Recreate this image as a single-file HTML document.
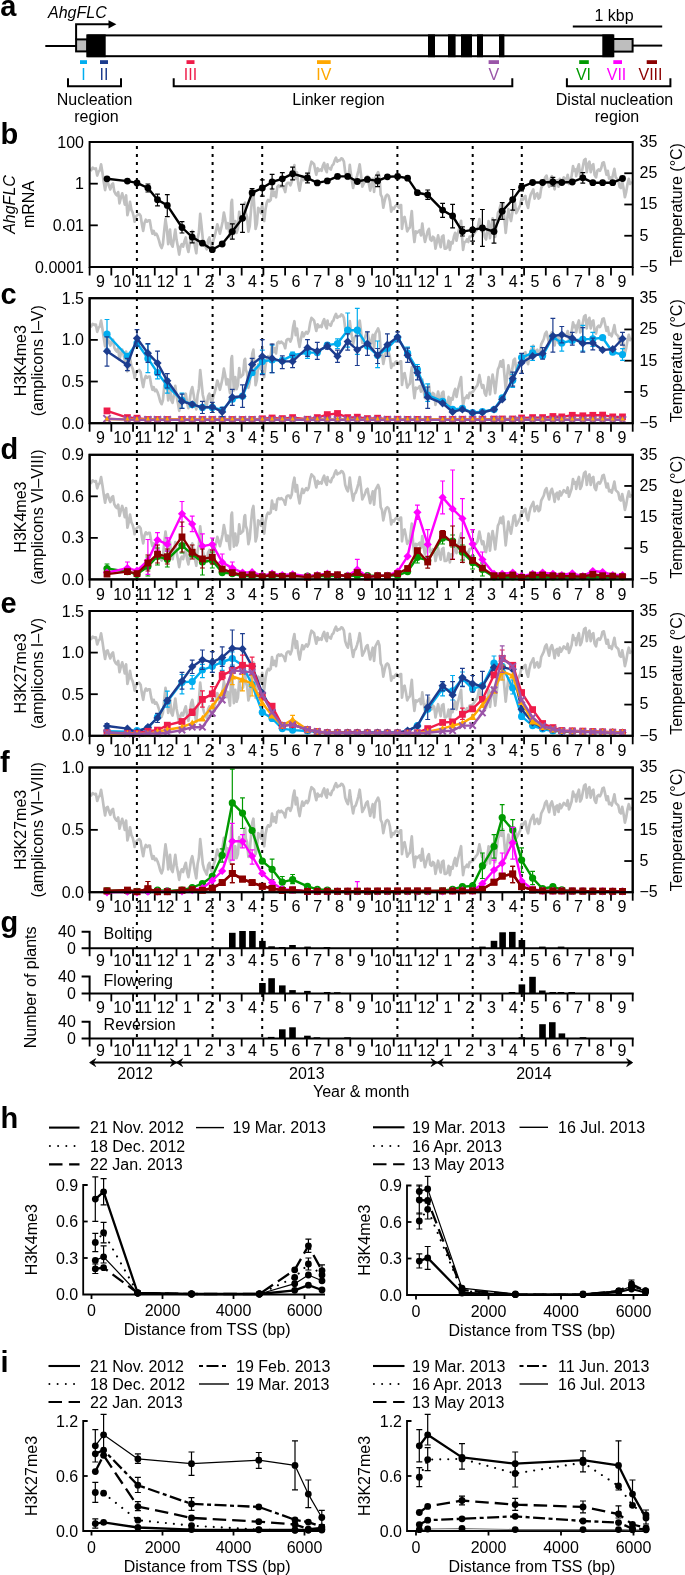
<!DOCTYPE html>
<html><head><meta charset="utf-8"><title>Figure</title>
<style>html,body{margin:0;padding:0;background:#fff;overflow:hidden;} svg{display:block;will-change:transform;} text{font-family:"Liberation Sans", sans-serif;}</style>
</head><body>
<svg width="685" height="1575" viewBox="0 0 685 1575" font-family='"Liberation Sans", sans-serif'>
<rect width="685" height="1575" fill="#fff"/>
<text x="0.30" y="15.80" font-size="29" text-anchor="start" font-weight="bold" font-style="normal" fill="#000" >a</text>
<text x="48.00" y="18.40" font-size="16" text-anchor="start" font-weight="normal" font-style="italic" fill="#000" >AhgFLC</text>
<polyline points="76.1,39.4 76.1,24.3 110,24.3" fill="none" stroke="#000" stroke-width="2"/>
<polygon points="108.5,20.3 116.4,24.3 108.5,28.5" fill="#000"/>
<line x1="45.30" y1="46.00" x2="76.10" y2="46.00" stroke="#000" stroke-width="2" />
<rect x="76.1" y="39.4" width="11.2" height="12.0" fill="#bebebe" stroke="#000" stroke-width="2"/>
<rect x="87.3" y="35.4" width="526" height="20.8" fill="#fff" stroke="#000" stroke-width="2"/>
<rect x="87.3" y="34.4" width="18.40" height="22.8" fill="#000"/>
<rect x="428" y="34.4" width="7.00" height="22.8" fill="#000"/>
<rect x="448" y="34.4" width="7.60" height="22.8" fill="#000"/>
<rect x="461" y="34.4" width="11.00" height="22.8" fill="#000"/>
<rect x="477" y="34.4" width="6.00" height="22.8" fill="#000"/>
<rect x="499" y="34.4" width="5.40" height="22.8" fill="#000"/>
<rect x="602.3" y="34.4" width="11.00" height="22.8" fill="#000"/>
<rect x="613.3" y="39.0" width="19.3" height="12.6" fill="#bebebe" stroke="#000" stroke-width="2"/>
<line x1="632.60" y1="45.60" x2="662.20" y2="45.60" stroke="#000" stroke-width="2" />
<line x1="572.80" y1="26.50" x2="662.20" y2="26.50" stroke="#000" stroke-width="2" />
<text x="614.00" y="20.80" font-size="16" text-anchor="middle" font-weight="normal" font-style="normal" fill="#000" >1 kbp</text>
<rect x="80" y="60.2" width="7.00" height="3.8" fill="#00adef"/>
<text x="83.60" y="80.30" font-size="16" text-anchor="middle" font-weight="normal" font-style="normal" fill="#00adef" >I</text>
<rect x="100" y="60.2" width="8.00" height="3.8" fill="#1c3c8e"/>
<text x="104.00" y="80.30" font-size="16" text-anchor="middle" font-weight="normal" font-style="normal" fill="#1c3c8e" >II</text>
<rect x="186.5" y="60.2" width="8.00" height="3.8" fill="#ef1c4a"/>
<text x="190.50" y="80.30" font-size="16" text-anchor="middle" font-weight="normal" font-style="normal" fill="#ef1c4a" >III</text>
<rect x="317" y="60.2" width="13.70" height="3.8" fill="#ffa700"/>
<text x="323.80" y="80.30" font-size="16" text-anchor="middle" font-weight="normal" font-style="normal" fill="#ffa700" >IV</text>
<rect x="488.6" y="60.2" width="10.40" height="3.8" fill="#9a55a8"/>
<text x="493.80" y="80.30" font-size="16" text-anchor="middle" font-weight="normal" font-style="normal" fill="#9a55a8" >V</text>
<rect x="579.2" y="60.2" width="9.60" height="3.8" fill="#009a00"/>
<text x="583.50" y="80.30" font-size="16" text-anchor="middle" font-weight="normal" font-style="normal" fill="#009a00" >VI</text>
<rect x="613.3" y="60.2" width="8.70" height="3.8" fill="#ff00ff"/>
<text x="616.50" y="80.30" font-size="16" text-anchor="middle" font-weight="normal" font-style="normal" fill="#ff00ff" >VII</text>
<rect x="646.7" y="60.2" width="10.30" height="3.8" fill="#8b0000"/>
<text x="650.50" y="80.30" font-size="16" text-anchor="middle" font-weight="normal" font-style="normal" fill="#8b0000" >VIII</text>
<polyline points="68,78.2 68,86.2 121,86.2 121,78.2" fill="none" stroke="#000" stroke-width="2"/>
<polyline points="173.7,78.2 173.7,86.2 512.3,86.2 512.3,78.2" fill="none" stroke="#000" stroke-width="2"/>
<polyline points="566.9,78.2 566.9,86.2 670.4,86.2 670.4,78.2" fill="none" stroke="#000" stroke-width="2"/>
<text x="94.50" y="105.00" font-size="16" text-anchor="middle" font-weight="normal" font-style="normal" fill="#000" >Nucleation</text>
<text x="96.50" y="122.00" font-size="16" text-anchor="middle" font-weight="normal" font-style="normal" fill="#000" >region</text>
<text x="338.50" y="105.00" font-size="16" text-anchor="middle" font-weight="normal" font-style="normal" fill="#000" >Linker region</text>
<text x="614.50" y="105.00" font-size="16" text-anchor="middle" font-weight="normal" font-style="normal" fill="#000" >Distal nucleation</text>
<text x="617.00" y="122.00" font-size="16" text-anchor="middle" font-weight="normal" font-style="normal" fill="#000" >region</text>
<polyline points="90.6,171.0 92.6,167.7 94.6,169.0 95.9,168.4 97.2,175.6 98.5,171.7 99.8,170.3 101.1,164.4 102.5,173.0 103.8,182.2 105.1,190.1 106.4,182.2 107.7,181.5 109.0,186.1 110.3,189.4 111.7,184.8 113.0,183.5 114.3,191.4 115.6,194.0 116.9,195.4 118.2,192.1 119.5,203.3 120.8,198.0 122.2,193.4 123.5,198.0 124.8,204.6 126.1,195.4 127.4,215.1 128.7,209.8 130.0,201.9 131.4,209.8 132.7,212.5 134.0,217.8 134.6,221.7 136.0,216.4 137.3,215.1 139.2,213.8 140.6,215.8 141.9,224.3 143.2,230.9 144.5,223.0 145.8,219.7 147.1,221.7 148.4,220.4 149.8,220.4 151.1,228.3 152.4,233.6 153.7,230.9 155.0,234.9 156.3,233.6 157.6,236.2 158.9,240.1 160.3,245.4 161.6,248.0 162.9,244.1 164.2,230.9 165.5,219.1 166.8,228.3 168.2,244.1 169.5,233.6 170.0,229.6 171.3,244.1 172.6,246.7 173.9,238.8 175.3,229.6 176.6,240.1 177.9,246.7 179.2,254.6 180.5,246.7 181.8,244.1 183.1,246.7 184.4,241.4 185.8,237.5 187.1,246.7 188.4,252.0 189.7,244.1 191.0,234.9 192.3,230.9 193.7,238.8 195.0,246.7 196.3,253.3 197.6,238.8 198.9,232.2 200.2,213.8 201.5,225.7 202.8,238.8 204.2,244.1 205.5,246.7 206.8,249.4 208.1,240.1 209.4,237.5 210.7,244.1 212.0,246.7 213.4,240.1 214.7,236.2 216.0,230.9 217.3,224.3 218.6,228.3 219.9,233.6 221.2,228.3 222.6,221.7 223.9,212.5 225.2,219.1 226.5,228.3 227.8,223.0 230.0,236.9 231.3,202.6 232.0,199.9 232.6,213.1 233.9,234.2 235.3,221.0 236.6,232.9 237.9,228.9 239.2,211.8 240.5,221.0 241.8,219.7 243.1,218.4 244.4,203.9 245.1,202.6 245.8,213.1 247.1,217.1 248.4,231.6 249.7,226.3 251.0,210.5 252.3,197.3 253.4,193.3 254.3,206.5 255.6,228.9 256.9,223.7 258.2,207.9 259.6,209.2 260.9,213.1 262.2,203.9 263.5,218.4 264.2,221.0 265.5,209.2 266.8,202.6 268.1,199.9 269.4,201.3 270.7,199.9 272.0,188.1 273.4,196.0 274.7,192.0 276.0,197.3 277.3,186.8 278.6,185.4 279.9,186.8 281.2,185.4 282.6,186.8 283.9,188.1 285.2,192.0 286.5,184.1 287.8,182.8 289.1,182.8 290.4,185.4 291.8,181.5 293.1,170.9 294.4,165.0 295.7,178.8 297.0,172.3 298.3,184.1 299.6,190.7 300.9,182.8 302.3,176.2 303.6,180.2 304.9,177.5 306.2,175.6 307.5,177.5 308.8,174.9 310.1,167.0 311.5,161.7 312.8,163.0 314.1,164.3 315.4,170.9 316.3,174.8 317.6,168.2 318.9,170.8 320.3,169.5 321.6,170.8 322.9,165.6 324.2,162.9 325.5,169.5 326.8,172.2 327.5,164.3 328.1,168.2 329.4,168.2 330.8,169.5 332.1,165.6 333.4,164.3 334.7,160.3 336.0,157.7 337.3,161.6 338.6,160.3 340.0,160.3 341.3,158.3 342.6,159.0 343.9,161.6 345.2,172.2 346.5,176.1 347.9,178.8 349.2,170.8 349.8,164.9 350.5,170.8 351.8,180.1 353.1,188.0 354.4,181.4 355.7,180.1 357.0,176.1 358.4,170.8 359.7,164.3 361.0,174.8 362.3,186.7 363.6,184.0 364.9,181.4 366.2,177.4 367.6,176.1 368.9,184.0 370.2,190.6 371.5,184.0 372.8,178.8 374.1,191.9 375.4,177.4 376.8,174.8 378.1,172.2 379.4,176.1 380.7,194.6 382.0,197.2 383.3,207.7 384.6,201.1 385.9,195.9 387.3,194.6 388.6,195.9 389.9,201.1 391.2,211.7 392.5,207.7 393.8,209.0 395.1,206.4 396.5,205.1 397.8,206.4 399.1,207.7 400.4,205.1 401.1,205.1 402.0,228.8 403.3,218.3 404.6,216.9 405.9,223.5 407.2,231.4 408.5,228.8 409.9,227.5 411.2,215.6 411.8,211.0 413.1,230.1 414.4,242.0 415.8,231.4 417.1,232.8 418.4,231.4 419.7,230.1 421.0,235.4 422.3,223.5 423.6,234.1 425.0,242.0 426.3,236.7 427.6,231.4 428.9,228.8 430.2,239.3 431.5,240.7 432.9,236.7 434.2,238.0 435.5,248.6 436.8,242.0 438.1,235.4 439.4,242.0 440.7,247.2 442.0,236.7 443.4,235.4 444.7,248.6 446.0,248.6 447.3,247.2 448.6,240.7 449.9,249.9 451.2,242.0 452.6,243.3 453.9,236.7 455.2,232.8 456.5,240.7 457.8,234.1 459.1,228.8 460.4,223.5 461.1,220.9 461.8,234.1 463.1,249.9 464.4,242.0 465.7,242.0 467.0,239.3 468.3,242.0 469.6,236.7 470.3,236.9 472.9,235.5 475.5,231.6 477.5,228.9 479.4,219.1 480.8,226.3 482.1,231.6 483.4,228.9 484.7,236.9 486.0,239.5 487.3,231.6 488.6,221.0 490.0,238.2 491.3,226.3 492.6,218.4 493.9,226.3 495.2,236.9 496.5,225.0 497.9,213.1 499.2,210.5 500.5,205.2 501.8,210.5 503.1,203.9 504.4,218.4 505.7,232.9 507.0,221.0 508.4,209.2 509.7,215.8 511.0,221.0 512.3,213.1 513.6,203.9 514.9,202.6 516.2,213.1 517.6,210.5 518.9,207.9 520.2,205.2 521.5,198.6 522.8,199.9 524.1,197.3 525.4,196.0 526.8,203.9 528.1,207.9 529.4,199.9 530.7,194.7 532.0,192.0 533.3,189.4 534.6,198.6 536.0,194.7 537.3,193.3 538.6,198.6 539.9,197.3 541.2,188.1 542.5,185.4 543.8,182.8 545.1,177.5 546.5,175.6 547.8,181.5 549.1,186.8 550.6,178.8 551.9,176.1 553.3,181.4 554.6,189.3 555.9,181.4 557.2,180.1 558.5,186.7 559.8,178.8 561.1,182.7 562.5,180.1 563.8,177.4 565.1,178.8 566.4,180.1 567.7,174.8 569.0,184.0 570.3,180.1 571.6,176.1 573.0,166.2 574.3,170.8 575.6,169.5 576.2,176.1 577.6,168.2 578.9,164.3 580.2,176.1 581.5,173.5 582.8,166.9 584.1,160.3 585.5,159.0 586.8,172.2 588.1,164.3 589.4,161.6 590.7,172.2 592.0,165.6 593.3,164.3 594.6,174.8 596.0,177.4 597.3,170.8 598.6,169.5 599.9,170.8 601.2,168.2 602.5,162.9 603.8,162.3 605.1,168.2 606.5,174.8 607.8,170.8 609.1,178.8 610.4,177.4 611.7,180.1 613.0,174.8 614.4,168.9 615.7,177.4 617.0,178.8 618.3,180.1 619.6,186.7 620.9,188.0 622.2,181.4 623.5,188.0 624.9,197.2 626.2,191.9 627.5,184.0 628.8,178.8 630.1,184.0 631.4,181.4" fill="none" stroke="#c0c0c0" stroke-width="2.7" stroke-linejoin="round"/>
<polyline points="90.6,327.2 92.6,323.9 94.6,325.2 95.9,324.6 97.2,331.8 98.5,327.8 99.8,326.5 101.1,320.6 102.5,329.2 103.8,338.4 105.1,346.3 106.4,338.4 107.7,337.7 109.0,342.3 110.3,345.6 111.7,341.0 113.0,339.7 114.3,347.6 115.6,350.2 116.9,351.6 118.2,348.3 119.5,359.5 120.8,354.2 122.2,349.6 123.5,354.2 124.8,360.8 126.1,351.6 127.4,371.3 128.7,366.0 130.0,358.1 131.4,366.0 132.7,368.7 134.0,373.9 134.6,377.9 136.0,372.6 137.3,371.3 139.2,370.0 140.6,372.0 141.9,380.5 143.2,387.1 144.5,379.2 145.8,375.9 147.1,377.9 148.4,376.6 149.8,376.6 151.1,384.5 152.4,389.8 153.7,387.1 155.0,391.1 156.3,389.8 157.6,392.4 158.9,396.3 160.3,401.6 161.6,404.2 162.9,400.3 164.2,387.1 165.5,375.3 166.8,384.5 168.2,400.3 169.5,389.8 170.0,385.8 171.3,400.3 172.6,402.9 173.9,395.0 175.3,385.8 176.6,396.3 177.9,402.9 179.2,410.8 180.5,402.9 181.8,400.3 183.1,402.9 184.4,397.6 185.8,393.7 187.1,402.9 188.4,408.2 189.7,400.3 191.0,391.1 192.3,387.1 193.7,395.0 195.0,402.9 196.3,409.5 197.6,395.0 198.9,388.4 200.2,370.0 201.5,381.9 202.8,395.0 204.2,400.3 205.5,402.9 206.8,405.6 208.1,396.3 209.4,393.7 210.7,400.3 212.0,402.9 213.4,396.3 214.7,392.4 216.0,387.1 217.3,380.5 218.6,384.5 219.9,389.8 221.2,384.5 222.6,377.9 223.9,368.7 225.2,375.3 226.5,384.5 227.8,379.2 230.0,393.1 231.3,358.8 232.0,356.1 232.6,369.3 233.9,390.4 235.3,377.2 236.6,389.1 237.9,385.1 239.2,368.0 240.5,377.2 241.8,375.9 243.1,374.6 244.4,360.1 245.1,358.8 245.8,369.3 247.1,373.3 248.4,387.8 249.7,382.5 251.0,366.7 252.3,353.5 253.4,349.6 254.3,362.7 255.6,385.1 256.9,379.9 258.2,364.1 259.6,365.4 260.9,369.3 262.2,360.1 263.5,374.6 264.2,377.2 265.5,365.4 266.8,358.8 268.1,356.1 269.4,357.5 270.7,356.1 272.0,344.3 273.4,352.2 274.7,348.2 276.0,353.5 277.3,343.0 278.6,341.6 279.9,343.0 281.2,341.6 282.6,343.0 283.9,344.3 285.2,348.2 286.5,340.3 287.8,339.0 289.1,339.0 290.4,341.6 291.8,337.7 293.1,327.1 294.4,321.2 295.7,335.1 297.0,328.5 298.3,340.3 299.6,346.9 300.9,339.0 302.3,332.4 303.6,336.4 304.9,333.7 306.2,331.8 307.5,333.7 308.8,331.1 310.1,323.2 311.5,317.9 312.8,319.2 314.1,320.6 315.4,327.1 316.3,331.0 317.6,324.4 318.9,327.1 320.3,325.7 321.6,327.1 322.9,321.8 324.2,319.1 325.5,325.7 326.8,328.4 327.5,320.5 328.1,324.4 329.4,324.4 330.8,325.7 332.1,321.8 333.4,320.5 334.7,316.5 336.0,313.9 337.3,317.8 338.6,316.5 340.0,316.5 341.3,314.5 342.6,315.2 343.9,317.8 345.2,328.4 346.5,332.3 347.9,334.9 349.2,327.1 349.8,321.1 350.5,327.1 351.8,336.3 353.1,344.2 354.4,337.6 355.7,336.3 357.0,332.3 358.4,327.1 359.7,320.5 361.0,331.0 362.3,342.9 363.6,340.2 364.9,337.6 366.2,333.6 367.6,332.3 368.9,340.2 370.2,346.8 371.5,340.2 372.8,334.9 374.1,348.1 375.4,333.6 376.8,331.0 378.1,328.4 379.4,332.3 380.7,350.8 382.0,353.4 383.3,363.9 384.6,357.3 385.9,352.1 387.3,350.8 388.6,352.1 389.9,357.3 391.2,367.9 392.5,363.9 393.8,365.2 395.1,362.6 396.5,361.3 397.8,362.6 399.1,363.9 400.4,361.3 401.1,361.3 402.0,385.0 403.3,374.5 404.6,373.1 405.9,379.7 407.2,387.6 408.5,385.0 409.9,383.7 411.2,371.8 411.8,367.2 413.1,386.3 414.4,398.2 415.8,387.6 417.1,388.9 418.4,387.6 419.7,386.3 421.0,391.6 422.3,379.7 423.6,390.3 425.0,398.2 426.3,392.9 427.6,387.6 428.9,385.0 430.2,395.5 431.5,396.9 432.9,392.9 434.2,394.2 435.5,404.8 436.8,398.2 438.1,391.6 439.4,398.2 440.7,403.4 442.0,392.9 443.4,391.6 444.7,404.8 446.0,404.8 447.3,403.4 448.6,396.9 449.9,406.1 451.2,398.2 452.6,399.5 453.9,392.9 455.2,388.9 456.5,396.9 457.8,390.3 459.1,385.0 460.4,379.7 461.1,377.1 461.8,390.3 463.1,406.1 464.4,398.2 465.7,398.2 467.0,395.5 468.3,398.2 469.6,392.9 470.3,393.1 472.9,391.7 475.5,387.8 477.5,385.1 479.4,375.2 480.8,382.5 482.1,387.8 483.4,385.1 484.7,393.1 486.0,395.7 487.3,387.8 488.6,377.2 490.0,394.4 491.3,382.5 492.6,374.6 493.9,382.5 495.2,393.1 496.5,381.2 497.9,369.3 499.2,366.7 500.5,361.4 501.8,366.7 503.1,360.1 504.4,374.6 505.7,389.1 507.0,377.2 508.4,365.4 509.7,372.0 511.0,377.2 512.3,369.3 513.6,360.1 514.9,358.8 516.2,369.3 517.6,366.7 518.9,364.1 520.2,361.4 521.5,354.8 522.8,356.1 524.1,353.5 525.4,352.2 526.8,360.1 528.1,364.1 529.4,356.1 530.7,350.9 532.0,348.2 533.3,345.6 534.6,354.8 536.0,350.9 537.3,349.6 538.6,354.8 539.9,353.5 541.2,344.3 542.5,341.6 543.8,339.0 545.1,333.7 546.5,331.8 547.8,337.7 549.1,343.0 550.6,334.9 551.9,332.3 553.3,337.6 554.6,345.5 555.9,337.6 557.2,336.3 558.5,342.9 559.8,334.9 561.1,338.9 562.5,336.3 563.8,333.6 565.1,334.9 566.4,336.3 567.7,331.0 569.0,340.2 570.3,336.3 571.6,332.3 573.0,322.4 574.3,327.1 575.6,325.7 576.2,332.3 577.6,324.4 578.9,320.5 580.2,332.3 581.5,329.7 582.8,323.1 584.1,316.5 585.5,315.2 586.8,328.4 588.1,320.5 589.4,317.8 590.7,328.4 592.0,321.8 593.3,320.5 594.6,331.0 596.0,333.6 597.3,327.1 598.6,325.7 599.9,327.1 601.2,324.4 602.5,319.1 603.8,318.5 605.1,324.4 606.5,331.0 607.8,327.1 609.1,334.9 610.4,333.6 611.7,336.3 613.0,331.0 614.4,325.1 615.7,333.6 617.0,334.9 618.3,336.3 619.6,342.9 620.9,344.2 622.2,337.6 623.5,344.2 624.9,353.4 626.2,348.1 627.5,340.2 628.8,334.9 630.1,340.2 631.4,337.6" fill="none" stroke="#c0c0c0" stroke-width="2.7" stroke-linejoin="round"/>
<polyline points="90.6,483.7 92.6,480.4 94.6,481.7 95.9,481.1 97.2,488.3 98.5,484.4 99.8,483.0 101.1,477.1 102.5,485.7 103.8,494.9 105.1,502.7 106.4,494.9 107.7,494.2 109.0,498.8 110.3,502.1 111.7,497.5 113.0,496.2 114.3,504.1 115.6,506.7 116.9,508.0 118.2,504.7 119.5,515.9 120.8,510.6 122.2,506.0 123.5,510.6 124.8,517.2 126.1,508.0 127.4,527.7 128.7,522.4 130.0,514.6 131.4,522.4 132.7,525.0 134.0,530.3 134.6,534.2 136.0,529.0 137.3,527.7 139.2,526.4 140.6,528.3 141.9,536.9 143.2,543.4 144.5,535.6 145.8,532.3 147.1,534.2 148.4,532.9 149.8,532.9 151.1,540.8 152.4,546.1 153.7,543.4 155.0,547.4 156.3,546.1 157.6,548.7 158.9,552.6 160.3,557.9 161.6,560.5 162.9,556.6 164.2,543.4 165.5,531.6 166.8,540.8 168.2,556.6 169.5,546.1 170.0,542.1 171.3,556.6 172.6,559.2 173.9,551.3 175.3,542.1 176.6,552.6 177.9,559.2 179.2,567.1 180.5,559.2 181.8,556.6 183.1,559.2 184.4,553.9 185.8,550.0 187.1,559.2 188.4,564.4 189.7,556.6 191.0,547.4 192.3,543.4 193.7,551.3 195.0,559.2 196.3,565.8 197.6,551.3 198.9,544.7 200.2,526.4 201.5,538.2 202.8,551.3 204.2,556.6 205.5,559.2 206.8,561.8 208.1,552.6 209.4,550.0 210.7,556.6 212.0,559.2 213.4,552.6 214.7,548.7 216.0,543.4 217.3,536.9 218.6,540.8 219.9,546.1 221.2,540.8 222.6,534.2 223.9,525.0 225.2,531.6 226.5,540.8 227.8,535.6 230.0,549.3 231.3,515.2 232.0,512.6 232.6,525.7 233.9,546.7 235.3,533.6 236.6,545.4 237.9,541.5 239.2,524.4 240.5,533.6 241.8,532.3 243.1,531.0 244.4,516.5 245.1,515.2 245.8,525.7 247.1,529.6 248.4,544.1 249.7,538.8 251.0,523.1 252.3,509.9 253.4,506.0 254.3,519.1 255.6,541.5 256.9,536.2 258.2,520.4 259.6,521.7 260.9,525.7 262.2,516.5 263.5,531.0 264.2,533.6 265.5,521.7 266.8,515.2 268.1,512.6 269.4,513.9 270.7,512.6 272.0,500.7 273.4,508.6 274.7,504.7 276.0,509.9 277.3,499.4 278.6,498.1 279.9,499.4 281.2,498.1 282.6,499.4 283.9,500.7 285.2,504.7 286.5,496.8 287.8,495.5 289.1,495.5 290.4,498.1 291.8,494.2 293.1,483.6 294.4,477.7 295.7,491.5 297.0,485.0 298.3,496.8 299.6,503.4 300.9,495.5 302.3,488.9 303.6,492.9 304.9,490.2 306.2,488.2 307.5,490.2 308.8,487.6 310.1,479.7 311.5,474.4 312.8,475.8 314.1,477.1 315.4,483.6 316.3,487.5 317.6,480.9 318.9,483.6 320.3,482.2 321.6,483.6 322.9,478.3 324.2,475.7 325.5,482.2 326.8,484.9 327.5,477.0 328.1,480.9 329.4,480.9 330.8,482.2 332.1,478.3 333.4,477.0 334.7,473.1 336.0,470.4 337.3,474.4 338.6,473.1 340.0,473.1 341.3,471.1 342.6,471.7 343.9,474.4 345.2,484.9 346.5,488.8 347.9,491.4 349.2,483.6 349.8,477.7 350.5,483.6 351.8,492.7 353.1,500.6 354.4,494.1 355.7,492.7 357.0,488.8 358.4,483.6 359.7,477.0 361.0,487.5 362.3,499.3 363.6,496.7 364.9,494.1 366.2,490.1 367.6,488.8 368.9,496.7 370.2,503.2 371.5,496.7 372.8,491.4 374.1,504.6 375.4,490.1 376.8,487.5 378.1,484.9 379.4,488.8 380.7,507.2 382.0,509.8 383.3,520.3 384.6,513.7 385.9,508.5 387.3,507.2 388.6,508.5 389.9,513.7 391.2,524.3 392.5,520.3 393.8,521.6 395.1,519.0 396.5,517.7 397.8,519.0 399.1,520.3 400.4,517.7 401.1,517.7 402.0,541.3 403.3,530.8 404.6,529.5 405.9,536.1 407.2,543.9 408.5,541.3 409.9,540.0 411.2,528.2 411.8,523.6 413.1,542.6 414.4,554.4 415.8,543.9 417.1,545.3 418.4,543.9 419.7,542.6 421.0,547.9 422.3,536.1 423.6,546.6 425.0,554.4 426.3,549.2 427.6,543.9 428.9,541.3 430.2,551.8 431.5,553.1 432.9,549.2 434.2,550.5 435.5,561.0 436.8,554.4 438.1,547.9 439.4,554.4 440.7,559.7 442.0,549.2 443.4,547.9 444.7,561.0 446.0,561.0 447.3,559.7 448.6,553.1 449.9,562.3 451.2,554.4 452.6,555.8 453.9,549.2 455.2,545.3 456.5,553.1 457.8,546.6 459.1,541.3 460.4,536.1 461.1,533.4 461.8,546.6 463.1,562.3 464.4,554.4 465.7,554.4 467.0,551.8 468.3,554.4 469.6,549.2 470.3,549.3 472.9,548.0 475.5,544.1 477.5,541.5 479.4,531.6 480.8,538.8 482.1,544.1 483.4,541.5 484.7,549.3 486.0,552.0 487.3,544.1 488.6,533.6 490.0,550.7 491.3,538.8 492.6,531.0 493.9,538.8 495.2,549.3 496.5,537.5 497.9,525.7 499.2,523.1 500.5,517.8 501.8,523.1 503.1,516.5 504.4,531.0 505.7,545.4 507.0,533.6 508.4,521.7 509.7,528.3 511.0,533.6 512.3,525.7 513.6,516.5 514.9,515.2 516.2,525.7 517.6,523.1 518.9,520.4 520.2,517.8 521.5,511.2 522.8,512.6 524.1,509.9 525.4,508.6 526.8,516.5 528.1,520.4 529.4,512.6 530.7,507.3 532.0,504.7 533.3,502.0 534.6,511.2 536.0,507.3 537.3,506.0 538.6,511.2 539.9,509.9 541.2,500.7 542.5,498.1 543.8,495.5 545.1,490.2 546.5,488.2 547.8,494.2 549.1,499.4 550.6,491.4 551.9,488.8 553.3,494.1 554.6,501.9 555.9,494.1 557.2,492.7 558.5,499.3 559.8,491.4 561.1,495.4 562.5,492.7 563.8,490.1 565.1,491.4 566.4,492.7 567.7,487.5 569.0,496.7 570.3,492.7 571.6,488.8 573.0,479.0 574.3,483.6 575.6,482.2 576.2,488.8 577.6,480.9 578.9,477.0 580.2,488.8 581.5,486.2 582.8,479.6 584.1,473.1 585.5,471.7 586.8,484.9 588.1,477.0 589.4,474.4 590.7,484.9 592.0,478.3 593.3,477.0 594.6,487.5 596.0,490.1 597.3,483.6 598.6,482.2 599.9,483.6 601.2,480.9 602.5,475.7 603.8,475.0 605.1,480.9 606.5,487.5 607.8,483.6 609.1,491.4 610.4,490.1 611.7,492.7 613.0,487.5 614.4,481.6 615.7,490.1 617.0,491.4 618.3,492.7 619.6,499.3 620.9,500.6 622.2,494.1 623.5,500.6 624.9,509.8 626.2,504.6 627.5,496.7 628.8,491.4 630.1,496.7 631.4,494.1" fill="none" stroke="#c0c0c0" stroke-width="2.7" stroke-linejoin="round"/>
<polyline points="90.6,639.9 92.6,636.7 94.6,638.0 95.9,637.3 97.2,644.5 98.5,640.6 99.8,639.3 101.1,633.4 102.5,641.9 103.8,651.1 105.1,659.0 106.4,651.1 107.7,650.5 109.0,655.1 110.3,658.4 111.7,653.8 113.0,652.4 114.3,660.3 115.6,663.0 116.9,664.3 118.2,661.0 119.5,672.2 120.8,666.9 122.2,662.3 123.5,666.9 124.8,673.5 126.1,664.3 127.4,684.0 128.7,678.7 130.0,670.9 131.4,678.7 132.7,681.4 134.0,686.6 134.6,690.6 136.0,685.3 137.3,684.0 139.2,682.7 140.6,684.7 141.9,693.2 143.2,699.8 144.5,691.9 145.8,688.6 147.1,690.6 148.4,689.3 149.8,689.3 151.1,697.1 152.4,702.4 153.7,699.8 155.0,703.7 156.3,702.4 157.6,705.0 158.9,709.0 160.3,714.2 161.6,716.9 162.9,712.9 164.2,699.8 165.5,687.9 166.8,697.1 168.2,712.9 169.5,702.4 170.0,698.5 171.3,712.9 172.6,715.6 173.9,707.7 175.3,698.5 176.6,709.0 177.9,715.6 179.2,723.4 180.5,715.6 181.8,712.9 183.1,715.6 184.4,710.3 185.8,706.3 187.1,715.6 188.4,720.8 189.7,712.9 191.0,703.7 192.3,699.8 193.7,707.7 195.0,715.6 196.3,722.1 197.6,707.7 198.9,701.1 200.2,682.7 201.5,694.5 202.8,707.7 204.2,712.9 205.5,715.6 206.8,718.2 208.1,709.0 209.4,706.3 210.7,712.9 212.0,715.6 213.4,709.0 214.7,705.0 216.0,699.8 217.3,693.2 218.6,697.1 219.9,702.4 221.2,697.1 222.6,690.6 223.9,681.4 225.2,687.9 226.5,697.1 227.8,691.9 230.0,705.7 231.3,671.5 232.0,668.8 232.6,682.0 233.9,703.1 235.3,689.9 236.6,701.7 237.9,697.8 239.2,680.7 240.5,689.9 241.8,688.6 243.1,687.3 244.4,672.8 245.1,671.5 245.8,682.0 247.1,686.0 248.4,700.4 249.7,695.2 251.0,679.4 252.3,666.2 253.4,662.3 254.3,675.4 255.6,697.8 256.9,692.5 258.2,676.7 259.6,678.1 260.9,682.0 262.2,672.8 263.5,687.3 264.2,689.9 265.5,678.1 266.8,671.5 268.1,668.8 269.4,670.2 270.7,668.8 272.0,657.0 273.4,664.9 274.7,661.0 276.0,666.2 277.3,655.7 278.6,654.4 279.9,655.7 281.2,654.4 282.6,655.7 283.9,657.0 285.2,661.0 286.5,653.1 287.8,651.7 289.1,651.7 290.4,654.4 291.8,650.4 293.1,639.9 294.4,634.0 295.7,647.8 297.0,641.2 298.3,653.1 299.6,659.6 300.9,651.7 302.3,645.2 303.6,649.1 304.9,646.5 306.2,644.5 307.5,646.5 308.8,643.8 310.1,635.9 311.5,630.7 312.8,632.0 314.1,633.3 315.4,639.9 316.3,643.7 317.6,637.2 318.9,639.8 320.3,638.5 321.6,639.8 322.9,634.5 324.2,631.9 325.5,638.5 326.8,641.1 327.5,633.2 328.1,637.2 329.4,637.2 330.8,638.5 332.1,634.5 333.4,633.2 334.7,629.3 336.0,626.6 337.3,630.6 338.6,629.3 340.0,629.3 341.3,627.3 342.6,628.0 343.9,630.6 345.2,641.1 346.5,645.1 347.9,647.7 349.2,639.8 349.8,633.9 350.5,639.8 351.8,649.0 353.1,656.9 354.4,650.3 355.7,649.0 357.0,645.1 358.4,639.8 359.7,633.2 361.0,643.7 362.3,655.6 363.6,652.9 364.9,650.3 366.2,646.4 367.6,645.1 368.9,652.9 370.2,659.5 371.5,652.9 372.8,647.7 374.1,660.8 375.4,646.4 376.8,643.7 378.1,641.1 379.4,645.1 380.7,663.5 382.0,666.1 383.3,676.6 384.6,670.0 385.9,664.8 387.3,663.5 388.6,664.8 389.9,670.0 391.2,680.6 392.5,676.6 393.8,677.9 395.1,675.3 396.5,674.0 397.8,675.3 399.1,676.6 400.4,674.0 401.1,674.0 402.0,697.7 403.3,687.1 404.6,685.8 405.9,692.4 407.2,700.3 408.5,697.7 409.9,696.3 411.2,684.5 411.8,679.9 413.1,699.0 414.4,710.8 415.8,700.3 417.1,701.6 418.4,700.3 419.7,699.0 421.0,704.2 422.3,692.4 423.6,702.9 425.0,710.8 426.3,705.5 427.6,700.3 428.9,697.7 430.2,708.2 431.5,709.5 432.9,705.5 434.2,706.9 435.5,717.4 436.8,710.8 438.1,704.2 439.4,710.8 440.7,716.1 442.0,705.5 443.4,704.2 444.7,717.4 446.0,717.4 447.3,716.1 448.6,709.5 449.9,718.7 451.2,710.8 452.6,712.1 453.9,705.5 455.2,701.6 456.5,709.5 457.8,702.9 459.1,697.7 460.4,692.4 461.1,689.8 461.8,702.9 463.1,718.7 464.4,710.8 465.7,710.8 467.0,708.2 468.3,710.8 469.6,705.5 470.3,705.7 472.9,704.4 475.5,700.4 477.5,697.8 479.4,687.9 480.8,695.2 482.1,700.4 483.4,697.8 484.7,705.7 486.0,708.3 487.3,700.4 488.6,689.9 490.0,707.0 491.3,695.2 492.6,687.3 493.9,695.2 495.2,705.7 496.5,693.9 497.9,682.0 499.2,679.4 500.5,674.1 501.8,679.4 503.1,672.8 504.4,687.3 505.7,701.7 507.0,689.9 508.4,678.1 509.7,684.6 511.0,689.9 512.3,682.0 513.6,672.8 514.9,671.5 516.2,682.0 517.6,679.4 518.9,676.7 520.2,674.1 521.5,667.5 522.8,668.8 524.1,666.2 525.4,664.9 526.8,672.8 528.1,676.7 529.4,668.8 530.7,663.6 532.0,661.0 533.3,658.3 534.6,667.5 536.0,663.6 537.3,662.3 538.6,667.5 539.9,666.2 541.2,657.0 542.5,654.4 543.8,651.7 545.1,646.5 546.5,644.5 547.8,650.4 549.1,655.7 550.6,647.7 551.9,645.1 553.3,650.3 554.6,658.2 555.9,650.3 557.2,649.0 558.5,655.6 559.8,647.7 561.1,651.6 562.5,649.0 563.8,646.4 565.1,647.7 566.4,649.0 567.7,643.7 569.0,652.9 570.3,649.0 571.6,645.1 573.0,635.2 574.3,639.8 575.6,638.5 576.2,645.1 577.6,637.2 578.9,633.2 580.2,645.1 581.5,642.4 582.8,635.9 584.1,629.3 585.5,628.0 586.8,641.1 588.1,633.2 589.4,630.6 590.7,641.1 592.0,634.5 593.3,633.2 594.6,643.7 596.0,646.4 597.3,639.8 598.6,638.5 599.9,639.8 601.2,637.2 602.5,631.9 603.8,631.3 605.1,637.2 606.5,643.7 607.8,639.8 609.1,647.7 610.4,646.4 611.7,649.0 613.0,643.7 614.4,637.8 615.7,646.4 617.0,647.7 618.3,649.0 619.6,655.6 620.9,656.9 622.2,650.3 623.5,656.9 624.9,666.1 626.2,660.8 627.5,652.9 628.8,647.7 630.1,652.9 631.4,650.3" fill="none" stroke="#c0c0c0" stroke-width="2.7" stroke-linejoin="round"/>
<polyline points="90.6,796.4 92.6,793.1 94.6,794.4 95.9,793.8 97.2,801.0 98.5,797.1 99.8,795.8 101.1,789.9 102.5,798.4 103.8,807.6 105.1,815.5 106.4,807.6 107.7,806.9 109.0,811.5 110.3,814.8 111.7,810.2 113.0,808.9 114.3,816.8 115.6,819.4 116.9,820.7 118.2,817.4 119.5,828.6 120.8,823.4 122.2,818.8 123.5,823.4 124.8,829.9 126.1,820.7 127.4,840.4 128.7,835.2 130.0,827.3 131.4,835.2 132.7,837.8 134.0,843.1 134.6,847.0 136.0,841.8 137.3,840.4 139.2,839.1 140.6,841.1 141.9,849.6 143.2,856.2 144.5,848.3 145.8,845.0 147.1,847.0 148.4,845.7 149.8,845.7 151.1,853.6 152.4,858.8 153.7,856.2 155.0,860.2 156.3,858.8 157.6,861.5 158.9,865.4 160.3,870.7 161.6,873.3 162.9,869.3 164.2,856.2 165.5,844.4 166.8,853.6 168.2,869.3 169.5,858.8 170.0,854.9 171.3,869.3 172.6,872.0 173.9,864.1 175.3,854.9 176.6,865.4 177.9,872.0 179.2,879.9 180.5,872.0 181.8,869.3 183.1,872.0 184.4,866.7 185.8,862.8 187.1,872.0 188.4,877.2 189.7,869.3 191.0,860.2 192.3,856.2 193.7,864.1 195.0,872.0 196.3,878.5 197.6,864.1 198.9,857.5 200.2,839.1 201.5,850.9 202.8,864.1 204.2,869.3 205.5,872.0 206.8,874.6 208.1,865.4 209.4,862.8 210.7,869.3 212.0,872.0 213.4,865.4 214.7,861.5 216.0,856.2 217.3,849.6 218.6,853.6 219.9,858.8 221.2,853.6 222.6,847.0 223.9,837.8 225.2,844.4 226.5,853.6 227.8,848.3 230.0,862.1 231.3,827.9 232.0,825.3 232.6,838.5 233.9,859.5 235.3,846.3 236.6,858.2 237.9,854.2 239.2,837.1 240.5,846.3 241.8,845.0 243.1,843.7 244.4,829.3 245.1,827.9 245.8,838.5 247.1,842.4 248.4,856.9 249.7,851.6 251.0,835.8 252.3,822.7 253.4,818.7 254.3,831.9 255.6,854.2 256.9,849.0 258.2,833.2 259.6,834.5 260.9,838.5 262.2,829.3 263.5,843.7 264.2,846.3 265.5,834.5 266.8,827.9 268.1,825.3 269.4,826.6 270.7,825.3 272.0,813.5 273.4,821.4 274.7,817.4 276.0,822.7 277.3,812.2 278.6,810.8 279.9,812.2 281.2,810.8 282.6,812.2 283.9,813.5 285.2,817.4 286.5,809.5 287.8,808.2 289.1,808.2 290.4,810.8 291.8,806.9 293.1,796.4 294.4,790.5 295.7,804.3 297.0,797.7 298.3,809.5 299.6,816.1 300.9,808.2 302.3,801.6 303.6,805.6 304.9,803.0 306.2,801.0 307.5,803.0 308.8,800.3 310.1,792.4 311.5,787.2 312.8,788.5 314.1,789.8 315.4,796.4 316.3,800.2 317.6,793.6 318.9,796.3 320.3,795.0 321.6,796.3 322.9,791.0 324.2,788.4 325.5,795.0 326.8,797.6 327.5,789.7 328.1,793.6 329.4,793.6 330.8,795.0 332.1,791.0 333.4,789.7 334.7,785.8 336.0,783.1 337.3,787.1 338.6,785.8 340.0,785.8 341.3,783.8 342.6,784.4 343.9,787.1 345.2,797.6 346.5,801.5 347.9,804.2 349.2,796.3 349.8,790.4 350.5,796.3 351.8,805.5 353.1,813.4 354.4,806.8 355.7,805.5 357.0,801.5 358.4,796.3 359.7,789.7 361.0,800.2 362.3,812.0 363.6,809.4 364.9,806.8 366.2,802.9 367.6,801.5 368.9,809.4 370.2,816.0 371.5,809.4 372.8,804.2 374.1,817.3 375.4,802.9 376.8,800.2 378.1,797.6 379.4,801.5 380.7,819.9 382.0,822.6 383.3,833.1 384.6,826.5 385.9,821.2 387.3,819.9 388.6,821.2 389.9,826.5 391.2,837.0 392.5,833.1 393.8,834.4 395.1,831.8 396.5,830.4 397.8,831.8 399.1,833.1 400.4,830.4 401.1,830.4 402.0,854.1 403.3,843.6 404.6,842.3 405.9,848.8 407.2,856.7 408.5,854.1 409.9,852.8 411.2,840.9 411.8,836.3 413.1,855.4 414.4,867.2 415.8,856.7 417.1,858.0 418.4,856.7 419.7,855.4 421.0,860.7 422.3,848.8 423.6,859.3 425.0,867.2 426.3,862.0 427.6,856.7 428.9,854.1 430.2,864.6 431.5,865.9 432.9,862.0 434.2,863.3 435.5,873.8 436.8,867.2 438.1,860.7 439.4,867.2 440.7,872.5 442.0,862.0 443.4,860.7 444.7,873.8 446.0,873.8 447.3,872.5 448.6,865.9 449.9,875.1 451.2,867.2 452.6,868.5 453.9,862.0 455.2,858.0 456.5,865.9 457.8,859.3 459.1,854.1 460.4,848.8 461.1,846.2 461.8,859.3 463.1,875.1 464.4,867.2 465.7,867.2 467.0,864.6 468.3,867.2 469.6,862.0 470.3,862.1 472.9,860.8 475.5,856.9 477.5,854.2 479.4,844.4 480.8,851.6 482.1,856.9 483.4,854.2 484.7,862.1 486.0,864.8 487.3,856.9 488.6,846.3 490.0,863.4 491.3,851.6 492.6,843.7 493.9,851.6 495.2,862.1 496.5,850.3 497.9,838.5 499.2,835.8 500.5,830.6 501.8,835.8 503.1,829.3 504.4,843.7 505.7,858.2 507.0,846.3 508.4,834.5 509.7,841.1 511.0,846.3 512.3,838.5 513.6,829.3 514.9,827.9 516.2,838.5 517.6,835.8 518.9,833.2 520.2,830.6 521.5,824.0 522.8,825.3 524.1,822.7 525.4,821.4 526.8,829.3 528.1,833.2 529.4,825.3 530.7,820.0 532.0,817.4 533.3,814.8 534.6,824.0 536.0,820.0 537.3,818.7 538.6,824.0 539.9,822.7 541.2,813.5 542.5,810.8 543.8,808.2 545.1,803.0 546.5,801.0 547.8,806.9 549.1,812.2 550.6,804.2 551.9,801.5 553.3,806.8 554.6,814.7 555.9,806.8 557.2,805.5 558.5,812.0 559.8,804.2 561.1,808.1 562.5,805.5 563.8,802.9 565.1,804.2 566.4,805.5 567.7,800.2 569.0,809.4 570.3,805.5 571.6,801.5 573.0,791.7 574.3,796.3 575.6,795.0 576.2,801.5 577.6,793.6 578.9,789.7 580.2,801.5 581.5,798.9 582.8,792.3 584.1,785.8 585.5,784.4 586.8,797.6 588.1,789.7 589.4,787.1 590.7,797.6 592.0,791.0 593.3,789.7 594.6,800.2 596.0,802.9 597.3,796.3 598.6,795.0 599.9,796.3 601.2,793.6 602.5,788.4 603.8,787.7 605.1,793.6 606.5,800.2 607.8,796.3 609.1,804.2 610.4,802.9 611.7,805.5 613.0,800.2 614.4,794.3 615.7,802.9 617.0,804.2 618.3,805.5 619.6,812.0 620.9,813.4 622.2,806.8 623.5,813.4 624.9,822.6 626.2,817.3 627.5,809.4 628.8,804.2 630.1,809.4 631.4,806.8" fill="none" stroke="#c0c0c0" stroke-width="2.7" stroke-linejoin="round"/>
<line x1="136.90" y1="146.00" x2="136.90" y2="1038.30" stroke="#000" stroke-width="2" stroke-dasharray="3 5"/>
<line x1="212.60" y1="146.00" x2="212.60" y2="1038.30" stroke="#000" stroke-width="2" stroke-dasharray="3 5"/>
<line x1="262.20" y1="146.00" x2="262.20" y2="1038.30" stroke="#000" stroke-width="2" stroke-dasharray="3 5"/>
<line x1="397.40" y1="146.00" x2="397.40" y2="1038.30" stroke="#000" stroke-width="2" stroke-dasharray="3 5"/>
<line x1="472.70" y1="146.00" x2="472.70" y2="1038.30" stroke="#000" stroke-width="2" stroke-dasharray="3 5"/>
<line x1="521.80" y1="146.00" x2="521.80" y2="1038.30" stroke="#000" stroke-width="2" stroke-dasharray="3 5"/>
<text x="0.50" y="143.90" font-size="29" text-anchor="start" font-weight="bold" font-style="normal" fill="#000" >b</text>
<rect x="89.6" y="142.0" width="543.10" height="125.00" fill="none" stroke="#000" stroke-width="2"/>
<text x="639.50" y="146.80" font-size="16" text-anchor="start" font-weight="normal" font-style="normal" fill="#000" >35</text>
<line x1="624.30" y1="173.25" x2="632.70" y2="173.25" stroke="#000" stroke-width="1.8" />
<text x="639.50" y="178.05" font-size="16" text-anchor="start" font-weight="normal" font-style="normal" fill="#000" >25</text>
<line x1="624.30" y1="204.50" x2="632.70" y2="204.50" stroke="#000" stroke-width="1.8" />
<text x="639.50" y="209.30" font-size="16" text-anchor="start" font-weight="normal" font-style="normal" fill="#000" >15</text>
<line x1="624.30" y1="235.75" x2="632.70" y2="235.75" stroke="#000" stroke-width="1.8" />
<text x="639.50" y="240.55" font-size="16" text-anchor="start" font-weight="normal" font-style="normal" fill="#000" >5</text>
<text x="639.50" y="271.80" font-size="16" text-anchor="start" font-weight="normal" font-style="normal" fill="#000" >−5</text>
<text x="84.00" y="272.60" font-size="16" text-anchor="end" font-weight="normal" font-style="normal" fill="#000" >0.0001</text>
<line x1="89.60" y1="225.33" x2="97.80" y2="225.33" stroke="#000" stroke-width="1.8" />
<text x="84.00" y="230.93" font-size="16" text-anchor="end" font-weight="normal" font-style="normal" fill="#000" >0.01</text>
<line x1="89.60" y1="183.67" x2="97.80" y2="183.67" stroke="#000" stroke-width="1.8" />
<text x="84.00" y="189.27" font-size="16" text-anchor="end" font-weight="normal" font-style="normal" fill="#000" >1</text>
<text x="84.00" y="147.60" font-size="16" text-anchor="end" font-weight="normal" font-style="normal" fill="#000" >100</text>
<line x1="89.60" y1="267.00" x2="89.60" y2="275.50" stroke="#000" stroke-width="1.8" />
<line x1="111.32" y1="267.00" x2="111.32" y2="275.50" stroke="#000" stroke-width="1.8" />
<line x1="133.05" y1="267.00" x2="133.05" y2="275.50" stroke="#000" stroke-width="1.8" />
<line x1="154.77" y1="267.00" x2="154.77" y2="275.50" stroke="#000" stroke-width="1.8" />
<line x1="176.50" y1="267.00" x2="176.50" y2="275.50" stroke="#000" stroke-width="1.8" />
<line x1="198.22" y1="267.00" x2="198.22" y2="275.50" stroke="#000" stroke-width="1.8" />
<line x1="219.94" y1="267.00" x2="219.94" y2="275.50" stroke="#000" stroke-width="1.8" />
<line x1="241.67" y1="267.00" x2="241.67" y2="275.50" stroke="#000" stroke-width="1.8" />
<line x1="263.39" y1="267.00" x2="263.39" y2="275.50" stroke="#000" stroke-width="1.8" />
<line x1="285.12" y1="267.00" x2="285.12" y2="275.50" stroke="#000" stroke-width="1.8" />
<line x1="306.84" y1="267.00" x2="306.84" y2="275.50" stroke="#000" stroke-width="1.8" />
<line x1="328.56" y1="267.00" x2="328.56" y2="275.50" stroke="#000" stroke-width="1.8" />
<line x1="350.29" y1="267.00" x2="350.29" y2="275.50" stroke="#000" stroke-width="1.8" />
<line x1="372.01" y1="267.00" x2="372.01" y2="275.50" stroke="#000" stroke-width="1.8" />
<line x1="393.74" y1="267.00" x2="393.74" y2="275.50" stroke="#000" stroke-width="1.8" />
<line x1="415.46" y1="267.00" x2="415.46" y2="275.50" stroke="#000" stroke-width="1.8" />
<line x1="437.18" y1="267.00" x2="437.18" y2="275.50" stroke="#000" stroke-width="1.8" />
<line x1="458.91" y1="267.00" x2="458.91" y2="275.50" stroke="#000" stroke-width="1.8" />
<line x1="480.63" y1="267.00" x2="480.63" y2="275.50" stroke="#000" stroke-width="1.8" />
<line x1="502.36" y1="267.00" x2="502.36" y2="275.50" stroke="#000" stroke-width="1.8" />
<line x1="524.08" y1="267.00" x2="524.08" y2="275.50" stroke="#000" stroke-width="1.8" />
<line x1="545.80" y1="267.00" x2="545.80" y2="275.50" stroke="#000" stroke-width="1.8" />
<line x1="567.53" y1="267.00" x2="567.53" y2="275.50" stroke="#000" stroke-width="1.8" />
<line x1="589.25" y1="267.00" x2="589.25" y2="275.50" stroke="#000" stroke-width="1.8" />
<line x1="610.98" y1="267.00" x2="610.98" y2="275.50" stroke="#000" stroke-width="1.8" />
<line x1="632.70" y1="267.00" x2="632.70" y2="275.50" stroke="#000" stroke-width="1.8" />
<text x="100.46" y="286.80" font-size="16" text-anchor="middle" font-weight="normal" font-style="normal" fill="#000" >9</text>
<text x="122.19" y="286.80" font-size="16" text-anchor="middle" font-weight="normal" font-style="normal" fill="#000" >10</text>
<text x="143.91" y="286.80" font-size="16" text-anchor="middle" font-weight="normal" font-style="normal" fill="#000" >11</text>
<text x="165.63" y="286.80" font-size="16" text-anchor="middle" font-weight="normal" font-style="normal" fill="#000" >12</text>
<text x="187.36" y="286.80" font-size="16" text-anchor="middle" font-weight="normal" font-style="normal" fill="#000" >1</text>
<text x="209.08" y="286.80" font-size="16" text-anchor="middle" font-weight="normal" font-style="normal" fill="#000" >2</text>
<text x="230.81" y="286.80" font-size="16" text-anchor="middle" font-weight="normal" font-style="normal" fill="#000" >3</text>
<text x="252.53" y="286.80" font-size="16" text-anchor="middle" font-weight="normal" font-style="normal" fill="#000" >4</text>
<text x="274.25" y="286.80" font-size="16" text-anchor="middle" font-weight="normal" font-style="normal" fill="#000" >5</text>
<text x="295.98" y="286.80" font-size="16" text-anchor="middle" font-weight="normal" font-style="normal" fill="#000" >6</text>
<text x="317.70" y="286.80" font-size="16" text-anchor="middle" font-weight="normal" font-style="normal" fill="#000" >7</text>
<text x="339.43" y="286.80" font-size="16" text-anchor="middle" font-weight="normal" font-style="normal" fill="#000" >8</text>
<text x="361.15" y="286.80" font-size="16" text-anchor="middle" font-weight="normal" font-style="normal" fill="#000" >9</text>
<text x="382.87" y="286.80" font-size="16" text-anchor="middle" font-weight="normal" font-style="normal" fill="#000" >10</text>
<text x="404.60" y="286.80" font-size="16" text-anchor="middle" font-weight="normal" font-style="normal" fill="#000" >11</text>
<text x="426.32" y="286.80" font-size="16" text-anchor="middle" font-weight="normal" font-style="normal" fill="#000" >12</text>
<text x="448.05" y="286.80" font-size="16" text-anchor="middle" font-weight="normal" font-style="normal" fill="#000" >1</text>
<text x="469.77" y="286.80" font-size="16" text-anchor="middle" font-weight="normal" font-style="normal" fill="#000" >2</text>
<text x="491.49" y="286.80" font-size="16" text-anchor="middle" font-weight="normal" font-style="normal" fill="#000" >3</text>
<text x="513.22" y="286.80" font-size="16" text-anchor="middle" font-weight="normal" font-style="normal" fill="#000" >4</text>
<text x="534.94" y="286.80" font-size="16" text-anchor="middle" font-weight="normal" font-style="normal" fill="#000" >5</text>
<text x="556.67" y="286.80" font-size="16" text-anchor="middle" font-weight="normal" font-style="normal" fill="#000" >6</text>
<text x="578.39" y="286.80" font-size="16" text-anchor="middle" font-weight="normal" font-style="normal" fill="#000" >7</text>
<text x="600.11" y="286.80" font-size="16" text-anchor="middle" font-weight="normal" font-style="normal" fill="#000" >8</text>
<text x="621.84" y="286.80" font-size="16" text-anchor="middle" font-weight="normal" font-style="normal" fill="#000" >9</text>
<text transform="translate(676.30,204.50) rotate(-90)" x="0" y="5.60" font-size="16" text-anchor="middle" font-style="normal">Temperature (°C)</text>
<text transform="translate(9.8,204.5) rotate(-90)" font-size="16" text-anchor="middle" y="5.5"><tspan font-style="italic">AhgFLC</tspan></text>
<text transform="translate(28.60,204.50) rotate(-90)" x="0" y="5.60" font-size="16" text-anchor="middle" font-style="normal">mRNA</text>
<polyline points="107.0,178.8 127.4,181.1 137.0,182.9 147.9,188.0 157.5,199.7 167.3,205.4 182.0,227.5 192.2,237.1 202.4,243.2 212.3,249.7 222.2,244.0 232.3,231.6 242.5,218.3 252.1,192.7 262.3,188.0 272.1,181.9 282.3,178.8 292.6,173.7 307.5,178.0 317.3,182.9 327.3,180.9 337.5,176.4 347.7,176.4 357.3,181.5 367.4,179.4 377.6,180.9 387.4,176.8 397.6,176.4 407.6,178.2 417.4,192.7 427.7,194.8 442.6,210.1 452.6,216.0 462.4,231.6 472.6,229.9 482.4,228.0 494.0,231.6 502.2,211.2 512.7,199.6 521.6,187.2 532.6,182.5 542.6,182.5 552.9,182.0 561.8,182.5 572.3,182.0 582.8,177.8 592.8,182.7 602.6,182.7 612.7,182.7 622.5,178.5" fill="none" stroke="#000" stroke-width="2.4" stroke-linejoin="round"/>
<path d="M147.9,184.0V192.0M145.5,184.0H150.3M145.5,192.0H150.3" stroke="#000" stroke-width="1.2" fill="none"/>
<path d="M157.5,194.2V205.8M155.1,194.2H159.9M155.1,205.8H159.9" stroke="#000" stroke-width="1.2" fill="none"/>
<path d="M167.3,194.6V216.6M164.9,194.6H169.7M164.9,216.6H169.7" stroke="#000" stroke-width="1.2" fill="none"/>
<path d="M182.0,221.7V233.0M179.6,221.7H184.4M179.6,233.0H184.4" stroke="#000" stroke-width="1.2" fill="none"/>
<path d="M192.2,231.6V242.8M189.8,231.6H194.6M189.8,242.8H194.6" stroke="#000" stroke-width="1.2" fill="none"/>
<path d="M232.3,223.8V239.1M229.9,223.8H234.7M229.9,239.1H234.7" stroke="#000" stroke-width="1.2" fill="none"/>
<path d="M242.5,204.4V232.4M240.1,204.4H244.9M240.1,232.4H244.9" stroke="#000" stroke-width="1.2" fill="none"/>
<path d="M252.1,188.6V195.6M249.7,188.6H254.5M249.7,195.6H254.5" stroke="#000" stroke-width="1.2" fill="none"/>
<path d="M262.3,179.9V196.2M259.9,179.9H264.7M259.9,196.2H264.7" stroke="#000" stroke-width="1.2" fill="none"/>
<path d="M272.1,174.3V189.0M269.7,174.3H274.5M269.7,189.0H274.5" stroke="#000" stroke-width="1.2" fill="none"/>
<path d="M282.3,172.7V186.0M279.9,172.7H284.7M279.9,186.0H284.7" stroke="#000" stroke-width="1.2" fill="none"/>
<path d="M292.6,167.2V179.9M290.2,167.2H295.0M290.2,179.9H295.0" stroke="#000" stroke-width="1.2" fill="none"/>
<path d="M307.5,173.1V182.9M305.1,173.1H309.9M305.1,182.9H309.9" stroke="#000" stroke-width="1.2" fill="none"/>
<path d="M377.6,175.2V186.6M375.2,175.2H380.0M375.2,186.6H380.0" stroke="#000" stroke-width="1.2" fill="none"/>
<path d="M427.7,190.0V199.3M425.3,190.0H430.1M425.3,199.3H430.1" stroke="#000" stroke-width="1.2" fill="none"/>
<path d="M442.6,203.4V217.3M440.2,203.4H445.0M440.2,217.3H445.0" stroke="#000" stroke-width="1.2" fill="none"/>
<path d="M452.6,204.4V227.9M450.2,204.4H455.0M450.2,227.9H455.0" stroke="#000" stroke-width="1.2" fill="none"/>
<path d="M462.4,226.9V236.0M460.0,226.9H464.8M460.0,236.0H464.8" stroke="#000" stroke-width="1.2" fill="none"/>
<path d="M472.6,218.7V241.2M470.2,218.7H475.0M470.2,241.2H475.0" stroke="#000" stroke-width="1.2" fill="none"/>
<path d="M482.4,209.5V246.3M480.0,209.5H484.8M480.0,246.3H484.8" stroke="#000" stroke-width="1.2" fill="none"/>
<path d="M494.0,219.9V243.2M491.6,219.9H496.4M491.6,243.2H496.4" stroke="#000" stroke-width="1.2" fill="none"/>
<path d="M502.2,202.6V219.4M499.8,202.6H504.6M499.8,219.4H504.6" stroke="#000" stroke-width="1.2" fill="none"/>
<path d="M512.7,189.5V210.1M510.3,189.5H515.1M510.3,210.1H515.1" stroke="#000" stroke-width="1.2" fill="none"/>
<path d="M521.6,183.7V190.9M519.2,183.7H524.0M519.2,190.9H524.0" stroke="#000" stroke-width="1.2" fill="none"/>
<path d="M552.9,177.4V186.0M550.5,177.4H555.3M550.5,186.0H555.3" stroke="#000" stroke-width="1.2" fill="none"/>
<path d="M582.8,172.7V183.2M580.4,172.7H585.2M580.4,183.2H585.2" stroke="#000" stroke-width="1.2" fill="none"/>
<circle cx="107.0" cy="178.8" r="3.4" fill="#000"/>
<circle cx="127.4" cy="181.1" r="3.4" fill="#000"/>
<circle cx="137.0" cy="182.9" r="3.4" fill="#000"/>
<circle cx="147.9" cy="188.0" r="3.4" fill="#000"/>
<circle cx="157.5" cy="199.7" r="3.4" fill="#000"/>
<circle cx="167.3" cy="205.4" r="3.4" fill="#000"/>
<circle cx="182.0" cy="227.5" r="3.4" fill="#000"/>
<circle cx="192.2" cy="237.1" r="3.4" fill="#000"/>
<circle cx="202.4" cy="243.2" r="3.4" fill="#000"/>
<circle cx="212.3" cy="249.7" r="3.4" fill="#000"/>
<circle cx="222.2" cy="244.0" r="3.4" fill="#000"/>
<circle cx="232.3" cy="231.6" r="3.4" fill="#000"/>
<circle cx="242.5" cy="218.3" r="3.4" fill="#000"/>
<circle cx="252.1" cy="192.7" r="3.4" fill="#000"/>
<circle cx="262.3" cy="188.0" r="3.4" fill="#000"/>
<circle cx="272.1" cy="181.9" r="3.4" fill="#000"/>
<circle cx="282.3" cy="178.8" r="3.4" fill="#000"/>
<circle cx="292.6" cy="173.7" r="3.4" fill="#000"/>
<circle cx="307.5" cy="178.0" r="3.4" fill="#000"/>
<circle cx="317.3" cy="182.9" r="3.4" fill="#000"/>
<circle cx="327.3" cy="180.9" r="3.4" fill="#000"/>
<circle cx="337.5" cy="176.4" r="3.4" fill="#000"/>
<circle cx="347.7" cy="176.4" r="3.4" fill="#000"/>
<circle cx="357.3" cy="181.5" r="3.4" fill="#000"/>
<circle cx="367.4" cy="179.4" r="3.4" fill="#000"/>
<circle cx="377.6" cy="180.9" r="3.4" fill="#000"/>
<circle cx="387.4" cy="176.8" r="3.4" fill="#000"/>
<circle cx="397.6" cy="176.4" r="3.4" fill="#000"/>
<circle cx="407.6" cy="178.2" r="3.4" fill="#000"/>
<circle cx="417.4" cy="192.7" r="3.4" fill="#000"/>
<circle cx="427.7" cy="194.8" r="3.4" fill="#000"/>
<circle cx="442.6" cy="210.1" r="3.4" fill="#000"/>
<circle cx="452.6" cy="216.0" r="3.4" fill="#000"/>
<circle cx="462.4" cy="231.6" r="3.4" fill="#000"/>
<circle cx="472.6" cy="229.9" r="3.4" fill="#000"/>
<circle cx="482.4" cy="228.0" r="3.4" fill="#000"/>
<circle cx="494.0" cy="231.6" r="3.4" fill="#000"/>
<circle cx="502.2" cy="211.2" r="3.4" fill="#000"/>
<circle cx="512.7" cy="199.6" r="3.4" fill="#000"/>
<circle cx="521.6" cy="187.2" r="3.4" fill="#000"/>
<circle cx="532.6" cy="182.5" r="3.4" fill="#000"/>
<circle cx="542.6" cy="182.5" r="3.4" fill="#000"/>
<circle cx="552.9" cy="182.0" r="3.4" fill="#000"/>
<circle cx="561.8" cy="182.5" r="3.4" fill="#000"/>
<circle cx="572.3" cy="182.0" r="3.4" fill="#000"/>
<circle cx="582.8" cy="177.8" r="3.4" fill="#000"/>
<circle cx="592.8" cy="182.7" r="3.4" fill="#000"/>
<circle cx="602.6" cy="182.7" r="3.4" fill="#000"/>
<circle cx="612.7" cy="182.7" r="3.4" fill="#000"/>
<circle cx="622.5" cy="178.5" r="3.4" fill="#000"/>
<text x="0.50" y="303.60" font-size="29" text-anchor="start" font-weight="bold" font-style="normal" fill="#000" >c</text>
<rect x="89.6" y="298.2" width="543.10" height="125.00" fill="none" stroke="#000" stroke-width="2"/>
<text x="639.50" y="303.00" font-size="16" text-anchor="start" font-weight="normal" font-style="normal" fill="#000" >35</text>
<line x1="624.30" y1="329.45" x2="632.70" y2="329.45" stroke="#000" stroke-width="1.8" />
<text x="639.50" y="334.25" font-size="16" text-anchor="start" font-weight="normal" font-style="normal" fill="#000" >25</text>
<line x1="624.30" y1="360.70" x2="632.70" y2="360.70" stroke="#000" stroke-width="1.8" />
<text x="639.50" y="365.50" font-size="16" text-anchor="start" font-weight="normal" font-style="normal" fill="#000" >15</text>
<line x1="624.30" y1="391.95" x2="632.70" y2="391.95" stroke="#000" stroke-width="1.8" />
<text x="639.50" y="396.75" font-size="16" text-anchor="start" font-weight="normal" font-style="normal" fill="#000" >5</text>
<text x="639.50" y="428.00" font-size="16" text-anchor="start" font-weight="normal" font-style="normal" fill="#000" >−5</text>
<text x="84.00" y="428.80" font-size="16" text-anchor="end" font-weight="normal" font-style="normal" fill="#000" >0.0</text>
<line x1="89.60" y1="381.53" x2="97.80" y2="381.53" stroke="#000" stroke-width="1.8" />
<text x="84.00" y="387.13" font-size="16" text-anchor="end" font-weight="normal" font-style="normal" fill="#000" >0.5</text>
<line x1="89.60" y1="339.87" x2="97.80" y2="339.87" stroke="#000" stroke-width="1.8" />
<text x="84.00" y="345.47" font-size="16" text-anchor="end" font-weight="normal" font-style="normal" fill="#000" >1.0</text>
<text x="84.00" y="303.80" font-size="16" text-anchor="end" font-weight="normal" font-style="normal" fill="#000" >1.5</text>
<line x1="89.60" y1="423.20" x2="89.60" y2="431.70" stroke="#000" stroke-width="1.8" />
<line x1="111.32" y1="423.20" x2="111.32" y2="431.70" stroke="#000" stroke-width="1.8" />
<line x1="133.05" y1="423.20" x2="133.05" y2="431.70" stroke="#000" stroke-width="1.8" />
<line x1="154.77" y1="423.20" x2="154.77" y2="431.70" stroke="#000" stroke-width="1.8" />
<line x1="176.50" y1="423.20" x2="176.50" y2="431.70" stroke="#000" stroke-width="1.8" />
<line x1="198.22" y1="423.20" x2="198.22" y2="431.70" stroke="#000" stroke-width="1.8" />
<line x1="219.94" y1="423.20" x2="219.94" y2="431.70" stroke="#000" stroke-width="1.8" />
<line x1="241.67" y1="423.20" x2="241.67" y2="431.70" stroke="#000" stroke-width="1.8" />
<line x1="263.39" y1="423.20" x2="263.39" y2="431.70" stroke="#000" stroke-width="1.8" />
<line x1="285.12" y1="423.20" x2="285.12" y2="431.70" stroke="#000" stroke-width="1.8" />
<line x1="306.84" y1="423.20" x2="306.84" y2="431.70" stroke="#000" stroke-width="1.8" />
<line x1="328.56" y1="423.20" x2="328.56" y2="431.70" stroke="#000" stroke-width="1.8" />
<line x1="350.29" y1="423.20" x2="350.29" y2="431.70" stroke="#000" stroke-width="1.8" />
<line x1="372.01" y1="423.20" x2="372.01" y2="431.70" stroke="#000" stroke-width="1.8" />
<line x1="393.74" y1="423.20" x2="393.74" y2="431.70" stroke="#000" stroke-width="1.8" />
<line x1="415.46" y1="423.20" x2="415.46" y2="431.70" stroke="#000" stroke-width="1.8" />
<line x1="437.18" y1="423.20" x2="437.18" y2="431.70" stroke="#000" stroke-width="1.8" />
<line x1="458.91" y1="423.20" x2="458.91" y2="431.70" stroke="#000" stroke-width="1.8" />
<line x1="480.63" y1="423.20" x2="480.63" y2="431.70" stroke="#000" stroke-width="1.8" />
<line x1="502.36" y1="423.20" x2="502.36" y2="431.70" stroke="#000" stroke-width="1.8" />
<line x1="524.08" y1="423.20" x2="524.08" y2="431.70" stroke="#000" stroke-width="1.8" />
<line x1="545.80" y1="423.20" x2="545.80" y2="431.70" stroke="#000" stroke-width="1.8" />
<line x1="567.53" y1="423.20" x2="567.53" y2="431.70" stroke="#000" stroke-width="1.8" />
<line x1="589.25" y1="423.20" x2="589.25" y2="431.70" stroke="#000" stroke-width="1.8" />
<line x1="610.98" y1="423.20" x2="610.98" y2="431.70" stroke="#000" stroke-width="1.8" />
<line x1="632.70" y1="423.20" x2="632.70" y2="431.70" stroke="#000" stroke-width="1.8" />
<text x="100.46" y="443.10" font-size="16" text-anchor="middle" font-weight="normal" font-style="normal" fill="#000" >9</text>
<text x="122.19" y="443.10" font-size="16" text-anchor="middle" font-weight="normal" font-style="normal" fill="#000" >10</text>
<text x="143.91" y="443.10" font-size="16" text-anchor="middle" font-weight="normal" font-style="normal" fill="#000" >11</text>
<text x="165.63" y="443.10" font-size="16" text-anchor="middle" font-weight="normal" font-style="normal" fill="#000" >12</text>
<text x="187.36" y="443.10" font-size="16" text-anchor="middle" font-weight="normal" font-style="normal" fill="#000" >1</text>
<text x="209.08" y="443.10" font-size="16" text-anchor="middle" font-weight="normal" font-style="normal" fill="#000" >2</text>
<text x="230.81" y="443.10" font-size="16" text-anchor="middle" font-weight="normal" font-style="normal" fill="#000" >3</text>
<text x="252.53" y="443.10" font-size="16" text-anchor="middle" font-weight="normal" font-style="normal" fill="#000" >4</text>
<text x="274.25" y="443.10" font-size="16" text-anchor="middle" font-weight="normal" font-style="normal" fill="#000" >5</text>
<text x="295.98" y="443.10" font-size="16" text-anchor="middle" font-weight="normal" font-style="normal" fill="#000" >6</text>
<text x="317.70" y="443.10" font-size="16" text-anchor="middle" font-weight="normal" font-style="normal" fill="#000" >7</text>
<text x="339.43" y="443.10" font-size="16" text-anchor="middle" font-weight="normal" font-style="normal" fill="#000" >8</text>
<text x="361.15" y="443.10" font-size="16" text-anchor="middle" font-weight="normal" font-style="normal" fill="#000" >9</text>
<text x="382.87" y="443.10" font-size="16" text-anchor="middle" font-weight="normal" font-style="normal" fill="#000" >10</text>
<text x="404.60" y="443.10" font-size="16" text-anchor="middle" font-weight="normal" font-style="normal" fill="#000" >11</text>
<text x="426.32" y="443.10" font-size="16" text-anchor="middle" font-weight="normal" font-style="normal" fill="#000" >12</text>
<text x="448.05" y="443.10" font-size="16" text-anchor="middle" font-weight="normal" font-style="normal" fill="#000" >1</text>
<text x="469.77" y="443.10" font-size="16" text-anchor="middle" font-weight="normal" font-style="normal" fill="#000" >2</text>
<text x="491.49" y="443.10" font-size="16" text-anchor="middle" font-weight="normal" font-style="normal" fill="#000" >3</text>
<text x="513.22" y="443.10" font-size="16" text-anchor="middle" font-weight="normal" font-style="normal" fill="#000" >4</text>
<text x="534.94" y="443.10" font-size="16" text-anchor="middle" font-weight="normal" font-style="normal" fill="#000" >5</text>
<text x="556.67" y="443.10" font-size="16" text-anchor="middle" font-weight="normal" font-style="normal" fill="#000" >6</text>
<text x="578.39" y="443.10" font-size="16" text-anchor="middle" font-weight="normal" font-style="normal" fill="#000" >7</text>
<text x="600.11" y="443.10" font-size="16" text-anchor="middle" font-weight="normal" font-style="normal" fill="#000" >8</text>
<text x="621.84" y="443.10" font-size="16" text-anchor="middle" font-weight="normal" font-style="normal" fill="#000" >9</text>
<text transform="translate(676.30,360.70) rotate(-90)" x="0" y="5.60" font-size="16" text-anchor="middle" font-style="normal">Temperature (°C)</text>
<text transform="translate(20.40,360.70) rotate(-90)" x="0" y="5.60" font-size="16" text-anchor="middle" font-style="normal">H3K4me3</text>
<text transform="translate(37.60,360.70) rotate(-90)" x="0" y="5.60" font-size="16" text-anchor="middle" font-style="normal">(amplicons I–V)</text>
<polyline points="107.0,410.9 127.4,417.6 137.0,418.2 147.9,419.5 157.5,419.5 167.3,419.5 182.0,419.5 192.2,419.5 202.4,419.5 212.3,419.5 222.2,419.5 232.3,419.5 242.5,419.5 252.1,419.5 262.3,418.8 272.1,418.0 282.3,418.6 292.6,417.6 307.5,419.3 317.3,417.6 327.3,414.6 337.5,413.5 347.7,417.6 357.3,417.2 367.4,418.6 377.6,418.2 387.4,419.3 397.6,419.4 407.6,419.4 417.4,419.4 427.7,419.5 442.6,419.4 452.6,419.4 462.4,419.3 472.6,419.2 482.4,419.2 494.0,419.1 502.2,419.1 512.7,419.0 521.6,418.0 532.6,417.6 542.6,417.6 552.9,416.5 561.8,416.9 572.3,415.3 582.8,415.8 592.8,415.3 602.6,415.1 612.7,416.9 622.5,416.9" fill="none" stroke="#ef1c4a" stroke-width="2.4" stroke-linejoin="round"/>
<rect x="103.6" y="407.5" width="6.8" height="6.8" fill="#ef1c4a"/>
<rect x="124.0" y="414.2" width="6.8" height="6.8" fill="#ef1c4a"/>
<rect x="133.6" y="414.8" width="6.8" height="6.8" fill="#ef1c4a"/>
<rect x="144.5" y="416.1" width="6.8" height="6.8" fill="#ef1c4a"/>
<rect x="154.1" y="416.1" width="6.8" height="6.8" fill="#ef1c4a"/>
<rect x="163.9" y="416.1" width="6.8" height="6.8" fill="#ef1c4a"/>
<rect x="178.6" y="416.1" width="6.8" height="6.8" fill="#ef1c4a"/>
<rect x="188.8" y="416.1" width="6.8" height="6.8" fill="#ef1c4a"/>
<rect x="199.0" y="416.1" width="6.8" height="6.8" fill="#ef1c4a"/>
<rect x="208.9" y="416.1" width="6.8" height="6.8" fill="#ef1c4a"/>
<rect x="218.8" y="416.1" width="6.8" height="6.8" fill="#ef1c4a"/>
<rect x="228.9" y="416.1" width="6.8" height="6.8" fill="#ef1c4a"/>
<rect x="239.1" y="416.1" width="6.8" height="6.8" fill="#ef1c4a"/>
<rect x="248.7" y="416.1" width="6.8" height="6.8" fill="#ef1c4a"/>
<rect x="258.9" y="415.4" width="6.8" height="6.8" fill="#ef1c4a"/>
<rect x="268.7" y="414.6" width="6.8" height="6.8" fill="#ef1c4a"/>
<rect x="278.9" y="415.2" width="6.8" height="6.8" fill="#ef1c4a"/>
<rect x="289.2" y="414.2" width="6.8" height="6.8" fill="#ef1c4a"/>
<rect x="304.1" y="415.9" width="6.8" height="6.8" fill="#ef1c4a"/>
<rect x="313.9" y="414.2" width="6.8" height="6.8" fill="#ef1c4a"/>
<rect x="323.9" y="411.2" width="6.8" height="6.8" fill="#ef1c4a"/>
<rect x="334.1" y="410.1" width="6.8" height="6.8" fill="#ef1c4a"/>
<rect x="344.3" y="414.2" width="6.8" height="6.8" fill="#ef1c4a"/>
<rect x="353.9" y="413.8" width="6.8" height="6.8" fill="#ef1c4a"/>
<rect x="364.0" y="415.2" width="6.8" height="6.8" fill="#ef1c4a"/>
<rect x="374.2" y="414.8" width="6.8" height="6.8" fill="#ef1c4a"/>
<rect x="384.0" y="415.9" width="6.8" height="6.8" fill="#ef1c4a"/>
<rect x="394.2" y="415.9" width="6.8" height="6.8" fill="#ef1c4a"/>
<rect x="404.2" y="416.0" width="6.8" height="6.8" fill="#ef1c4a"/>
<rect x="414.0" y="416.0" width="6.8" height="6.8" fill="#ef1c4a"/>
<rect x="424.3" y="416.1" width="6.8" height="6.8" fill="#ef1c4a"/>
<rect x="439.2" y="416.0" width="6.8" height="6.8" fill="#ef1c4a"/>
<rect x="449.2" y="416.0" width="6.8" height="6.8" fill="#ef1c4a"/>
<rect x="459.0" y="415.9" width="6.8" height="6.8" fill="#ef1c4a"/>
<rect x="469.2" y="415.8" width="6.8" height="6.8" fill="#ef1c4a"/>
<rect x="479.0" y="415.8" width="6.8" height="6.8" fill="#ef1c4a"/>
<rect x="490.6" y="415.7" width="6.8" height="6.8" fill="#ef1c4a"/>
<rect x="498.8" y="415.6" width="6.8" height="6.8" fill="#ef1c4a"/>
<rect x="509.3" y="415.6" width="6.8" height="6.8" fill="#ef1c4a"/>
<rect x="518.2" y="414.6" width="6.8" height="6.8" fill="#ef1c4a"/>
<rect x="529.2" y="414.2" width="6.8" height="6.8" fill="#ef1c4a"/>
<rect x="539.2" y="414.2" width="6.8" height="6.8" fill="#ef1c4a"/>
<rect x="549.5" y="413.1" width="6.8" height="6.8" fill="#ef1c4a"/>
<rect x="558.4" y="413.5" width="6.8" height="6.8" fill="#ef1c4a"/>
<rect x="568.9" y="411.9" width="6.8" height="6.8" fill="#ef1c4a"/>
<rect x="579.4" y="412.4" width="6.8" height="6.8" fill="#ef1c4a"/>
<rect x="589.4" y="411.9" width="6.8" height="6.8" fill="#ef1c4a"/>
<rect x="599.2" y="411.7" width="6.8" height="6.8" fill="#ef1c4a"/>
<rect x="609.3" y="413.5" width="6.8" height="6.8" fill="#ef1c4a"/>
<rect x="619.1" y="413.5" width="6.8" height="6.8" fill="#ef1c4a"/>
<polyline points="107.0,419.0 127.4,419.4 137.0,419.4 147.9,419.4 157.5,419.4 167.3,419.4 182.0,419.5 192.2,419.5 202.4,419.5 212.3,419.5 222.2,419.5 232.3,419.5 242.5,419.5 252.1,419.5 262.3,419.5 272.1,419.4 282.3,419.4 292.6,419.4 307.5,419.4 317.3,419.4 327.3,419.4 337.5,419.4 347.7,419.4 357.3,419.4 367.4,419.4 377.6,419.4 387.4,419.5 397.6,419.5 407.6,419.5 417.4,419.5 427.7,419.5 442.6,419.5 452.6,419.5 462.4,419.5 472.6,419.5 482.4,419.4 494.0,419.4 502.2,419.4 512.7,419.4 521.6,419.4 532.6,419.4 542.6,419.4 552.9,419.4 561.8,419.4 572.3,419.4 582.8,419.4 592.8,419.4 602.6,419.4 612.7,419.4 622.5,419.4" fill="none" stroke="#ffa700" stroke-width="2.4" stroke-linejoin="round"/>
<polygon points="107.0,416.1 109.9,421.3 104.1,421.3" fill="#ffa700"/>
<polygon points="127.4,416.5 130.3,421.7 124.5,421.7" fill="#ffa700"/>
<polygon points="137.0,416.6 139.9,421.7 134.1,421.7" fill="#ffa700"/>
<polygon points="147.9,416.6 150.8,421.7 145.0,421.7" fill="#ffa700"/>
<polygon points="157.5,416.6 160.4,421.7 154.6,421.7" fill="#ffa700"/>
<polygon points="167.3,416.6 170.2,421.7 164.4,421.7" fill="#ffa700"/>
<polygon points="182.0,416.6 184.9,421.7 179.1,421.7" fill="#ffa700"/>
<polygon points="192.2,416.6 195.1,421.8 189.3,421.8" fill="#ffa700"/>
<polygon points="202.4,416.6 205.3,421.8 199.5,421.8" fill="#ffa700"/>
<polygon points="212.3,416.6 215.2,421.8 209.4,421.8" fill="#ffa700"/>
<polygon points="222.2,416.6 225.1,421.8 219.3,421.8" fill="#ffa700"/>
<polygon points="232.3,416.6 235.2,421.8 229.4,421.8" fill="#ffa700"/>
<polygon points="242.5,416.6 245.4,421.8 239.6,421.8" fill="#ffa700"/>
<polygon points="252.1,416.6 255.0,421.8 249.2,421.8" fill="#ffa700"/>
<polygon points="262.3,416.6 265.2,421.7 259.4,421.7" fill="#ffa700"/>
<polygon points="272.1,416.6 275.0,421.7 269.2,421.7" fill="#ffa700"/>
<polygon points="282.3,416.6 285.2,421.7 279.4,421.7" fill="#ffa700"/>
<polygon points="292.6,416.6 295.5,421.7 289.7,421.7" fill="#ffa700"/>
<polygon points="307.5,416.6 310.4,421.7 304.6,421.7" fill="#ffa700"/>
<polygon points="317.3,416.5 320.2,421.7 314.4,421.7" fill="#ffa700"/>
<polygon points="327.3,416.5 330.2,421.7 324.4,421.7" fill="#ffa700"/>
<polygon points="337.5,416.5 340.4,421.7 334.6,421.7" fill="#ffa700"/>
<polygon points="347.7,416.6 350.6,421.7 344.8,421.7" fill="#ffa700"/>
<polygon points="357.3,416.6 360.2,421.7 354.4,421.7" fill="#ffa700"/>
<polygon points="367.4,416.6 370.3,421.7 364.5,421.7" fill="#ffa700"/>
<polygon points="377.6,416.6 380.5,421.7 374.7,421.7" fill="#ffa700"/>
<polygon points="387.4,416.6 390.3,421.7 384.5,421.7" fill="#ffa700"/>
<polygon points="397.6,416.6 400.5,421.8 394.7,421.8" fill="#ffa700"/>
<polygon points="407.6,416.6 410.5,421.8 404.7,421.8" fill="#ffa700"/>
<polygon points="417.4,416.6 420.3,421.8 414.5,421.8" fill="#ffa700"/>
<polygon points="427.7,416.6 430.6,421.8 424.8,421.8" fill="#ffa700"/>
<polygon points="442.6,416.6 445.5,421.8 439.7,421.8" fill="#ffa700"/>
<polygon points="452.6,416.6 455.5,421.8 449.7,421.8" fill="#ffa700"/>
<polygon points="462.4,416.6 465.3,421.8 459.5,421.8" fill="#ffa700"/>
<polygon points="472.6,416.6 475.5,421.7 469.7,421.7" fill="#ffa700"/>
<polygon points="482.4,416.6 485.3,421.7 479.5,421.7" fill="#ffa700"/>
<polygon points="494.0,416.6 496.9,421.7 491.1,421.7" fill="#ffa700"/>
<polygon points="502.2,416.6 505.1,421.7 499.3,421.7" fill="#ffa700"/>
<polygon points="512.7,416.6 515.6,421.7 509.8,421.7" fill="#ffa700"/>
<polygon points="521.6,416.5 524.5,421.7 518.7,421.7" fill="#ffa700"/>
<polygon points="532.6,416.5 535.5,421.7 529.7,421.7" fill="#ffa700"/>
<polygon points="542.6,416.5 545.5,421.7 539.7,421.7" fill="#ffa700"/>
<polygon points="552.9,416.5 555.8,421.7 550.0,421.7" fill="#ffa700"/>
<polygon points="561.8,416.5 564.7,421.7 558.9,421.7" fill="#ffa700"/>
<polygon points="572.3,416.5 575.2,421.7 569.4,421.7" fill="#ffa700"/>
<polygon points="582.8,416.5 585.7,421.7 579.9,421.7" fill="#ffa700"/>
<polygon points="592.8,416.5 595.7,421.7 589.9,421.7" fill="#ffa700"/>
<polygon points="602.6,416.5 605.5,421.7 599.7,421.7" fill="#ffa700"/>
<polygon points="612.7,416.5 615.6,421.7 609.8,421.7" fill="#ffa700"/>
<polygon points="622.5,416.5 625.4,421.7 619.6,421.7" fill="#ffa700"/>
<polyline points="107.0,418.7 127.4,419.6 137.0,419.9 147.9,419.9 157.5,419.9 167.3,419.9 182.0,419.9 192.2,419.9 202.4,419.9 212.3,419.9 222.2,419.9 232.3,419.9 242.5,419.8 252.1,419.8 262.3,419.8 272.1,419.8 282.3,419.8 292.6,419.8 307.5,419.8 317.3,419.8 327.3,419.8 337.5,419.8 347.7,419.8 357.3,419.8 367.4,419.8 377.6,419.9 387.4,419.9 397.6,419.9 407.6,419.9 417.4,419.9 427.7,419.9 442.6,419.9 452.6,419.9 462.4,419.9 472.6,419.9 482.4,419.9 494.0,419.8 502.2,419.8 512.7,419.8 521.6,419.8 532.6,419.8 542.6,419.8 552.9,419.8 561.8,419.8 572.3,419.8 582.8,419.8 592.8,419.8 602.6,419.8 612.7,419.8 622.5,419.8" fill="none" stroke="#9a55a8" stroke-width="2.4" stroke-linejoin="round"/>
<path d="M103.4,415.1L110.6,422.3M110.6,415.1L103.4,422.3" stroke="#9a55a8" stroke-width="2"/>
<path d="M123.8,416.0L131.0,423.2M131.0,416.0L123.8,423.2" stroke="#9a55a8" stroke-width="2"/>
<path d="M133.4,416.3L140.6,423.5M140.6,416.3L133.4,423.5" stroke="#9a55a8" stroke-width="2"/>
<path d="M144.3,416.3L151.5,423.5M151.5,416.3L144.3,423.5" stroke="#9a55a8" stroke-width="2"/>
<path d="M153.9,416.3L161.1,423.5M161.1,416.3L153.9,423.5" stroke="#9a55a8" stroke-width="2"/>
<path d="M163.7,416.3L170.9,423.5M170.9,416.3L163.7,423.5" stroke="#9a55a8" stroke-width="2"/>
<path d="M178.4,416.3L185.6,423.5M185.6,416.3L178.4,423.5" stroke="#9a55a8" stroke-width="2"/>
<path d="M188.6,416.3L195.8,423.5M195.8,416.3L188.6,423.5" stroke="#9a55a8" stroke-width="2"/>
<path d="M198.8,416.3L206.0,423.5M206.0,416.3L198.8,423.5" stroke="#9a55a8" stroke-width="2"/>
<path d="M208.7,416.3L215.9,423.5M215.9,416.3L208.7,423.5" stroke="#9a55a8" stroke-width="2"/>
<path d="M218.6,416.2L225.8,423.5M225.8,416.2L218.6,423.5" stroke="#9a55a8" stroke-width="2"/>
<path d="M228.7,416.2L235.9,423.5M235.9,416.2L228.7,423.5" stroke="#9a55a8" stroke-width="2"/>
<path d="M238.9,416.2L246.1,423.5M246.1,416.2L238.9,423.5" stroke="#9a55a8" stroke-width="2"/>
<path d="M248.5,416.2L255.7,423.4M255.7,416.2L248.5,423.4" stroke="#9a55a8" stroke-width="2"/>
<path d="M258.7,416.2L265.9,423.4M265.9,416.2L258.7,423.4" stroke="#9a55a8" stroke-width="2"/>
<path d="M268.5,416.2L275.7,423.4M275.7,416.2L268.5,423.4" stroke="#9a55a8" stroke-width="2"/>
<path d="M278.7,416.2L285.9,423.4M285.9,416.2L278.7,423.4" stroke="#9a55a8" stroke-width="2"/>
<path d="M289.0,416.2L296.2,423.4M296.2,416.2L289.0,423.4" stroke="#9a55a8" stroke-width="2"/>
<path d="M303.9,416.2L311.1,423.4M311.1,416.2L303.9,423.4" stroke="#9a55a8" stroke-width="2"/>
<path d="M313.7,416.2L320.9,423.4M320.9,416.2L313.7,423.4" stroke="#9a55a8" stroke-width="2"/>
<path d="M323.7,416.2L330.9,423.4M330.9,416.2L323.7,423.4" stroke="#9a55a8" stroke-width="2"/>
<path d="M333.9,416.2L341.1,423.4M341.1,416.2L333.9,423.4" stroke="#9a55a8" stroke-width="2"/>
<path d="M344.1,416.2L351.3,423.4M351.3,416.2L344.1,423.4" stroke="#9a55a8" stroke-width="2"/>
<path d="M353.7,416.2L360.9,423.4M360.9,416.2L353.7,423.4" stroke="#9a55a8" stroke-width="2"/>
<path d="M363.8,416.2L371.0,423.4M371.0,416.2L363.8,423.4" stroke="#9a55a8" stroke-width="2"/>
<path d="M374.0,416.2L381.2,423.5M381.2,416.2L374.0,423.5" stroke="#9a55a8" stroke-width="2"/>
<path d="M383.8,416.2L391.0,423.5M391.0,416.2L383.8,423.5" stroke="#9a55a8" stroke-width="2"/>
<path d="M394.0,416.3L401.2,423.5M401.2,416.3L394.0,423.5" stroke="#9a55a8" stroke-width="2"/>
<path d="M404.0,416.3L411.2,423.5M411.2,416.3L404.0,423.5" stroke="#9a55a8" stroke-width="2"/>
<path d="M413.8,416.3L421.0,423.5M421.0,416.3L413.8,423.5" stroke="#9a55a8" stroke-width="2"/>
<path d="M424.1,416.3L431.3,423.5M431.3,416.3L424.1,423.5" stroke="#9a55a8" stroke-width="2"/>
<path d="M439.0,416.3L446.2,423.5M446.2,416.3L439.0,423.5" stroke="#9a55a8" stroke-width="2"/>
<path d="M449.0,416.3L456.2,423.5M456.2,416.3L449.0,423.5" stroke="#9a55a8" stroke-width="2"/>
<path d="M458.8,416.3L466.0,423.5M466.0,416.3L458.8,423.5" stroke="#9a55a8" stroke-width="2"/>
<path d="M469.0,416.2L476.2,423.5M476.2,416.2L469.0,423.5" stroke="#9a55a8" stroke-width="2"/>
<path d="M478.8,416.2L486.0,423.5M486.0,416.2L478.8,423.5" stroke="#9a55a8" stroke-width="2"/>
<path d="M490.4,416.2L497.6,423.4M497.6,416.2L490.4,423.4" stroke="#9a55a8" stroke-width="2"/>
<path d="M498.6,416.2L505.8,423.4M505.8,416.2L498.6,423.4" stroke="#9a55a8" stroke-width="2"/>
<path d="M509.1,416.2L516.3,423.4M516.3,416.2L509.1,423.4" stroke="#9a55a8" stroke-width="2"/>
<path d="M518.0,416.2L525.2,423.4M525.2,416.2L518.0,423.4" stroke="#9a55a8" stroke-width="2"/>
<path d="M529.0,416.2L536.2,423.4M536.2,416.2L529.0,423.4" stroke="#9a55a8" stroke-width="2"/>
<path d="M539.0,416.2L546.2,423.4M546.2,416.2L539.0,423.4" stroke="#9a55a8" stroke-width="2"/>
<path d="M549.3,416.2L556.5,423.4M556.5,416.2L549.3,423.4" stroke="#9a55a8" stroke-width="2"/>
<path d="M558.2,416.2L565.4,423.4M565.4,416.2L558.2,423.4" stroke="#9a55a8" stroke-width="2"/>
<path d="M568.7,416.2L575.9,423.4M575.9,416.2L568.7,423.4" stroke="#9a55a8" stroke-width="2"/>
<path d="M579.2,416.2L586.4,423.4M586.4,416.2L579.2,423.4" stroke="#9a55a8" stroke-width="2"/>
<path d="M589.2,416.2L596.4,423.4M596.4,416.2L589.2,423.4" stroke="#9a55a8" stroke-width="2"/>
<path d="M599.0,416.2L606.2,423.4M606.2,416.2L599.0,423.4" stroke="#9a55a8" stroke-width="2"/>
<path d="M609.1,416.2L616.3,423.4M616.3,416.2L609.1,423.4" stroke="#9a55a8" stroke-width="2"/>
<path d="M618.9,416.2L626.1,423.4M626.1,416.2L618.9,423.4" stroke="#9a55a8" stroke-width="2"/>
<polygon points="107.0,416.2 109.2,420.2 104.8,420.2" fill="#ffa700"/>
<polygon points="127.4,416.6 129.6,420.6 125.2,420.6" fill="#ffa700"/>
<polygon points="137.0,416.6 139.2,420.6 134.8,420.6" fill="#ffa700"/>
<polygon points="147.9,416.6 150.1,420.6 145.7,420.6" fill="#ffa700"/>
<polygon points="157.5,416.6 159.7,420.6 155.3,420.6" fill="#ffa700"/>
<polygon points="167.3,416.6 169.5,420.6 165.1,420.6" fill="#ffa700"/>
<polygon points="182.0,416.7 184.2,420.6 179.8,420.6" fill="#ffa700"/>
<polygon points="192.2,416.7 194.4,420.6 190.0,420.6" fill="#ffa700"/>
<polygon points="202.4,416.7 204.6,420.6 200.2,420.6" fill="#ffa700"/>
<polygon points="212.3,416.7 214.5,420.6 210.1,420.6" fill="#ffa700"/>
<polygon points="222.2,416.7 224.4,420.7 220.0,420.7" fill="#ffa700"/>
<polygon points="232.3,416.7 234.5,420.6 230.1,420.6" fill="#ffa700"/>
<polygon points="242.5,416.7 244.7,420.6 240.3,420.6" fill="#ffa700"/>
<polygon points="252.1,416.7 254.3,420.6 249.9,420.6" fill="#ffa700"/>
<polygon points="262.3,416.7 264.5,420.6 260.1,420.6" fill="#ffa700"/>
<polygon points="272.1,416.6 274.3,420.6 269.9,420.6" fill="#ffa700"/>
<polygon points="282.3,416.6 284.5,420.6 280.1,420.6" fill="#ffa700"/>
<polygon points="292.6,416.6 294.8,420.6 290.4,420.6" fill="#ffa700"/>
<polygon points="307.5,416.6 309.7,420.6 305.3,420.6" fill="#ffa700"/>
<polygon points="317.3,416.6 319.5,420.6 315.1,420.6" fill="#ffa700"/>
<polygon points="327.3,416.6 329.5,420.6 325.1,420.6" fill="#ffa700"/>
<polygon points="337.5,416.6 339.7,420.6 335.3,420.6" fill="#ffa700"/>
<polygon points="347.7,416.6 349.9,420.6 345.5,420.6" fill="#ffa700"/>
<polygon points="357.3,416.6 359.5,420.6 355.1,420.6" fill="#ffa700"/>
<polygon points="367.4,416.6 369.6,420.6 365.2,420.6" fill="#ffa700"/>
<polygon points="377.6,416.6 379.8,420.6 375.4,420.6" fill="#ffa700"/>
<polygon points="387.4,416.7 389.6,420.6 385.2,420.6" fill="#ffa700"/>
<polygon points="397.6,416.7 399.8,420.6 395.4,420.6" fill="#ffa700"/>
<polygon points="407.6,416.7 409.8,420.6 405.4,420.6" fill="#ffa700"/>
<polygon points="417.4,416.7 419.6,420.6 415.2,420.6" fill="#ffa700"/>
<polygon points="427.7,416.7 429.9,420.7 425.5,420.7" fill="#ffa700"/>
<polygon points="442.6,416.7 444.8,420.6 440.4,420.6" fill="#ffa700"/>
<polygon points="452.6,416.7 454.8,420.6 450.4,420.6" fill="#ffa700"/>
<polygon points="462.4,416.7 464.6,420.6 460.2,420.6" fill="#ffa700"/>
<polygon points="472.6,416.7 474.8,420.6 470.4,420.6" fill="#ffa700"/>
<polygon points="482.4,416.6 484.6,420.6 480.2,420.6" fill="#ffa700"/>
<polygon points="494.0,416.6 496.2,420.6 491.8,420.6" fill="#ffa700"/>
<polygon points="502.2,416.6 504.4,420.6 500.0,420.6" fill="#ffa700"/>
<polygon points="512.7,416.6 514.9,420.6 510.5,420.6" fill="#ffa700"/>
<polygon points="521.6,416.6 523.8,420.6 519.4,420.6" fill="#ffa700"/>
<polygon points="532.6,416.6 534.8,420.6 530.4,420.6" fill="#ffa700"/>
<polygon points="542.6,416.6 544.8,420.6 540.4,420.6" fill="#ffa700"/>
<polygon points="552.9,416.6 555.1,420.6 550.7,420.6" fill="#ffa700"/>
<polygon points="561.8,416.6 564.0,420.6 559.6,420.6" fill="#ffa700"/>
<polygon points="572.3,416.6 574.5,420.6 570.1,420.6" fill="#ffa700"/>
<polygon points="582.8,416.6 585.0,420.6 580.6,420.6" fill="#ffa700"/>
<polygon points="592.8,416.6 595.0,420.6 590.6,420.6" fill="#ffa700"/>
<polygon points="602.6,416.6 604.8,420.6 600.4,420.6" fill="#ffa700"/>
<polygon points="612.7,416.6 614.9,420.6 610.5,420.6" fill="#ffa700"/>
<polygon points="622.5,416.6 624.7,420.6 620.3,420.6" fill="#ffa700"/>
<polyline points="107.0,334.2 127.4,356.3 137.0,343.0 147.9,358.4 157.5,372.7 167.3,385.9 182.0,400.3 192.2,404.7 202.4,407.4 212.3,407.4 222.2,410.0 232.3,399.2 242.5,396.2 252.1,372.7 262.3,361.4 272.1,360.0 282.3,360.4 292.6,355.3 307.5,352.6 317.3,352.6 327.3,345.1 337.5,343.6 347.7,330.2 357.3,330.2 367.4,346.1 377.6,355.3 387.4,348.5 397.6,337.9 407.6,353.2 417.4,369.6 427.7,395.1 442.6,401.3 452.6,409.4 462.4,408.4 472.6,412.5 482.4,411.6 494.0,409.5 502.2,397.8 512.7,380.3 521.6,357.6 532.6,352.9 542.6,355.7 552.9,337.0 561.8,342.9 572.3,340.5 582.8,339.4 592.8,338.9 602.6,337.7 612.7,352.2 622.5,354.6" fill="none" stroke="#00adef" stroke-width="2.4" stroke-linejoin="round"/>
<path d="M107.0,319.5V349.2M104.6,319.5H109.4M104.6,349.2H109.4" stroke="#00adef" stroke-width="1.2" fill="none"/>
<path d="M147.9,344.1V372.7M145.5,344.1H150.3M145.5,372.7H150.3" stroke="#00adef" stroke-width="1.2" fill="none"/>
<path d="M157.5,364.5V378.8M155.1,364.5H159.9M155.1,378.8H159.9" stroke="#00adef" stroke-width="1.2" fill="none"/>
<path d="M167.3,378.8V393.1M164.9,378.8H169.7M164.9,393.1H169.7" stroke="#00adef" stroke-width="1.2" fill="none"/>
<path d="M182.0,393.1V408.4M179.6,393.1H184.4M179.6,408.4H184.4" stroke="#00adef" stroke-width="1.2" fill="none"/>
<path d="M262.3,350.2V373.7M259.9,350.2H264.7M259.9,373.7H264.7" stroke="#00adef" stroke-width="1.2" fill="none"/>
<path d="M272.1,345.1V372.7M269.7,345.1H274.5M269.7,372.7H274.5" stroke="#00adef" stroke-width="1.2" fill="none"/>
<path d="M292.6,352.2V360.4M290.2,352.2H295.0M290.2,360.4H295.0" stroke="#00adef" stroke-width="1.2" fill="none"/>
<path d="M307.5,349.2V358.4M305.1,349.2H309.9M305.1,358.4H309.9" stroke="#00adef" stroke-width="1.2" fill="none"/>
<path d="M337.5,338.9V348.5M335.1,338.9H339.9M335.1,348.5H339.9" stroke="#00adef" stroke-width="1.2" fill="none"/>
<path d="M347.7,313.0V347.1M345.3,313.0H350.1M345.3,347.1H350.1" stroke="#00adef" stroke-width="1.2" fill="none"/>
<path d="M357.3,308.3V354.3M354.9,308.3H359.7M354.9,354.3H359.7" stroke="#00adef" stroke-width="1.2" fill="none"/>
<path d="M377.6,341.0V367.6M375.2,341.0H380.0M375.2,367.6H380.0" stroke="#00adef" stroke-width="1.2" fill="none"/>
<path d="M407.6,347.1V357.3M405.2,347.1H410.0M405.2,357.3H410.0" stroke="#00adef" stroke-width="1.2" fill="none"/>
<path d="M417.4,364.5V375.7M415.0,364.5H419.8M415.0,375.7H419.8" stroke="#00adef" stroke-width="1.2" fill="none"/>
<path d="M427.7,383.9V401.3M425.3,383.9H430.1M425.3,401.3H430.1" stroke="#00adef" stroke-width="1.2" fill="none"/>
<path d="M512.7,374.4V387.3M510.3,374.4H515.1M510.3,387.3H515.1" stroke="#00adef" stroke-width="1.2" fill="none"/>
<path d="M532.6,346.4V360.4M530.2,346.4H535.0M530.2,360.4H535.0" stroke="#00adef" stroke-width="1.2" fill="none"/>
<path d="M561.8,334.7V351.1M559.4,334.7H564.2M559.4,351.1H564.2" stroke="#00adef" stroke-width="1.2" fill="none"/>
<path d="M582.8,325.4V351.1M580.4,325.4H585.2M580.4,351.1H585.2" stroke="#00adef" stroke-width="1.2" fill="none"/>
<path d="M592.8,332.4V346.4M590.4,332.4H595.2M590.4,346.4H595.2" stroke="#00adef" stroke-width="1.2" fill="none"/>
<path d="M622.5,348.7V360.4M620.1,348.7H624.9M620.1,360.4H624.9" stroke="#00adef" stroke-width="1.2" fill="none"/>
<circle cx="107.0" cy="334.2" r="3.6" fill="#00adef"/>
<circle cx="127.4" cy="356.3" r="3.6" fill="#00adef"/>
<circle cx="137.0" cy="343.0" r="3.6" fill="#00adef"/>
<circle cx="147.9" cy="358.4" r="3.6" fill="#00adef"/>
<circle cx="157.5" cy="372.7" r="3.6" fill="#00adef"/>
<circle cx="167.3" cy="385.9" r="3.6" fill="#00adef"/>
<circle cx="182.0" cy="400.3" r="3.6" fill="#00adef"/>
<circle cx="192.2" cy="404.7" r="3.6" fill="#00adef"/>
<circle cx="202.4" cy="407.4" r="3.6" fill="#00adef"/>
<circle cx="212.3" cy="407.4" r="3.6" fill="#00adef"/>
<circle cx="222.2" cy="410.0" r="3.6" fill="#00adef"/>
<circle cx="232.3" cy="399.2" r="3.6" fill="#00adef"/>
<circle cx="242.5" cy="396.2" r="3.6" fill="#00adef"/>
<circle cx="252.1" cy="372.7" r="3.6" fill="#00adef"/>
<circle cx="262.3" cy="361.4" r="3.6" fill="#00adef"/>
<circle cx="272.1" cy="360.0" r="3.6" fill="#00adef"/>
<circle cx="282.3" cy="360.4" r="3.6" fill="#00adef"/>
<circle cx="292.6" cy="355.3" r="3.6" fill="#00adef"/>
<circle cx="307.5" cy="352.6" r="3.6" fill="#00adef"/>
<circle cx="317.3" cy="352.6" r="3.6" fill="#00adef"/>
<circle cx="327.3" cy="345.1" r="3.6" fill="#00adef"/>
<circle cx="337.5" cy="343.6" r="3.6" fill="#00adef"/>
<circle cx="347.7" cy="330.2" r="3.6" fill="#00adef"/>
<circle cx="357.3" cy="330.2" r="3.6" fill="#00adef"/>
<circle cx="367.4" cy="346.1" r="3.6" fill="#00adef"/>
<circle cx="377.6" cy="355.3" r="3.6" fill="#00adef"/>
<circle cx="387.4" cy="348.5" r="3.6" fill="#00adef"/>
<circle cx="397.6" cy="337.9" r="3.6" fill="#00adef"/>
<circle cx="407.6" cy="353.2" r="3.6" fill="#00adef"/>
<circle cx="417.4" cy="369.6" r="3.6" fill="#00adef"/>
<circle cx="427.7" cy="395.1" r="3.6" fill="#00adef"/>
<circle cx="442.6" cy="401.3" r="3.6" fill="#00adef"/>
<circle cx="452.6" cy="409.4" r="3.6" fill="#00adef"/>
<circle cx="462.4" cy="408.4" r="3.6" fill="#00adef"/>
<circle cx="472.6" cy="412.5" r="3.6" fill="#00adef"/>
<circle cx="482.4" cy="411.6" r="3.6" fill="#00adef"/>
<circle cx="494.0" cy="409.5" r="3.6" fill="#00adef"/>
<circle cx="502.2" cy="397.8" r="3.6" fill="#00adef"/>
<circle cx="512.7" cy="380.3" r="3.6" fill="#00adef"/>
<circle cx="521.6" cy="357.6" r="3.6" fill="#00adef"/>
<circle cx="532.6" cy="352.9" r="3.6" fill="#00adef"/>
<circle cx="542.6" cy="355.7" r="3.6" fill="#00adef"/>
<circle cx="552.9" cy="337.0" r="3.6" fill="#00adef"/>
<circle cx="561.8" cy="342.9" r="3.6" fill="#00adef"/>
<circle cx="572.3" cy="340.5" r="3.6" fill="#00adef"/>
<circle cx="582.8" cy="339.4" r="3.6" fill="#00adef"/>
<circle cx="592.8" cy="338.9" r="3.6" fill="#00adef"/>
<circle cx="602.6" cy="337.7" r="3.6" fill="#00adef"/>
<circle cx="612.7" cy="352.2" r="3.6" fill="#00adef"/>
<circle cx="622.5" cy="354.6" r="3.6" fill="#00adef"/>
<polyline points="107.0,351.2 127.4,364.9 137.0,338.3 147.9,353.2 157.5,363.1 167.3,380.8 182.0,401.3 192.2,404.3 202.4,407.4 212.3,407.0 222.2,411.9 232.3,397.2 242.5,396.2 252.1,364.5 262.3,356.3 272.1,358.4 282.3,361.4 292.6,361.4 307.5,347.7 317.3,351.2 327.3,346.1 337.5,356.3 347.7,341.6 357.3,349.8 367.4,343.6 377.6,355.3 387.4,344.7 397.6,336.9 407.6,355.3 417.4,372.7 427.7,397.2 442.6,403.3 452.6,411.9 462.4,409.4 472.6,412.9 482.4,412.5 494.0,409.5 502.2,399.4 512.7,378.6 521.6,362.7 532.6,356.2 542.6,353.4 552.9,335.9 561.8,334.7 572.3,338.2 582.8,343.4 592.8,342.9 602.6,349.9 612.7,349.2 622.5,338.7" fill="none" stroke="#1c3c8e" stroke-width="2.4" stroke-linejoin="round"/>
<path d="M107.0,336.9V366.1M104.6,336.9H109.4M104.6,366.1H109.4" stroke="#1c3c8e" stroke-width="1.2" fill="none"/>
<path d="M127.4,358.4V370.6M125.0,358.4H129.8M125.0,370.6H129.8" stroke="#1c3c8e" stroke-width="1.2" fill="none"/>
<path d="M137.0,329.7V346.1M134.6,329.7H139.4M134.6,346.1H139.4" stroke="#1c3c8e" stroke-width="1.2" fill="none"/>
<path d="M147.9,343.6V362.4M145.5,343.6H150.3M145.5,362.4H150.3" stroke="#1c3c8e" stroke-width="1.2" fill="none"/>
<path d="M157.5,351.2V374.7M155.1,351.2H159.9M155.1,374.7H159.9" stroke="#1c3c8e" stroke-width="1.2" fill="none"/>
<path d="M167.3,373.7V388.0M164.9,373.7H169.7M164.9,388.0H169.7" stroke="#1c3c8e" stroke-width="1.2" fill="none"/>
<path d="M182.0,394.1V408.4M179.6,394.1H184.4M179.6,408.4H184.4" stroke="#1c3c8e" stroke-width="1.2" fill="none"/>
<path d="M202.4,401.3V413.5M200.0,401.3H204.8M200.0,413.5H204.8" stroke="#1c3c8e" stroke-width="1.2" fill="none"/>
<path d="M212.3,402.3V412.5M209.9,402.3H214.7M209.9,412.5H214.7" stroke="#1c3c8e" stroke-width="1.2" fill="none"/>
<path d="M222.2,407.4V416.6M219.8,407.4H224.6M219.8,416.6H224.6" stroke="#1c3c8e" stroke-width="1.2" fill="none"/>
<path d="M232.3,389.4V405.4M229.9,389.4H234.7M229.9,405.4H234.7" stroke="#1c3c8e" stroke-width="1.2" fill="none"/>
<path d="M242.5,384.9V407.4M240.1,384.9H244.9M240.1,407.4H244.9" stroke="#1c3c8e" stroke-width="1.2" fill="none"/>
<path d="M252.1,358.4V370.6M249.7,358.4H254.5M249.7,370.6H254.5" stroke="#1c3c8e" stroke-width="1.2" fill="none"/>
<path d="M262.3,339.6V374.7M259.9,339.6H264.7M259.9,374.7H264.7" stroke="#1c3c8e" stroke-width="1.2" fill="none"/>
<path d="M272.1,344.1V372.7M269.7,344.1H274.5M269.7,372.7H274.5" stroke="#1c3c8e" stroke-width="1.2" fill="none"/>
<path d="M282.3,355.9V368.6M279.9,355.9H284.7M279.9,368.6H284.7" stroke="#1c3c8e" stroke-width="1.2" fill="none"/>
<path d="M292.6,355.3V367.6M290.2,355.3H295.0M290.2,367.6H295.0" stroke="#1c3c8e" stroke-width="1.2" fill="none"/>
<path d="M307.5,339.6V356.3M305.1,339.6H309.9M305.1,356.3H309.9" stroke="#1c3c8e" stroke-width="1.2" fill="none"/>
<path d="M317.3,342.4V359.4M314.9,342.4H319.7M314.9,359.4H319.7" stroke="#1c3c8e" stroke-width="1.2" fill="none"/>
<path d="M327.3,343.0V349.2M324.9,343.0H329.7M324.9,349.2H329.7" stroke="#1c3c8e" stroke-width="1.2" fill="none"/>
<path d="M337.5,350.2V362.4M335.1,350.2H339.9M335.1,362.4H339.9" stroke="#1c3c8e" stroke-width="1.2" fill="none"/>
<path d="M347.7,333.8V350.2M345.3,333.8H350.1M345.3,350.2H350.1" stroke="#1c3c8e" stroke-width="1.2" fill="none"/>
<path d="M357.3,335.9V365.5M354.9,335.9H359.7M354.9,365.5H359.7" stroke="#1c3c8e" stroke-width="1.2" fill="none"/>
<path d="M367.4,331.8V355.3M365.0,331.8H369.8M365.0,355.3H369.8" stroke="#1c3c8e" stroke-width="1.2" fill="none"/>
<path d="M377.6,348.5V363.5M375.2,348.5H380.0M375.2,363.5H380.0" stroke="#1c3c8e" stroke-width="1.2" fill="none"/>
<path d="M387.4,333.8V356.3M385.0,333.8H389.8M385.0,356.3H389.8" stroke="#1c3c8e" stroke-width="1.2" fill="none"/>
<path d="M397.6,331.8V342.0M395.2,331.8H400.0M395.2,342.0H400.0" stroke="#1c3c8e" stroke-width="1.2" fill="none"/>
<path d="M407.6,348.1V362.4M405.2,348.1H410.0M405.2,362.4H410.0" stroke="#1c3c8e" stroke-width="1.2" fill="none"/>
<path d="M417.4,366.5V379.8M415.0,366.5H419.8M415.0,379.8H419.8" stroke="#1c3c8e" stroke-width="1.2" fill="none"/>
<path d="M427.7,387.0V408.4M425.3,387.0H430.1M425.3,408.4H430.1" stroke="#1c3c8e" stroke-width="1.2" fill="none"/>
<path d="M512.7,372.1V386.1M510.3,372.1H515.1M510.3,386.1H515.1" stroke="#1c3c8e" stroke-width="1.2" fill="none"/>
<path d="M521.6,353.4V373.3M519.2,353.4H524.0M519.2,373.3H524.0" stroke="#1c3c8e" stroke-width="1.2" fill="none"/>
<path d="M542.6,347.6V359.2M540.2,347.6H545.0M540.2,359.2H545.0" stroke="#1c3c8e" stroke-width="1.2" fill="none"/>
<path d="M552.9,318.4V352.2M550.5,318.4H555.3M550.5,352.2H555.3" stroke="#1c3c8e" stroke-width="1.2" fill="none"/>
<path d="M561.8,326.5V342.9M559.4,326.5H564.2M559.4,342.9H564.2" stroke="#1c3c8e" stroke-width="1.2" fill="none"/>
<path d="M572.3,332.4V345.2M569.9,332.4H574.7M569.9,345.2H574.7" stroke="#1c3c8e" stroke-width="1.2" fill="none"/>
<path d="M582.8,327.7V352.2M580.4,327.7H585.2M580.4,352.2H585.2" stroke="#1c3c8e" stroke-width="1.2" fill="none"/>
<path d="M592.8,338.2V349.9M590.4,338.2H595.2M590.4,349.9H595.2" stroke="#1c3c8e" stroke-width="1.2" fill="none"/>
<path d="M622.5,332.4V345.2M620.1,332.4H624.9M620.1,345.2H624.9" stroke="#1c3c8e" stroke-width="1.2" fill="none"/>
<polygon points="107.0,347.1 111.1,351.2 107.0,355.3 102.9,351.2" fill="#1c3c8e"/>
<polygon points="127.4,360.8 131.5,364.9 127.4,369.0 123.3,364.9" fill="#1c3c8e"/>
<polygon points="137.0,334.2 141.1,338.3 137.0,342.4 132.9,338.3" fill="#1c3c8e"/>
<polygon points="147.9,349.1 152.0,353.2 147.9,357.3 143.8,353.2" fill="#1c3c8e"/>
<polygon points="157.5,359.0 161.6,363.1 157.5,367.2 153.4,363.1" fill="#1c3c8e"/>
<polygon points="167.3,376.7 171.4,380.8 167.3,384.9 163.2,380.8" fill="#1c3c8e"/>
<polygon points="182.0,397.2 186.1,401.3 182.0,405.4 177.9,401.3" fill="#1c3c8e"/>
<polygon points="192.2,400.2 196.3,404.3 192.2,408.4 188.1,404.3" fill="#1c3c8e"/>
<polygon points="202.4,403.3 206.5,407.4 202.4,411.5 198.3,407.4" fill="#1c3c8e"/>
<polygon points="212.3,402.9 216.4,407.0 212.3,411.1 208.2,407.0" fill="#1c3c8e"/>
<polygon points="222.2,407.8 226.3,411.9 222.2,416.0 218.1,411.9" fill="#1c3c8e"/>
<polygon points="232.3,393.1 236.4,397.2 232.3,401.3 228.2,397.2" fill="#1c3c8e"/>
<polygon points="242.5,392.1 246.6,396.2 242.5,400.3 238.4,396.2" fill="#1c3c8e"/>
<polygon points="252.1,360.4 256.2,364.5 252.1,368.6 248.0,364.5" fill="#1c3c8e"/>
<polygon points="262.3,352.2 266.4,356.3 262.3,360.4 258.2,356.3" fill="#1c3c8e"/>
<polygon points="272.1,354.3 276.2,358.4 272.1,362.5 268.0,358.4" fill="#1c3c8e"/>
<polygon points="282.3,357.3 286.4,361.4 282.3,365.5 278.2,361.4" fill="#1c3c8e"/>
<polygon points="292.6,357.3 296.7,361.4 292.6,365.5 288.5,361.4" fill="#1c3c8e"/>
<polygon points="307.5,343.6 311.6,347.7 307.5,351.8 303.4,347.7" fill="#1c3c8e"/>
<polygon points="317.3,347.1 321.4,351.2 317.3,355.3 313.2,351.2" fill="#1c3c8e"/>
<polygon points="327.3,342.0 331.4,346.1 327.3,350.2 323.2,346.1" fill="#1c3c8e"/>
<polygon points="337.5,352.2 341.6,356.3 337.5,360.4 333.4,356.3" fill="#1c3c8e"/>
<polygon points="347.7,337.5 351.8,341.6 347.7,345.7 343.6,341.6" fill="#1c3c8e"/>
<polygon points="357.3,345.7 361.4,349.8 357.3,353.9 353.2,349.8" fill="#1c3c8e"/>
<polygon points="367.4,339.5 371.5,343.6 367.4,347.7 363.3,343.6" fill="#1c3c8e"/>
<polygon points="377.6,351.2 381.7,355.3 377.6,359.4 373.5,355.3" fill="#1c3c8e"/>
<polygon points="387.4,340.6 391.5,344.7 387.4,348.8 383.3,344.7" fill="#1c3c8e"/>
<polygon points="397.6,332.8 401.7,336.9 397.6,341.0 393.5,336.9" fill="#1c3c8e"/>
<polygon points="407.6,351.2 411.7,355.3 407.6,359.4 403.5,355.3" fill="#1c3c8e"/>
<polygon points="417.4,368.6 421.5,372.7 417.4,376.8 413.3,372.7" fill="#1c3c8e"/>
<polygon points="427.7,393.1 431.8,397.2 427.7,401.3 423.6,397.2" fill="#1c3c8e"/>
<polygon points="442.6,399.2 446.7,403.3 442.6,407.4 438.5,403.3" fill="#1c3c8e"/>
<polygon points="452.6,407.8 456.7,411.9 452.6,416.0 448.5,411.9" fill="#1c3c8e"/>
<polygon points="462.4,405.3 466.5,409.4 462.4,413.5 458.3,409.4" fill="#1c3c8e"/>
<polygon points="472.6,408.8 476.7,412.9 472.6,417.0 468.5,412.9" fill="#1c3c8e"/>
<polygon points="482.4,408.4 486.5,412.5 482.4,416.6 478.3,412.5" fill="#1c3c8e"/>
<polygon points="494.0,405.4 498.1,409.5 494.0,413.6 489.9,409.5" fill="#1c3c8e"/>
<polygon points="502.2,395.3 506.3,399.4 502.2,403.5 498.1,399.4" fill="#1c3c8e"/>
<polygon points="512.7,374.5 516.8,378.6 512.7,382.7 508.6,378.6" fill="#1c3c8e"/>
<polygon points="521.6,358.6 525.7,362.7 521.6,366.8 517.5,362.7" fill="#1c3c8e"/>
<polygon points="532.6,352.1 536.7,356.2 532.6,360.3 528.5,356.2" fill="#1c3c8e"/>
<polygon points="542.6,349.3 546.7,353.4 542.6,357.5 538.5,353.4" fill="#1c3c8e"/>
<polygon points="552.9,331.8 557.0,335.9 552.9,340.0 548.8,335.9" fill="#1c3c8e"/>
<polygon points="561.8,330.6 565.9,334.7 561.8,338.8 557.7,334.7" fill="#1c3c8e"/>
<polygon points="572.3,334.1 576.4,338.2 572.3,342.3 568.2,338.2" fill="#1c3c8e"/>
<polygon points="582.8,339.3 586.9,343.4 582.8,347.5 578.7,343.4" fill="#1c3c8e"/>
<polygon points="592.8,338.8 596.9,342.9 592.8,347.0 588.7,342.9" fill="#1c3c8e"/>
<polygon points="602.6,345.8 606.7,349.9 602.6,354.0 598.5,349.9" fill="#1c3c8e"/>
<polygon points="612.7,345.1 616.8,349.2 612.7,353.3 608.6,349.2" fill="#1c3c8e"/>
<polygon points="622.5,334.6 626.6,338.7 622.5,342.8 618.4,338.7" fill="#1c3c8e"/>
<rect x="89.6" y="298.2" width="543.10" height="125.00" fill="none" stroke="#000" stroke-width="2"/>
<text x="0.50" y="458.70" font-size="29" text-anchor="start" font-weight="bold" font-style="normal" fill="#000" >d</text>
<rect x="89.6" y="454.8" width="543.10" height="124.60" fill="none" stroke="#000" stroke-width="2"/>
<text x="639.50" y="459.60" font-size="16" text-anchor="start" font-weight="normal" font-style="normal" fill="#000" >35</text>
<line x1="624.30" y1="485.95" x2="632.70" y2="485.95" stroke="#000" stroke-width="1.8" />
<text x="639.50" y="490.75" font-size="16" text-anchor="start" font-weight="normal" font-style="normal" fill="#000" >25</text>
<line x1="624.30" y1="517.10" x2="632.70" y2="517.10" stroke="#000" stroke-width="1.8" />
<text x="639.50" y="521.90" font-size="16" text-anchor="start" font-weight="normal" font-style="normal" fill="#000" >15</text>
<line x1="624.30" y1="548.25" x2="632.70" y2="548.25" stroke="#000" stroke-width="1.8" />
<text x="639.50" y="553.05" font-size="16" text-anchor="start" font-weight="normal" font-style="normal" fill="#000" >5</text>
<text x="639.50" y="584.20" font-size="16" text-anchor="start" font-weight="normal" font-style="normal" fill="#000" >−5</text>
<text x="84.00" y="585.00" font-size="16" text-anchor="end" font-weight="normal" font-style="normal" fill="#000" >0.0</text>
<line x1="89.60" y1="537.87" x2="97.80" y2="537.87" stroke="#000" stroke-width="1.8" />
<text x="84.00" y="543.47" font-size="16" text-anchor="end" font-weight="normal" font-style="normal" fill="#000" >0.3</text>
<line x1="89.60" y1="496.33" x2="97.80" y2="496.33" stroke="#000" stroke-width="1.8" />
<text x="84.00" y="501.93" font-size="16" text-anchor="end" font-weight="normal" font-style="normal" fill="#000" >0.6</text>
<text x="84.00" y="460.40" font-size="16" text-anchor="end" font-weight="normal" font-style="normal" fill="#000" >0.9</text>
<line x1="89.60" y1="579.40" x2="89.60" y2="587.90" stroke="#000" stroke-width="1.8" />
<line x1="111.32" y1="579.40" x2="111.32" y2="587.90" stroke="#000" stroke-width="1.8" />
<line x1="133.05" y1="579.40" x2="133.05" y2="587.90" stroke="#000" stroke-width="1.8" />
<line x1="154.77" y1="579.40" x2="154.77" y2="587.90" stroke="#000" stroke-width="1.8" />
<line x1="176.50" y1="579.40" x2="176.50" y2="587.90" stroke="#000" stroke-width="1.8" />
<line x1="198.22" y1="579.40" x2="198.22" y2="587.90" stroke="#000" stroke-width="1.8" />
<line x1="219.94" y1="579.40" x2="219.94" y2="587.90" stroke="#000" stroke-width="1.8" />
<line x1="241.67" y1="579.40" x2="241.67" y2="587.90" stroke="#000" stroke-width="1.8" />
<line x1="263.39" y1="579.40" x2="263.39" y2="587.90" stroke="#000" stroke-width="1.8" />
<line x1="285.12" y1="579.40" x2="285.12" y2="587.90" stroke="#000" stroke-width="1.8" />
<line x1="306.84" y1="579.40" x2="306.84" y2="587.90" stroke="#000" stroke-width="1.8" />
<line x1="328.56" y1="579.40" x2="328.56" y2="587.90" stroke="#000" stroke-width="1.8" />
<line x1="350.29" y1="579.40" x2="350.29" y2="587.90" stroke="#000" stroke-width="1.8" />
<line x1="372.01" y1="579.40" x2="372.01" y2="587.90" stroke="#000" stroke-width="1.8" />
<line x1="393.74" y1="579.40" x2="393.74" y2="587.90" stroke="#000" stroke-width="1.8" />
<line x1="415.46" y1="579.40" x2="415.46" y2="587.90" stroke="#000" stroke-width="1.8" />
<line x1="437.18" y1="579.40" x2="437.18" y2="587.90" stroke="#000" stroke-width="1.8" />
<line x1="458.91" y1="579.40" x2="458.91" y2="587.90" stroke="#000" stroke-width="1.8" />
<line x1="480.63" y1="579.40" x2="480.63" y2="587.90" stroke="#000" stroke-width="1.8" />
<line x1="502.36" y1="579.40" x2="502.36" y2="587.90" stroke="#000" stroke-width="1.8" />
<line x1="524.08" y1="579.40" x2="524.08" y2="587.90" stroke="#000" stroke-width="1.8" />
<line x1="545.80" y1="579.40" x2="545.80" y2="587.90" stroke="#000" stroke-width="1.8" />
<line x1="567.53" y1="579.40" x2="567.53" y2="587.90" stroke="#000" stroke-width="1.8" />
<line x1="589.25" y1="579.40" x2="589.25" y2="587.90" stroke="#000" stroke-width="1.8" />
<line x1="610.98" y1="579.40" x2="610.98" y2="587.90" stroke="#000" stroke-width="1.8" />
<line x1="632.70" y1="579.40" x2="632.70" y2="587.90" stroke="#000" stroke-width="1.8" />
<text x="100.46" y="599.90" font-size="16" text-anchor="middle" font-weight="normal" font-style="normal" fill="#000" >9</text>
<text x="122.19" y="599.90" font-size="16" text-anchor="middle" font-weight="normal" font-style="normal" fill="#000" >10</text>
<text x="143.91" y="599.90" font-size="16" text-anchor="middle" font-weight="normal" font-style="normal" fill="#000" >11</text>
<text x="165.63" y="599.90" font-size="16" text-anchor="middle" font-weight="normal" font-style="normal" fill="#000" >12</text>
<text x="187.36" y="599.90" font-size="16" text-anchor="middle" font-weight="normal" font-style="normal" fill="#000" >1</text>
<text x="209.08" y="599.90" font-size="16" text-anchor="middle" font-weight="normal" font-style="normal" fill="#000" >2</text>
<text x="230.81" y="599.90" font-size="16" text-anchor="middle" font-weight="normal" font-style="normal" fill="#000" >3</text>
<text x="252.53" y="599.90" font-size="16" text-anchor="middle" font-weight="normal" font-style="normal" fill="#000" >4</text>
<text x="274.25" y="599.90" font-size="16" text-anchor="middle" font-weight="normal" font-style="normal" fill="#000" >5</text>
<text x="295.98" y="599.90" font-size="16" text-anchor="middle" font-weight="normal" font-style="normal" fill="#000" >6</text>
<text x="317.70" y="599.90" font-size="16" text-anchor="middle" font-weight="normal" font-style="normal" fill="#000" >7</text>
<text x="339.43" y="599.90" font-size="16" text-anchor="middle" font-weight="normal" font-style="normal" fill="#000" >8</text>
<text x="361.15" y="599.90" font-size="16" text-anchor="middle" font-weight="normal" font-style="normal" fill="#000" >9</text>
<text x="382.87" y="599.90" font-size="16" text-anchor="middle" font-weight="normal" font-style="normal" fill="#000" >10</text>
<text x="404.60" y="599.90" font-size="16" text-anchor="middle" font-weight="normal" font-style="normal" fill="#000" >11</text>
<text x="426.32" y="599.90" font-size="16" text-anchor="middle" font-weight="normal" font-style="normal" fill="#000" >12</text>
<text x="448.05" y="599.90" font-size="16" text-anchor="middle" font-weight="normal" font-style="normal" fill="#000" >1</text>
<text x="469.77" y="599.90" font-size="16" text-anchor="middle" font-weight="normal" font-style="normal" fill="#000" >2</text>
<text x="491.49" y="599.90" font-size="16" text-anchor="middle" font-weight="normal" font-style="normal" fill="#000" >3</text>
<text x="513.22" y="599.90" font-size="16" text-anchor="middle" font-weight="normal" font-style="normal" fill="#000" >4</text>
<text x="534.94" y="599.90" font-size="16" text-anchor="middle" font-weight="normal" font-style="normal" fill="#000" >5</text>
<text x="556.67" y="599.90" font-size="16" text-anchor="middle" font-weight="normal" font-style="normal" fill="#000" >6</text>
<text x="578.39" y="599.90" font-size="16" text-anchor="middle" font-weight="normal" font-style="normal" fill="#000" >7</text>
<text x="600.11" y="599.90" font-size="16" text-anchor="middle" font-weight="normal" font-style="normal" fill="#000" >8</text>
<text x="621.84" y="599.90" font-size="16" text-anchor="middle" font-weight="normal" font-style="normal" fill="#000" >9</text>
<text transform="translate(676.30,517.10) rotate(-90)" x="0" y="5.60" font-size="16" text-anchor="middle" font-style="normal">Temperature (°C)</text>
<text transform="translate(20.40,517.10) rotate(-90)" x="0" y="5.60" font-size="16" text-anchor="middle" font-style="normal">H3K4me3</text>
<text transform="translate(37.60,517.10) rotate(-90)" x="0" y="5.60" font-size="16" text-anchor="middle" font-style="normal">(amplicons VI–VIII)</text>
<polyline points="107.0,568.5 127.4,571.6 137.0,574.3 147.9,566.5 157.5,556.3 167.3,559.3 182.0,545.6 192.2,554.2 202.4,562.0 212.3,560.4 222.2,572.6 232.3,573.6 242.5,576.0 252.1,576.0 262.3,576.0 272.1,576.0 282.3,576.0 292.6,576.0 307.5,576.0 317.3,576.0 327.3,576.0 337.5,575.9 347.7,575.9 357.3,575.8 367.4,575.7 377.6,575.6 387.4,575.6 397.6,575.5 407.6,571.6 417.4,557.3 427.7,560.4 442.6,537.9 452.6,541.0 462.4,552.2 472.6,562.4 482.4,569.5 494.0,577.0 502.2,577.0 512.7,577.0 521.6,577.0 532.6,577.0 542.6,577.0 552.9,577.0 561.8,577.0 572.3,577.0 582.8,577.0 592.8,577.0 602.6,577.0 612.7,577.0 622.5,577.0" fill="none" stroke="#009a00" stroke-width="2.4" stroke-linejoin="round"/>
<path d="M107.0,564.0V573.0M104.6,564.0H109.4M104.6,573.0H109.4" stroke="#009a00" stroke-width="1.2" fill="none"/>
<path d="M147.9,557.0V576.0M145.5,557.0H150.3M145.5,576.0H150.3" stroke="#009a00" stroke-width="1.2" fill="none"/>
<path d="M157.5,548.0V565.0M155.1,548.0H159.9M155.1,565.0H159.9" stroke="#009a00" stroke-width="1.2" fill="none"/>
<path d="M167.3,551.0V567.0M164.9,551.0H169.7M164.9,567.0H169.7" stroke="#009a00" stroke-width="1.2" fill="none"/>
<path d="M182.0,537.0V553.0M179.6,537.0H184.4M179.6,553.0H184.4" stroke="#009a00" stroke-width="1.2" fill="none"/>
<path d="M202.4,545.0V575.0M200.0,545.0H204.8M200.0,575.0H204.8" stroke="#009a00" stroke-width="1.2" fill="none"/>
<path d="M212.3,552.0V568.0M209.9,552.0H214.7M209.9,568.0H214.7" stroke="#009a00" stroke-width="1.2" fill="none"/>
<path d="M417.4,551.0V563.0M415.0,551.0H419.8M415.0,563.0H419.8" stroke="#009a00" stroke-width="1.2" fill="none"/>
<path d="M442.6,532.0V544.0M440.2,532.0H445.0M440.2,544.0H445.0" stroke="#009a00" stroke-width="1.2" fill="none"/>
<path d="M452.6,535.0V547.0M450.2,535.0H455.0M450.2,547.0H455.0" stroke="#009a00" stroke-width="1.2" fill="none"/>
<path d="M462.4,545.0V560.0M460.0,545.0H464.8M460.0,560.0H464.8" stroke="#009a00" stroke-width="1.2" fill="none"/>
<path d="M472.6,556.0V569.0M470.2,556.0H475.0M470.2,569.0H475.0" stroke="#009a00" stroke-width="1.2" fill="none"/>
<path d="M482.4,563.0V576.0M480.0,563.0H484.8M480.0,576.0H484.8" stroke="#009a00" stroke-width="1.2" fill="none"/>
<circle cx="107.0" cy="568.5" r="3.6" fill="#009a00"/>
<circle cx="127.4" cy="571.6" r="3.6" fill="#009a00"/>
<circle cx="137.0" cy="574.3" r="3.6" fill="#009a00"/>
<circle cx="147.9" cy="566.5" r="3.6" fill="#009a00"/>
<circle cx="157.5" cy="556.3" r="3.6" fill="#009a00"/>
<circle cx="167.3" cy="559.3" r="3.6" fill="#009a00"/>
<circle cx="182.0" cy="545.6" r="3.6" fill="#009a00"/>
<circle cx="192.2" cy="554.2" r="3.6" fill="#009a00"/>
<circle cx="202.4" cy="562.0" r="3.6" fill="#009a00"/>
<circle cx="212.3" cy="560.4" r="3.6" fill="#009a00"/>
<circle cx="222.2" cy="572.6" r="3.6" fill="#009a00"/>
<circle cx="232.3" cy="573.6" r="3.6" fill="#009a00"/>
<circle cx="242.5" cy="576.0" r="3.6" fill="#009a00"/>
<circle cx="252.1" cy="576.0" r="3.6" fill="#009a00"/>
<circle cx="262.3" cy="576.0" r="3.6" fill="#009a00"/>
<circle cx="272.1" cy="576.0" r="3.6" fill="#009a00"/>
<circle cx="282.3" cy="576.0" r="3.6" fill="#009a00"/>
<circle cx="292.6" cy="576.0" r="3.6" fill="#009a00"/>
<circle cx="307.5" cy="576.0" r="3.6" fill="#009a00"/>
<circle cx="317.3" cy="576.0" r="3.6" fill="#009a00"/>
<circle cx="327.3" cy="576.0" r="3.6" fill="#009a00"/>
<circle cx="337.5" cy="575.9" r="3.6" fill="#009a00"/>
<circle cx="347.7" cy="575.9" r="3.6" fill="#009a00"/>
<circle cx="357.3" cy="575.8" r="3.6" fill="#009a00"/>
<circle cx="367.4" cy="575.7" r="3.6" fill="#009a00"/>
<circle cx="377.6" cy="575.6" r="3.6" fill="#009a00"/>
<circle cx="387.4" cy="575.6" r="3.6" fill="#009a00"/>
<circle cx="397.6" cy="575.5" r="3.6" fill="#009a00"/>
<circle cx="407.6" cy="571.6" r="3.6" fill="#009a00"/>
<circle cx="417.4" cy="557.3" r="3.6" fill="#009a00"/>
<circle cx="427.7" cy="560.4" r="3.6" fill="#009a00"/>
<circle cx="442.6" cy="537.9" r="3.6" fill="#009a00"/>
<circle cx="452.6" cy="541.0" r="3.6" fill="#009a00"/>
<circle cx="462.4" cy="552.2" r="3.6" fill="#009a00"/>
<circle cx="472.6" cy="562.4" r="3.6" fill="#009a00"/>
<circle cx="482.4" cy="569.5" r="3.6" fill="#009a00"/>
<circle cx="494.0" cy="577.0" r="3.6" fill="#009a00"/>
<circle cx="502.2" cy="577.0" r="3.6" fill="#009a00"/>
<circle cx="512.7" cy="577.0" r="3.6" fill="#009a00"/>
<circle cx="521.6" cy="577.0" r="3.6" fill="#009a00"/>
<circle cx="532.6" cy="577.0" r="3.6" fill="#009a00"/>
<circle cx="542.6" cy="577.0" r="3.6" fill="#009a00"/>
<circle cx="552.9" cy="577.0" r="3.6" fill="#009a00"/>
<circle cx="561.8" cy="577.0" r="3.6" fill="#009a00"/>
<circle cx="572.3" cy="577.0" r="3.6" fill="#009a00"/>
<circle cx="582.8" cy="577.0" r="3.6" fill="#009a00"/>
<circle cx="592.8" cy="577.0" r="3.6" fill="#009a00"/>
<circle cx="602.6" cy="577.0" r="3.6" fill="#009a00"/>
<circle cx="612.7" cy="577.0" r="3.6" fill="#009a00"/>
<circle cx="622.5" cy="577.0" r="3.6" fill="#009a00"/>
<polyline points="107.0,572.6 127.4,568.1 137.0,570.6 147.9,560.4 157.5,539.9 167.3,544.4 182.0,513.8 192.2,524.0 202.4,546.1 212.3,544.4 222.2,562.2 232.3,568.1 242.5,572.6 252.1,572.2 262.3,575.7 272.1,573.6 282.3,575.0 292.6,574.3 307.5,576.3 317.3,575.0 327.3,573.6 337.5,575.0 347.7,575.7 357.3,569.6 367.4,576.7 377.6,575.7 387.4,575.7 397.6,571.6 407.6,556.3 417.4,512.3 427.7,544.4 442.6,497.4 452.6,508.9 462.4,518.5 472.6,544.0 482.4,559.5 494.0,573.8 502.2,573.8 512.7,572.6 521.6,576.1 532.6,573.8 542.6,572.6 552.9,573.8 561.8,575.0 572.3,573.3 582.8,576.1 592.8,571.0 602.6,572.0 612.7,575.0 622.5,575.0" fill="none" stroke="#ff00ff" stroke-width="2.4" stroke-linejoin="round"/>
<path d="M127.4,562.0V572.0M125.0,562.0H129.8M125.0,572.0H129.8" stroke="#ff00ff" stroke-width="1.2" fill="none"/>
<path d="M147.9,539.5V574.3M145.5,539.5H150.3M145.5,574.3H150.3" stroke="#ff00ff" stroke-width="1.2" fill="none"/>
<path d="M157.5,532.6V550.2M155.1,532.6H159.9M155.1,550.2H159.9" stroke="#ff00ff" stroke-width="1.2" fill="none"/>
<path d="M167.3,537.9V551.2M164.9,537.9H169.7M164.9,551.2H169.7" stroke="#ff00ff" stroke-width="1.2" fill="none"/>
<path d="M182.0,501.5V526.5M179.6,501.5H184.4M179.6,526.5H184.4" stroke="#ff00ff" stroke-width="1.2" fill="none"/>
<path d="M192.2,516.2V531.7M189.8,516.2H194.6M189.8,531.7H194.6" stroke="#ff00ff" stroke-width="1.2" fill="none"/>
<path d="M202.4,533.8V560.4M200.0,533.8H204.8M200.0,560.4H204.8" stroke="#ff00ff" stroke-width="1.2" fill="none"/>
<path d="M212.3,538.0V550.0M209.9,538.0H214.7M209.9,550.0H214.7" stroke="#ff00ff" stroke-width="1.2" fill="none"/>
<path d="M222.2,554.0V570.0M219.8,554.0H224.6M219.8,570.0H224.6" stroke="#ff00ff" stroke-width="1.2" fill="none"/>
<path d="M232.3,562.0V575.0M229.9,562.0H234.7M229.9,575.0H234.7" stroke="#ff00ff" stroke-width="1.2" fill="none"/>
<path d="M357.3,559.3V575.0M354.9,559.3H359.7M354.9,575.0H359.7" stroke="#ff00ff" stroke-width="1.2" fill="none"/>
<path d="M417.4,505.2V519.5M415.0,505.2H419.8M415.0,519.5H419.8" stroke="#ff00ff" stroke-width="1.2" fill="none"/>
<path d="M427.7,529.7V558.3M425.3,529.7H430.1M425.3,558.3H430.1" stroke="#ff00ff" stroke-width="1.2" fill="none"/>
<path d="M442.6,481.0V513.8M440.2,481.0H445.0M440.2,513.8H445.0" stroke="#ff00ff" stroke-width="1.2" fill="none"/>
<path d="M452.6,470.0V559.3M450.2,470.0H455.0M450.2,559.3H455.0" stroke="#ff00ff" stroke-width="1.2" fill="none"/>
<path d="M462.4,498.6V537.9M460.0,498.6H464.8M460.0,537.9H464.8" stroke="#ff00ff" stroke-width="1.2" fill="none"/>
<path d="M472.6,529.7V558.3M470.2,529.7H475.0M470.2,558.3H475.0" stroke="#ff00ff" stroke-width="1.2" fill="none"/>
<path d="M482.4,552.0V568.0M480.0,552.0H484.8M480.0,568.0H484.8" stroke="#ff00ff" stroke-width="1.2" fill="none"/>
<polygon points="107.0,568.5 111.1,572.6 107.0,576.7 102.9,572.6" fill="#ff00ff"/>
<polygon points="127.4,564.0 131.5,568.1 127.4,572.2 123.3,568.1" fill="#ff00ff"/>
<polygon points="137.0,566.5 141.1,570.6 137.0,574.7 132.9,570.6" fill="#ff00ff"/>
<polygon points="147.9,556.3 152.0,560.4 147.9,564.5 143.8,560.4" fill="#ff00ff"/>
<polygon points="157.5,535.8 161.6,539.9 157.5,544.0 153.4,539.9" fill="#ff00ff"/>
<polygon points="167.3,540.3 171.4,544.4 167.3,548.5 163.2,544.4" fill="#ff00ff"/>
<polygon points="182.0,509.7 186.1,513.8 182.0,517.9 177.9,513.8" fill="#ff00ff"/>
<polygon points="192.2,519.9 196.3,524.0 192.2,528.1 188.1,524.0" fill="#ff00ff"/>
<polygon points="202.4,542.0 206.5,546.1 202.4,550.2 198.3,546.1" fill="#ff00ff"/>
<polygon points="212.3,540.3 216.4,544.4 212.3,548.5 208.2,544.4" fill="#ff00ff"/>
<polygon points="222.2,558.1 226.3,562.2 222.2,566.3 218.1,562.2" fill="#ff00ff"/>
<polygon points="232.3,564.0 236.4,568.1 232.3,572.2 228.2,568.1" fill="#ff00ff"/>
<polygon points="242.5,568.5 246.6,572.6 242.5,576.7 238.4,572.6" fill="#ff00ff"/>
<polygon points="252.1,568.1 256.2,572.2 252.1,576.3 248.0,572.2" fill="#ff00ff"/>
<polygon points="262.3,571.6 266.4,575.7 262.3,579.8 258.2,575.7" fill="#ff00ff"/>
<polygon points="272.1,569.5 276.2,573.6 272.1,577.7 268.0,573.6" fill="#ff00ff"/>
<polygon points="282.3,570.9 286.4,575.0 282.3,579.1 278.2,575.0" fill="#ff00ff"/>
<polygon points="292.6,570.2 296.7,574.3 292.6,578.4 288.5,574.3" fill="#ff00ff"/>
<polygon points="307.5,572.2 311.6,576.3 307.5,580.4 303.4,576.3" fill="#ff00ff"/>
<polygon points="317.3,570.9 321.4,575.0 317.3,579.1 313.2,575.0" fill="#ff00ff"/>
<polygon points="327.3,569.5 331.4,573.6 327.3,577.7 323.2,573.6" fill="#ff00ff"/>
<polygon points="337.5,570.9 341.6,575.0 337.5,579.1 333.4,575.0" fill="#ff00ff"/>
<polygon points="347.7,571.6 351.8,575.7 347.7,579.8 343.6,575.7" fill="#ff00ff"/>
<polygon points="357.3,565.5 361.4,569.6 357.3,573.7 353.2,569.6" fill="#ff00ff"/>
<polygon points="367.4,572.6 371.5,576.7 367.4,580.8 363.3,576.7" fill="#ff00ff"/>
<polygon points="377.6,571.6 381.7,575.7 377.6,579.8 373.5,575.7" fill="#ff00ff"/>
<polygon points="387.4,571.6 391.5,575.7 387.4,579.8 383.3,575.7" fill="#ff00ff"/>
<polygon points="397.6,567.5 401.7,571.6 397.6,575.7 393.5,571.6" fill="#ff00ff"/>
<polygon points="407.6,552.2 411.7,556.3 407.6,560.4 403.5,556.3" fill="#ff00ff"/>
<polygon points="417.4,508.2 421.5,512.3 417.4,516.4 413.3,512.3" fill="#ff00ff"/>
<polygon points="427.7,540.3 431.8,544.4 427.7,548.5 423.6,544.4" fill="#ff00ff"/>
<polygon points="442.6,493.3 446.7,497.4 442.6,501.5 438.5,497.4" fill="#ff00ff"/>
<polygon points="452.6,504.8 456.7,508.9 452.6,513.0 448.5,508.9" fill="#ff00ff"/>
<polygon points="462.4,514.4 466.5,518.5 462.4,522.6 458.3,518.5" fill="#ff00ff"/>
<polygon points="472.6,539.9 476.7,544.0 472.6,548.1 468.5,544.0" fill="#ff00ff"/>
<polygon points="482.4,555.4 486.5,559.5 482.4,563.6 478.3,559.5" fill="#ff00ff"/>
<polygon points="494.0,569.7 498.1,573.8 494.0,577.9 489.9,573.8" fill="#ff00ff"/>
<polygon points="502.2,569.7 506.3,573.8 502.2,577.9 498.1,573.8" fill="#ff00ff"/>
<polygon points="512.7,568.5 516.8,572.6 512.7,576.7 508.6,572.6" fill="#ff00ff"/>
<polygon points="521.6,572.0 525.7,576.1 521.6,580.2 517.5,576.1" fill="#ff00ff"/>
<polygon points="532.6,569.7 536.7,573.8 532.6,577.9 528.5,573.8" fill="#ff00ff"/>
<polygon points="542.6,568.5 546.7,572.6 542.6,576.7 538.5,572.6" fill="#ff00ff"/>
<polygon points="552.9,569.7 557.0,573.8 552.9,577.9 548.8,573.8" fill="#ff00ff"/>
<polygon points="561.8,570.9 565.9,575.0 561.8,579.1 557.7,575.0" fill="#ff00ff"/>
<polygon points="572.3,569.2 576.4,573.3 572.3,577.4 568.2,573.3" fill="#ff00ff"/>
<polygon points="582.8,572.0 586.9,576.1 582.8,580.2 578.7,576.1" fill="#ff00ff"/>
<polygon points="592.8,566.9 596.9,571.0 592.8,575.1 588.7,571.0" fill="#ff00ff"/>
<polygon points="602.6,567.9 606.7,572.0 602.6,576.1 598.5,572.0" fill="#ff00ff"/>
<polygon points="612.7,570.9 616.8,575.0 612.7,579.1 608.6,575.0" fill="#ff00ff"/>
<polygon points="622.5,570.9 626.6,575.0 622.5,579.1 618.4,575.0" fill="#ff00ff"/>
<polyline points="107.0,574.1 127.4,571.6 137.0,573.6 147.9,563.0 157.5,554.2 167.3,556.7 182.0,536.9 192.2,552.2 202.4,558.9 212.3,557.3 222.2,569.0 232.3,572.6 242.5,575.0 252.1,574.7 262.3,576.7 272.1,574.7 282.3,576.3 292.6,575.7 307.5,577.1 317.3,575.7 327.3,574.3 337.5,574.7 347.7,576.3 357.3,572.6 367.4,577.1 377.6,575.7 387.4,575.7 397.6,573.6 407.6,568.5 417.4,550.6 427.7,562.0 442.6,534.2 452.6,543.0 462.4,549.1 472.6,560.4 482.4,568.0 494.0,575.7 502.2,575.7 512.7,575.0 521.6,577.3 532.6,575.0 542.6,575.0 552.9,575.7 561.8,576.1 572.3,576.1 582.8,576.6 592.8,574.3 602.6,575.7 612.7,576.1 622.5,576.6" fill="none" stroke="#8b0000" stroke-width="2.4" stroke-linejoin="round"/>
<path d="M147.9,555.0V571.0M145.5,555.0H150.3M145.5,571.0H150.3" stroke="#8b0000" stroke-width="1.2" fill="none"/>
<path d="M157.5,545.0V563.0M155.1,545.0H159.9M155.1,563.0H159.9" stroke="#8b0000" stroke-width="1.2" fill="none"/>
<path d="M167.3,549.0V564.0M164.9,549.0H169.7M164.9,564.0H169.7" stroke="#8b0000" stroke-width="1.2" fill="none"/>
<path d="M182.0,522.0V552.0M179.6,522.0H184.4M179.6,552.0H184.4" stroke="#8b0000" stroke-width="1.2" fill="none"/>
<path d="M192.2,545.0V559.0M189.8,545.0H194.6M189.8,559.0H194.6" stroke="#8b0000" stroke-width="1.2" fill="none"/>
<path d="M202.4,549.0V568.0M200.0,549.0H204.8M200.0,568.0H204.8" stroke="#8b0000" stroke-width="1.2" fill="none"/>
<path d="M212.3,550.0V564.0M209.9,550.0H214.7M209.9,564.0H214.7" stroke="#8b0000" stroke-width="1.2" fill="none"/>
<path d="M427.7,556.3V568.1M425.3,556.3H430.1M425.3,568.1H430.1" stroke="#8b0000" stroke-width="1.2" fill="none"/>
<path d="M442.6,530.7V537.9M440.2,530.7H445.0M440.2,537.9H445.0" stroke="#8b0000" stroke-width="1.2" fill="none"/>
<path d="M452.6,526.0V559.3M450.2,526.0H455.0M450.2,559.3H455.0" stroke="#8b0000" stroke-width="1.2" fill="none"/>
<path d="M462.4,537.9V562.4M460.0,537.9H464.8M460.0,562.4H464.8" stroke="#8b0000" stroke-width="1.2" fill="none"/>
<rect x="103.6" y="570.7" width="6.8" height="6.8" fill="#8b0000"/>
<rect x="124.0" y="568.2" width="6.8" height="6.8" fill="#8b0000"/>
<rect x="133.6" y="570.2" width="6.8" height="6.8" fill="#8b0000"/>
<rect x="144.5" y="559.6" width="6.8" height="6.8" fill="#8b0000"/>
<rect x="154.1" y="550.8" width="6.8" height="6.8" fill="#8b0000"/>
<rect x="163.9" y="553.3" width="6.8" height="6.8" fill="#8b0000"/>
<rect x="178.6" y="533.5" width="6.8" height="6.8" fill="#8b0000"/>
<rect x="188.8" y="548.8" width="6.8" height="6.8" fill="#8b0000"/>
<rect x="199.0" y="555.5" width="6.8" height="6.8" fill="#8b0000"/>
<rect x="208.9" y="553.9" width="6.8" height="6.8" fill="#8b0000"/>
<rect x="218.8" y="565.6" width="6.8" height="6.8" fill="#8b0000"/>
<rect x="228.9" y="569.2" width="6.8" height="6.8" fill="#8b0000"/>
<rect x="239.1" y="571.6" width="6.8" height="6.8" fill="#8b0000"/>
<rect x="248.7" y="571.3" width="6.8" height="6.8" fill="#8b0000"/>
<rect x="258.9" y="573.3" width="6.8" height="6.8" fill="#8b0000"/>
<rect x="268.7" y="571.3" width="6.8" height="6.8" fill="#8b0000"/>
<rect x="278.9" y="572.9" width="6.8" height="6.8" fill="#8b0000"/>
<rect x="289.2" y="572.3" width="6.8" height="6.8" fill="#8b0000"/>
<rect x="304.1" y="573.7" width="6.8" height="6.8" fill="#8b0000"/>
<rect x="313.9" y="572.3" width="6.8" height="6.8" fill="#8b0000"/>
<rect x="323.9" y="570.9" width="6.8" height="6.8" fill="#8b0000"/>
<rect x="334.1" y="571.3" width="6.8" height="6.8" fill="#8b0000"/>
<rect x="344.3" y="572.9" width="6.8" height="6.8" fill="#8b0000"/>
<rect x="353.9" y="569.2" width="6.8" height="6.8" fill="#8b0000"/>
<rect x="364.0" y="573.7" width="6.8" height="6.8" fill="#8b0000"/>
<rect x="374.2" y="572.3" width="6.8" height="6.8" fill="#8b0000"/>
<rect x="384.0" y="572.3" width="6.8" height="6.8" fill="#8b0000"/>
<rect x="394.2" y="570.2" width="6.8" height="6.8" fill="#8b0000"/>
<rect x="404.2" y="565.1" width="6.8" height="6.8" fill="#8b0000"/>
<rect x="414.0" y="547.2" width="6.8" height="6.8" fill="#8b0000"/>
<rect x="424.3" y="558.6" width="6.8" height="6.8" fill="#8b0000"/>
<rect x="439.2" y="530.8" width="6.8" height="6.8" fill="#8b0000"/>
<rect x="449.2" y="539.6" width="6.8" height="6.8" fill="#8b0000"/>
<rect x="459.0" y="545.7" width="6.8" height="6.8" fill="#8b0000"/>
<rect x="469.2" y="557.0" width="6.8" height="6.8" fill="#8b0000"/>
<rect x="479.0" y="564.6" width="6.8" height="6.8" fill="#8b0000"/>
<rect x="490.6" y="572.3" width="6.8" height="6.8" fill="#8b0000"/>
<rect x="498.8" y="572.3" width="6.8" height="6.8" fill="#8b0000"/>
<rect x="509.3" y="571.6" width="6.8" height="6.8" fill="#8b0000"/>
<rect x="518.2" y="573.9" width="6.8" height="6.8" fill="#8b0000"/>
<rect x="529.2" y="571.6" width="6.8" height="6.8" fill="#8b0000"/>
<rect x="539.2" y="571.6" width="6.8" height="6.8" fill="#8b0000"/>
<rect x="549.5" y="572.3" width="6.8" height="6.8" fill="#8b0000"/>
<rect x="558.4" y="572.7" width="6.8" height="6.8" fill="#8b0000"/>
<rect x="568.9" y="572.7" width="6.8" height="6.8" fill="#8b0000"/>
<rect x="579.4" y="573.2" width="6.8" height="6.8" fill="#8b0000"/>
<rect x="589.4" y="570.9" width="6.8" height="6.8" fill="#8b0000"/>
<rect x="599.2" y="572.3" width="6.8" height="6.8" fill="#8b0000"/>
<rect x="609.3" y="572.7" width="6.8" height="6.8" fill="#8b0000"/>
<rect x="619.1" y="573.2" width="6.8" height="6.8" fill="#8b0000"/>
<rect x="89.6" y="454.8" width="543.10" height="124.60" fill="none" stroke="#000" stroke-width="2"/>
<text x="0.50" y="613.30" font-size="29" text-anchor="start" font-weight="bold" font-style="normal" fill="#000" >e</text>
<rect x="89.6" y="611.0" width="543.10" height="124.80" fill="none" stroke="#000" stroke-width="2"/>
<text x="639.50" y="615.80" font-size="16" text-anchor="start" font-weight="normal" font-style="normal" fill="#000" >35</text>
<line x1="624.30" y1="642.20" x2="632.70" y2="642.20" stroke="#000" stroke-width="1.8" />
<text x="639.50" y="647.00" font-size="16" text-anchor="start" font-weight="normal" font-style="normal" fill="#000" >25</text>
<line x1="624.30" y1="673.40" x2="632.70" y2="673.40" stroke="#000" stroke-width="1.8" />
<text x="639.50" y="678.20" font-size="16" text-anchor="start" font-weight="normal" font-style="normal" fill="#000" >15</text>
<line x1="624.30" y1="704.60" x2="632.70" y2="704.60" stroke="#000" stroke-width="1.8" />
<text x="639.50" y="709.40" font-size="16" text-anchor="start" font-weight="normal" font-style="normal" fill="#000" >5</text>
<text x="639.50" y="740.60" font-size="16" text-anchor="start" font-weight="normal" font-style="normal" fill="#000" >−5</text>
<text x="84.00" y="741.40" font-size="16" text-anchor="end" font-weight="normal" font-style="normal" fill="#000" >0.0</text>
<line x1="89.60" y1="694.20" x2="97.80" y2="694.20" stroke="#000" stroke-width="1.8" />
<text x="84.00" y="699.80" font-size="16" text-anchor="end" font-weight="normal" font-style="normal" fill="#000" >0.5</text>
<line x1="89.60" y1="652.60" x2="97.80" y2="652.60" stroke="#000" stroke-width="1.8" />
<text x="84.00" y="658.20" font-size="16" text-anchor="end" font-weight="normal" font-style="normal" fill="#000" >1.0</text>
<text x="84.00" y="616.60" font-size="16" text-anchor="end" font-weight="normal" font-style="normal" fill="#000" >1.5</text>
<line x1="89.60" y1="735.80" x2="89.60" y2="744.30" stroke="#000" stroke-width="1.8" />
<line x1="111.32" y1="735.80" x2="111.32" y2="744.30" stroke="#000" stroke-width="1.8" />
<line x1="133.05" y1="735.80" x2="133.05" y2="744.30" stroke="#000" stroke-width="1.8" />
<line x1="154.77" y1="735.80" x2="154.77" y2="744.30" stroke="#000" stroke-width="1.8" />
<line x1="176.50" y1="735.80" x2="176.50" y2="744.30" stroke="#000" stroke-width="1.8" />
<line x1="198.22" y1="735.80" x2="198.22" y2="744.30" stroke="#000" stroke-width="1.8" />
<line x1="219.94" y1="735.80" x2="219.94" y2="744.30" stroke="#000" stroke-width="1.8" />
<line x1="241.67" y1="735.80" x2="241.67" y2="744.30" stroke="#000" stroke-width="1.8" />
<line x1="263.39" y1="735.80" x2="263.39" y2="744.30" stroke="#000" stroke-width="1.8" />
<line x1="285.12" y1="735.80" x2="285.12" y2="744.30" stroke="#000" stroke-width="1.8" />
<line x1="306.84" y1="735.80" x2="306.84" y2="744.30" stroke="#000" stroke-width="1.8" />
<line x1="328.56" y1="735.80" x2="328.56" y2="744.30" stroke="#000" stroke-width="1.8" />
<line x1="350.29" y1="735.80" x2="350.29" y2="744.30" stroke="#000" stroke-width="1.8" />
<line x1="372.01" y1="735.80" x2="372.01" y2="744.30" stroke="#000" stroke-width="1.8" />
<line x1="393.74" y1="735.80" x2="393.74" y2="744.30" stroke="#000" stroke-width="1.8" />
<line x1="415.46" y1="735.80" x2="415.46" y2="744.30" stroke="#000" stroke-width="1.8" />
<line x1="437.18" y1="735.80" x2="437.18" y2="744.30" stroke="#000" stroke-width="1.8" />
<line x1="458.91" y1="735.80" x2="458.91" y2="744.30" stroke="#000" stroke-width="1.8" />
<line x1="480.63" y1="735.80" x2="480.63" y2="744.30" stroke="#000" stroke-width="1.8" />
<line x1="502.36" y1="735.80" x2="502.36" y2="744.30" stroke="#000" stroke-width="1.8" />
<line x1="524.08" y1="735.80" x2="524.08" y2="744.30" stroke="#000" stroke-width="1.8" />
<line x1="545.80" y1="735.80" x2="545.80" y2="744.30" stroke="#000" stroke-width="1.8" />
<line x1="567.53" y1="735.80" x2="567.53" y2="744.30" stroke="#000" stroke-width="1.8" />
<line x1="589.25" y1="735.80" x2="589.25" y2="744.30" stroke="#000" stroke-width="1.8" />
<line x1="610.98" y1="735.80" x2="610.98" y2="744.30" stroke="#000" stroke-width="1.8" />
<line x1="632.70" y1="735.80" x2="632.70" y2="744.30" stroke="#000" stroke-width="1.8" />
<text x="100.46" y="755.90" font-size="16" text-anchor="middle" font-weight="normal" font-style="normal" fill="#000" >9</text>
<text x="122.19" y="755.90" font-size="16" text-anchor="middle" font-weight="normal" font-style="normal" fill="#000" >10</text>
<text x="143.91" y="755.90" font-size="16" text-anchor="middle" font-weight="normal" font-style="normal" fill="#000" >11</text>
<text x="165.63" y="755.90" font-size="16" text-anchor="middle" font-weight="normal" font-style="normal" fill="#000" >12</text>
<text x="187.36" y="755.90" font-size="16" text-anchor="middle" font-weight="normal" font-style="normal" fill="#000" >1</text>
<text x="209.08" y="755.90" font-size="16" text-anchor="middle" font-weight="normal" font-style="normal" fill="#000" >2</text>
<text x="230.81" y="755.90" font-size="16" text-anchor="middle" font-weight="normal" font-style="normal" fill="#000" >3</text>
<text x="252.53" y="755.90" font-size="16" text-anchor="middle" font-weight="normal" font-style="normal" fill="#000" >4</text>
<text x="274.25" y="755.90" font-size="16" text-anchor="middle" font-weight="normal" font-style="normal" fill="#000" >5</text>
<text x="295.98" y="755.90" font-size="16" text-anchor="middle" font-weight="normal" font-style="normal" fill="#000" >6</text>
<text x="317.70" y="755.90" font-size="16" text-anchor="middle" font-weight="normal" font-style="normal" fill="#000" >7</text>
<text x="339.43" y="755.90" font-size="16" text-anchor="middle" font-weight="normal" font-style="normal" fill="#000" >8</text>
<text x="361.15" y="755.90" font-size="16" text-anchor="middle" font-weight="normal" font-style="normal" fill="#000" >9</text>
<text x="382.87" y="755.90" font-size="16" text-anchor="middle" font-weight="normal" font-style="normal" fill="#000" >10</text>
<text x="404.60" y="755.90" font-size="16" text-anchor="middle" font-weight="normal" font-style="normal" fill="#000" >11</text>
<text x="426.32" y="755.90" font-size="16" text-anchor="middle" font-weight="normal" font-style="normal" fill="#000" >12</text>
<text x="448.05" y="755.90" font-size="16" text-anchor="middle" font-weight="normal" font-style="normal" fill="#000" >1</text>
<text x="469.77" y="755.90" font-size="16" text-anchor="middle" font-weight="normal" font-style="normal" fill="#000" >2</text>
<text x="491.49" y="755.90" font-size="16" text-anchor="middle" font-weight="normal" font-style="normal" fill="#000" >3</text>
<text x="513.22" y="755.90" font-size="16" text-anchor="middle" font-weight="normal" font-style="normal" fill="#000" >4</text>
<text x="534.94" y="755.90" font-size="16" text-anchor="middle" font-weight="normal" font-style="normal" fill="#000" >5</text>
<text x="556.67" y="755.90" font-size="16" text-anchor="middle" font-weight="normal" font-style="normal" fill="#000" >6</text>
<text x="578.39" y="755.90" font-size="16" text-anchor="middle" font-weight="normal" font-style="normal" fill="#000" >7</text>
<text x="600.11" y="755.90" font-size="16" text-anchor="middle" font-weight="normal" font-style="normal" fill="#000" >8</text>
<text x="621.84" y="755.90" font-size="16" text-anchor="middle" font-weight="normal" font-style="normal" fill="#000" >9</text>
<text transform="translate(676.30,673.40) rotate(-90)" x="0" y="5.60" font-size="16" text-anchor="middle" font-style="normal">Temperature (°C)</text>
<text transform="translate(20.40,673.40) rotate(-90)" x="0" y="5.60" font-size="16" text-anchor="middle" font-style="normal">H3K27me3</text>
<text transform="translate(37.60,673.40) rotate(-90)" x="0" y="5.60" font-size="16" text-anchor="middle" font-style="normal">(amplicons I–V)</text>
<polyline points="107.0,731.3 127.4,731.7 137.0,730.7 147.9,728.0 157.5,717.0 167.3,701.5 182.0,682.3 192.2,681.6 202.4,670.0 212.3,666.3 222.2,662.0 232.3,658.5 242.5,665.3 252.1,684.7 262.3,712.3 272.1,718.4 282.3,728.6 292.6,730.1 307.5,731.0 317.3,731.9 327.3,732.7 337.5,732.7 347.7,732.7 357.3,732.7 367.4,732.7 377.6,732.7 387.4,732.7 397.6,732.7 407.6,731.3 417.4,725.6 427.7,709.2 442.6,688.8 452.6,690.8 462.4,678.6 472.6,688.8 482.4,685.7 494.0,663.2 502.2,666.3 512.7,687.8 521.6,716.4 532.6,725.6 542.6,729.0 552.9,731.0 561.8,731.2 572.3,731.4 582.8,731.6 592.8,731.9 602.6,732.1 612.7,732.3 622.5,732.5" fill="none" stroke="#00adef" stroke-width="2.4" stroke-linejoin="round"/>
<path d="M167.3,691.2V707.2M164.9,691.2H169.7M164.9,707.2H169.7" stroke="#00adef" stroke-width="1.2" fill="none"/>
<path d="M182.0,674.5V693.9M179.6,674.5H184.4M179.6,693.9H184.4" stroke="#00adef" stroke-width="1.2" fill="none"/>
<path d="M192.2,675.5V688.8M189.8,675.5H194.6M189.8,688.8H194.6" stroke="#00adef" stroke-width="1.2" fill="none"/>
<path d="M202.4,664.3V677.6M200.0,664.3H204.8M200.0,677.6H204.8" stroke="#00adef" stroke-width="1.2" fill="none"/>
<path d="M212.3,660.2V672.4M209.9,660.2H214.7M209.9,672.4H214.7" stroke="#00adef" stroke-width="1.2" fill="none"/>
<path d="M222.2,660.2V670.4M219.8,660.2H224.6M219.8,670.4H224.6" stroke="#00adef" stroke-width="1.2" fill="none"/>
<path d="M232.3,652.0V665.0M229.9,652.0H234.7M229.9,665.0H234.7" stroke="#00adef" stroke-width="1.2" fill="none"/>
<path d="M442.6,681.6V695.9M440.2,681.6H445.0M440.2,695.9H445.0" stroke="#00adef" stroke-width="1.2" fill="none"/>
<path d="M452.6,675.5V700.0M450.2,675.5H455.0M450.2,700.0H455.0" stroke="#00adef" stroke-width="1.2" fill="none"/>
<path d="M462.4,672.0V686.0M460.0,672.0H464.8M460.0,686.0H464.8" stroke="#00adef" stroke-width="1.2" fill="none"/>
<path d="M494.0,656.0V670.4M491.6,656.0H496.4M491.6,670.4H496.4" stroke="#00adef" stroke-width="1.2" fill="none"/>
<path d="M512.7,680.0V694.0M510.3,680.0H515.1M510.3,694.0H515.1" stroke="#00adef" stroke-width="1.2" fill="none"/>
<circle cx="107.0" cy="731.3" r="3.6" fill="#00adef"/>
<circle cx="127.4" cy="731.7" r="3.6" fill="#00adef"/>
<circle cx="137.0" cy="730.7" r="3.6" fill="#00adef"/>
<circle cx="147.9" cy="728.0" r="3.6" fill="#00adef"/>
<circle cx="157.5" cy="717.0" r="3.6" fill="#00adef"/>
<circle cx="167.3" cy="701.5" r="3.6" fill="#00adef"/>
<circle cx="182.0" cy="682.3" r="3.6" fill="#00adef"/>
<circle cx="192.2" cy="681.6" r="3.6" fill="#00adef"/>
<circle cx="202.4" cy="670.0" r="3.6" fill="#00adef"/>
<circle cx="212.3" cy="666.3" r="3.6" fill="#00adef"/>
<circle cx="222.2" cy="662.0" r="3.6" fill="#00adef"/>
<circle cx="232.3" cy="658.5" r="3.6" fill="#00adef"/>
<circle cx="242.5" cy="665.3" r="3.6" fill="#00adef"/>
<circle cx="252.1" cy="684.7" r="3.6" fill="#00adef"/>
<circle cx="262.3" cy="712.3" r="3.6" fill="#00adef"/>
<circle cx="272.1" cy="718.4" r="3.6" fill="#00adef"/>
<circle cx="282.3" cy="728.6" r="3.6" fill="#00adef"/>
<circle cx="292.6" cy="730.1" r="3.6" fill="#00adef"/>
<circle cx="307.5" cy="731.0" r="3.6" fill="#00adef"/>
<circle cx="317.3" cy="731.9" r="3.6" fill="#00adef"/>
<circle cx="327.3" cy="732.7" r="3.6" fill="#00adef"/>
<circle cx="337.5" cy="732.7" r="3.6" fill="#00adef"/>
<circle cx="347.7" cy="732.7" r="3.6" fill="#00adef"/>
<circle cx="357.3" cy="732.7" r="3.6" fill="#00adef"/>
<circle cx="367.4" cy="732.7" r="3.6" fill="#00adef"/>
<circle cx="377.6" cy="732.7" r="3.6" fill="#00adef"/>
<circle cx="387.4" cy="732.7" r="3.6" fill="#00adef"/>
<circle cx="397.6" cy="732.7" r="3.6" fill="#00adef"/>
<circle cx="407.6" cy="731.3" r="3.6" fill="#00adef"/>
<circle cx="417.4" cy="725.6" r="3.6" fill="#00adef"/>
<circle cx="427.7" cy="709.2" r="3.6" fill="#00adef"/>
<circle cx="442.6" cy="688.8" r="3.6" fill="#00adef"/>
<circle cx="452.6" cy="690.8" r="3.6" fill="#00adef"/>
<circle cx="462.4" cy="678.6" r="3.6" fill="#00adef"/>
<circle cx="472.6" cy="688.8" r="3.6" fill="#00adef"/>
<circle cx="482.4" cy="685.7" r="3.6" fill="#00adef"/>
<circle cx="494.0" cy="663.2" r="3.6" fill="#00adef"/>
<circle cx="502.2" cy="666.3" r="3.6" fill="#00adef"/>
<circle cx="512.7" cy="687.8" r="3.6" fill="#00adef"/>
<circle cx="521.6" cy="716.4" r="3.6" fill="#00adef"/>
<circle cx="532.6" cy="725.6" r="3.6" fill="#00adef"/>
<circle cx="542.6" cy="729.0" r="3.6" fill="#00adef"/>
<circle cx="552.9" cy="731.0" r="3.6" fill="#00adef"/>
<circle cx="561.8" cy="731.2" r="3.6" fill="#00adef"/>
<circle cx="572.3" cy="731.4" r="3.6" fill="#00adef"/>
<circle cx="582.8" cy="731.6" r="3.6" fill="#00adef"/>
<circle cx="592.8" cy="731.9" r="3.6" fill="#00adef"/>
<circle cx="602.6" cy="732.1" r="3.6" fill="#00adef"/>
<circle cx="612.7" cy="732.3" r="3.6" fill="#00adef"/>
<circle cx="622.5" cy="732.5" r="3.6" fill="#00adef"/>
<polyline points="107.0,726.0 127.4,728.6 137.0,732.1 147.9,727.2 157.5,718.0 167.3,700.6 182.0,681.0 192.2,666.7 202.4,659.8 212.3,662.2 222.2,657.4 232.3,648.3 242.5,648.9 252.1,666.3 262.3,692.9 272.1,710.3 282.3,725.6 292.6,724.6 307.5,729.7 317.3,732.0 327.3,732.7 337.5,732.7 347.7,732.7 357.3,732.7 367.4,732.7 377.6,732.7 387.4,732.7 397.6,732.7 407.6,730.7 417.4,726.0 427.7,707.2 442.6,685.7 452.6,694.9 462.4,677.6 472.6,683.7 482.4,686.5 494.0,667.3 502.2,667.3 512.7,669.4 521.6,709.2 532.6,722.5 542.6,727.6 552.9,729.5 561.8,731.5 572.3,731.7 582.8,731.8 592.8,732.0 602.6,732.2 612.7,732.3 622.5,732.5" fill="none" stroke="#1c3c8e" stroke-width="2.4" stroke-linejoin="round"/>
<path d="M107.0,723.5V728.6M104.6,723.5H109.4M104.6,728.6H109.4" stroke="#1c3c8e" stroke-width="1.2" fill="none"/>
<path d="M157.5,713.3V722.5M155.1,713.3H159.9M155.1,722.5H159.9" stroke="#1c3c8e" stroke-width="1.2" fill="none"/>
<path d="M167.3,698.0V703.1M164.9,698.0H169.7M164.9,703.1H169.7" stroke="#1c3c8e" stroke-width="1.2" fill="none"/>
<path d="M182.0,672.4V689.2M179.6,672.4H184.4M179.6,689.2H184.4" stroke="#1c3c8e" stroke-width="1.2" fill="none"/>
<path d="M192.2,660.2V673.5M189.8,660.2H194.6M189.8,673.5H194.6" stroke="#1c3c8e" stroke-width="1.2" fill="none"/>
<path d="M202.4,650.0V669.4M200.0,650.0H204.8M200.0,669.4H204.8" stroke="#1c3c8e" stroke-width="1.2" fill="none"/>
<path d="M212.3,651.6V672.4M209.9,651.6H214.7M209.9,672.4H214.7" stroke="#1c3c8e" stroke-width="1.2" fill="none"/>
<path d="M222.2,646.9V666.3M219.8,646.9H224.6M219.8,666.3H224.6" stroke="#1c3c8e" stroke-width="1.2" fill="none"/>
<path d="M232.3,630.0V666.3M229.9,630.0H234.7M229.9,666.3H234.7" stroke="#1c3c8e" stroke-width="1.2" fill="none"/>
<path d="M242.5,633.6V664.3M240.1,633.6H244.9M240.1,664.3H244.9" stroke="#1c3c8e" stroke-width="1.2" fill="none"/>
<path d="M427.7,695.0V719.5M425.3,695.0H430.1M425.3,719.5H430.1" stroke="#1c3c8e" stroke-width="1.2" fill="none"/>
<path d="M442.6,681.6V690.8M440.2,681.6H445.0M440.2,690.8H445.0" stroke="#1c3c8e" stroke-width="1.2" fill="none"/>
<path d="M452.6,681.6V709.2M450.2,681.6H455.0M450.2,709.2H455.0" stroke="#1c3c8e" stroke-width="1.2" fill="none"/>
<path d="M462.4,668.4V686.7M460.0,668.4H464.8M460.0,686.7H464.8" stroke="#1c3c8e" stroke-width="1.2" fill="none"/>
<path d="M472.6,675.5V692.0M470.2,675.5H475.0M470.2,692.0H475.0" stroke="#1c3c8e" stroke-width="1.2" fill="none"/>
<path d="M482.4,671.4V701.1M480.0,671.4H484.8M480.0,701.1H484.8" stroke="#1c3c8e" stroke-width="1.2" fill="none"/>
<polygon points="107.0,721.9 111.1,726.0 107.0,730.1 102.9,726.0" fill="#1c3c8e"/>
<polygon points="127.4,724.5 131.5,728.6 127.4,732.7 123.3,728.6" fill="#1c3c8e"/>
<polygon points="137.0,728.0 141.1,732.1 137.0,736.2 132.9,732.1" fill="#1c3c8e"/>
<polygon points="147.9,723.1 152.0,727.2 147.9,731.3 143.8,727.2" fill="#1c3c8e"/>
<polygon points="157.5,713.9 161.6,718.0 157.5,722.1 153.4,718.0" fill="#1c3c8e"/>
<polygon points="167.3,696.5 171.4,700.6 167.3,704.7 163.2,700.6" fill="#1c3c8e"/>
<polygon points="182.0,676.9 186.1,681.0 182.0,685.1 177.9,681.0" fill="#1c3c8e"/>
<polygon points="192.2,662.6 196.3,666.7 192.2,670.8 188.1,666.7" fill="#1c3c8e"/>
<polygon points="202.4,655.7 206.5,659.8 202.4,663.9 198.3,659.8" fill="#1c3c8e"/>
<polygon points="212.3,658.1 216.4,662.2 212.3,666.3 208.2,662.2" fill="#1c3c8e"/>
<polygon points="222.2,653.3 226.3,657.4 222.2,661.5 218.1,657.4" fill="#1c3c8e"/>
<polygon points="232.3,644.2 236.4,648.3 232.3,652.4 228.2,648.3" fill="#1c3c8e"/>
<polygon points="242.5,644.8 246.6,648.9 242.5,653.0 238.4,648.9" fill="#1c3c8e"/>
<polygon points="252.1,662.2 256.2,666.3 252.1,670.4 248.0,666.3" fill="#1c3c8e"/>
<polygon points="262.3,688.8 266.4,692.9 262.3,697.0 258.2,692.9" fill="#1c3c8e"/>
<polygon points="272.1,706.2 276.2,710.3 272.1,714.4 268.0,710.3" fill="#1c3c8e"/>
<polygon points="282.3,721.5 286.4,725.6 282.3,729.7 278.2,725.6" fill="#1c3c8e"/>
<polygon points="292.6,720.5 296.7,724.6 292.6,728.7 288.5,724.6" fill="#1c3c8e"/>
<polygon points="307.5,725.6 311.6,729.7 307.5,733.8 303.4,729.7" fill="#1c3c8e"/>
<polygon points="317.3,727.9 321.4,732.0 317.3,736.1 313.2,732.0" fill="#1c3c8e"/>
<polygon points="327.3,728.6 331.4,732.7 327.3,736.8 323.2,732.7" fill="#1c3c8e"/>
<polygon points="337.5,728.6 341.6,732.7 337.5,736.8 333.4,732.7" fill="#1c3c8e"/>
<polygon points="347.7,728.6 351.8,732.7 347.7,736.8 343.6,732.7" fill="#1c3c8e"/>
<polygon points="357.3,728.6 361.4,732.7 357.3,736.8 353.2,732.7" fill="#1c3c8e"/>
<polygon points="367.4,728.6 371.5,732.7 367.4,736.8 363.3,732.7" fill="#1c3c8e"/>
<polygon points="377.6,728.6 381.7,732.7 377.6,736.8 373.5,732.7" fill="#1c3c8e"/>
<polygon points="387.4,728.6 391.5,732.7 387.4,736.8 383.3,732.7" fill="#1c3c8e"/>
<polygon points="397.6,728.6 401.7,732.7 397.6,736.8 393.5,732.7" fill="#1c3c8e"/>
<polygon points="407.6,726.6 411.7,730.7 407.6,734.8 403.5,730.7" fill="#1c3c8e"/>
<polygon points="417.4,721.9 421.5,726.0 417.4,730.1 413.3,726.0" fill="#1c3c8e"/>
<polygon points="427.7,703.1 431.8,707.2 427.7,711.3 423.6,707.2" fill="#1c3c8e"/>
<polygon points="442.6,681.6 446.7,685.7 442.6,689.8 438.5,685.7" fill="#1c3c8e"/>
<polygon points="452.6,690.8 456.7,694.9 452.6,699.0 448.5,694.9" fill="#1c3c8e"/>
<polygon points="462.4,673.5 466.5,677.6 462.4,681.7 458.3,677.6" fill="#1c3c8e"/>
<polygon points="472.6,679.6 476.7,683.7 472.6,687.8 468.5,683.7" fill="#1c3c8e"/>
<polygon points="482.4,682.4 486.5,686.5 482.4,690.6 478.3,686.5" fill="#1c3c8e"/>
<polygon points="494.0,663.2 498.1,667.3 494.0,671.4 489.9,667.3" fill="#1c3c8e"/>
<polygon points="502.2,663.2 506.3,667.3 502.2,671.4 498.1,667.3" fill="#1c3c8e"/>
<polygon points="512.7,665.3 516.8,669.4 512.7,673.5 508.6,669.4" fill="#1c3c8e"/>
<polygon points="521.6,705.1 525.7,709.2 521.6,713.3 517.5,709.2" fill="#1c3c8e"/>
<polygon points="532.6,718.4 536.7,722.5 532.6,726.6 528.5,722.5" fill="#1c3c8e"/>
<polygon points="542.6,723.5 546.7,727.6 542.6,731.7 538.5,727.6" fill="#1c3c8e"/>
<polygon points="552.9,725.4 557.0,729.5 552.9,733.6 548.8,729.5" fill="#1c3c8e"/>
<polygon points="561.8,727.4 565.9,731.5 561.8,735.6 557.7,731.5" fill="#1c3c8e"/>
<polygon points="572.3,727.5 576.4,731.7 572.3,735.8 568.2,731.7" fill="#1c3c8e"/>
<polygon points="582.8,727.7 586.9,731.8 582.8,736.0 578.7,731.8" fill="#1c3c8e"/>
<polygon points="592.8,727.9 596.9,732.0 592.8,736.1 588.7,732.0" fill="#1c3c8e"/>
<polygon points="602.6,728.0 606.7,732.2 602.6,736.3 598.5,732.2" fill="#1c3c8e"/>
<polygon points="612.7,728.2 616.8,732.3 612.7,736.5 608.6,732.3" fill="#1c3c8e"/>
<polygon points="622.5,728.4 626.6,732.5 622.5,736.6 618.4,732.5" fill="#1c3c8e"/>
<polyline points="107.0,732.7 127.4,733.3 137.0,733.3 147.9,731.3 157.5,730.1 167.3,725.2 182.0,721.5 192.2,712.3 202.4,699.4 212.3,693.9 222.2,675.5 232.3,670.4 242.5,665.3 252.1,666.3 262.3,697.0 272.1,706.2 282.3,725.6 292.6,724.6 307.5,729.7 317.3,731.5 327.3,732.7 337.5,732.7 347.7,732.8 357.3,732.8 367.4,732.9 377.6,732.9 387.4,732.9 397.6,733.0 407.6,733.0 417.4,732.7 427.7,728.6 442.6,722.5 452.6,721.9 462.4,714.3 472.6,708.9 482.4,699.4 494.0,674.9 502.2,658.5 512.7,665.3 521.6,692.5 532.6,709.6 542.6,723.5 552.9,727.6 561.8,730.5 572.3,730.8 582.8,731.2 592.8,731.5 602.6,731.8 612.7,732.2 622.5,732.5" fill="none" stroke="#ef1c4a" stroke-width="2.4" stroke-linejoin="round"/>
<path d="M192.2,709.2V715.4M189.8,709.2H194.6M189.8,715.4H194.6" stroke="#ef1c4a" stroke-width="1.2" fill="none"/>
<path d="M202.4,690.8V707.2M200.0,690.8H204.8M200.0,707.2H204.8" stroke="#ef1c4a" stroke-width="1.2" fill="none"/>
<path d="M212.3,686.7V701.1M209.9,686.7H214.7M209.9,701.1H214.7" stroke="#ef1c4a" stroke-width="1.2" fill="none"/>
<path d="M222.2,671.4V679.6M219.8,671.4H224.6M219.8,679.6H224.6" stroke="#ef1c4a" stroke-width="1.2" fill="none"/>
<path d="M242.5,655.1V674.5M240.1,655.1H244.9M240.1,674.5H244.9" stroke="#ef1c4a" stroke-width="1.2" fill="none"/>
<path d="M252.1,657.1V674.5M249.7,657.1H254.5M249.7,674.5H254.5" stroke="#ef1c4a" stroke-width="1.2" fill="none"/>
<path d="M462.4,708.2V719.5M460.0,708.2H464.8M460.0,719.5H464.8" stroke="#ef1c4a" stroke-width="1.2" fill="none"/>
<path d="M502.2,650.0V667.0M499.8,650.0H504.6M499.8,667.0H504.6" stroke="#ef1c4a" stroke-width="1.2" fill="none"/>
<rect x="103.6" y="729.3" width="6.8" height="6.8" fill="#ef1c4a"/>
<rect x="124.0" y="729.9" width="6.8" height="6.8" fill="#ef1c4a"/>
<rect x="133.6" y="729.9" width="6.8" height="6.8" fill="#ef1c4a"/>
<rect x="144.5" y="727.9" width="6.8" height="6.8" fill="#ef1c4a"/>
<rect x="154.1" y="726.7" width="6.8" height="6.8" fill="#ef1c4a"/>
<rect x="163.9" y="721.8" width="6.8" height="6.8" fill="#ef1c4a"/>
<rect x="178.6" y="718.1" width="6.8" height="6.8" fill="#ef1c4a"/>
<rect x="188.8" y="708.9" width="6.8" height="6.8" fill="#ef1c4a"/>
<rect x="199.0" y="696.0" width="6.8" height="6.8" fill="#ef1c4a"/>
<rect x="208.9" y="690.5" width="6.8" height="6.8" fill="#ef1c4a"/>
<rect x="218.8" y="672.1" width="6.8" height="6.8" fill="#ef1c4a"/>
<rect x="228.9" y="667.0" width="6.8" height="6.8" fill="#ef1c4a"/>
<rect x="239.1" y="661.9" width="6.8" height="6.8" fill="#ef1c4a"/>
<rect x="248.7" y="662.9" width="6.8" height="6.8" fill="#ef1c4a"/>
<rect x="258.9" y="693.6" width="6.8" height="6.8" fill="#ef1c4a"/>
<rect x="268.7" y="702.8" width="6.8" height="6.8" fill="#ef1c4a"/>
<rect x="278.9" y="722.2" width="6.8" height="6.8" fill="#ef1c4a"/>
<rect x="289.2" y="721.2" width="6.8" height="6.8" fill="#ef1c4a"/>
<rect x="304.1" y="726.3" width="6.8" height="6.8" fill="#ef1c4a"/>
<rect x="313.9" y="728.1" width="6.8" height="6.8" fill="#ef1c4a"/>
<rect x="323.9" y="729.3" width="6.8" height="6.8" fill="#ef1c4a"/>
<rect x="334.1" y="729.3" width="6.8" height="6.8" fill="#ef1c4a"/>
<rect x="344.3" y="729.4" width="6.8" height="6.8" fill="#ef1c4a"/>
<rect x="353.9" y="729.4" width="6.8" height="6.8" fill="#ef1c4a"/>
<rect x="364.0" y="729.4" width="6.8" height="6.8" fill="#ef1c4a"/>
<rect x="374.2" y="729.5" width="6.8" height="6.8" fill="#ef1c4a"/>
<rect x="384.0" y="729.5" width="6.8" height="6.8" fill="#ef1c4a"/>
<rect x="394.2" y="729.5" width="6.8" height="6.8" fill="#ef1c4a"/>
<rect x="404.2" y="729.6" width="6.8" height="6.8" fill="#ef1c4a"/>
<rect x="414.0" y="729.3" width="6.8" height="6.8" fill="#ef1c4a"/>
<rect x="424.3" y="725.2" width="6.8" height="6.8" fill="#ef1c4a"/>
<rect x="439.2" y="719.1" width="6.8" height="6.8" fill="#ef1c4a"/>
<rect x="449.2" y="718.5" width="6.8" height="6.8" fill="#ef1c4a"/>
<rect x="459.0" y="710.9" width="6.8" height="6.8" fill="#ef1c4a"/>
<rect x="469.2" y="705.5" width="6.8" height="6.8" fill="#ef1c4a"/>
<rect x="479.0" y="696.0" width="6.8" height="6.8" fill="#ef1c4a"/>
<rect x="490.6" y="671.5" width="6.8" height="6.8" fill="#ef1c4a"/>
<rect x="498.8" y="655.1" width="6.8" height="6.8" fill="#ef1c4a"/>
<rect x="509.3" y="661.9" width="6.8" height="6.8" fill="#ef1c4a"/>
<rect x="518.2" y="689.1" width="6.8" height="6.8" fill="#ef1c4a"/>
<rect x="529.2" y="706.2" width="6.8" height="6.8" fill="#ef1c4a"/>
<rect x="539.2" y="720.1" width="6.8" height="6.8" fill="#ef1c4a"/>
<rect x="549.5" y="724.2" width="6.8" height="6.8" fill="#ef1c4a"/>
<rect x="558.4" y="727.1" width="6.8" height="6.8" fill="#ef1c4a"/>
<rect x="568.9" y="727.4" width="6.8" height="6.8" fill="#ef1c4a"/>
<rect x="579.4" y="727.7" width="6.8" height="6.8" fill="#ef1c4a"/>
<rect x="589.4" y="728.1" width="6.8" height="6.8" fill="#ef1c4a"/>
<rect x="599.2" y="728.4" width="6.8" height="6.8" fill="#ef1c4a"/>
<rect x="609.3" y="728.7" width="6.8" height="6.8" fill="#ef1c4a"/>
<rect x="619.1" y="729.1" width="6.8" height="6.8" fill="#ef1c4a"/>
<polyline points="107.0,733.8 127.4,733.8 137.0,733.8 147.9,733.8 157.5,731.7 167.3,729.7 182.0,727.2 192.2,723.1 202.4,718.4 212.3,706.2 222.2,692.9 232.3,676.5 242.5,679.6 252.1,683.7 262.3,703.1 272.1,715.4 282.3,725.6 292.6,719.5 307.5,729.7 317.3,731.5 327.3,733.0 337.5,733.0 347.7,733.1 357.3,733.1 367.4,733.1 377.6,733.2 387.4,733.2 397.6,733.2 407.6,733.3 417.4,733.3 427.7,731.7 442.6,728.6 452.6,725.6 462.4,723.1 472.6,717.0 482.4,705.1 494.0,690.8 502.2,671.4 512.7,675.5 521.6,702.0 532.6,721.5 542.6,727.0 552.9,729.5 561.8,731.0 572.3,731.2 582.8,731.5 592.8,731.8 602.6,732.0 612.7,732.2 622.5,732.5" fill="none" stroke="#ffa700" stroke-width="2.4" stroke-linejoin="round"/>
<path d="M232.3,672.4V684.7M229.9,672.4H234.7M229.9,684.7H234.7" stroke="#ffa700" stroke-width="1.2" fill="none"/>
<path d="M242.5,674.5V690.8M240.1,674.5H244.9M240.1,690.8H244.9" stroke="#ffa700" stroke-width="1.2" fill="none"/>
<path d="M252.1,675.5V696.0M249.7,675.5H254.5M249.7,696.0H254.5" stroke="#ffa700" stroke-width="1.2" fill="none"/>
<path d="M292.6,715.4V725.6M290.2,715.4H295.0M290.2,725.6H295.0" stroke="#ffa700" stroke-width="1.2" fill="none"/>
<path d="M502.2,665.0V680.0M499.8,665.0H504.6M499.8,680.0H504.6" stroke="#ffa700" stroke-width="1.2" fill="none"/>
<polygon points="107.0,730.1 110.7,736.8 103.3,736.8" fill="#ffa700"/>
<polygon points="127.4,730.1 131.1,736.8 123.7,736.8" fill="#ffa700"/>
<polygon points="137.0,730.1 140.7,736.8 133.3,736.8" fill="#ffa700"/>
<polygon points="147.9,730.1 151.6,736.8 144.2,736.8" fill="#ffa700"/>
<polygon points="157.5,728.0 161.2,734.7 153.8,734.7" fill="#ffa700"/>
<polygon points="167.3,726.0 171.0,732.7 163.6,732.7" fill="#ffa700"/>
<polygon points="182.0,723.5 185.7,730.2 178.3,730.2" fill="#ffa700"/>
<polygon points="192.2,719.4 195.9,726.1 188.5,726.1" fill="#ffa700"/>
<polygon points="202.4,714.7 206.1,721.4 198.7,721.4" fill="#ffa700"/>
<polygon points="212.3,702.5 216.0,709.2 208.6,709.2" fill="#ffa700"/>
<polygon points="222.2,689.2 225.9,695.9 218.5,695.9" fill="#ffa700"/>
<polygon points="232.3,672.8 236.0,679.5 228.6,679.5" fill="#ffa700"/>
<polygon points="242.5,675.9 246.2,682.6 238.8,682.6" fill="#ffa700"/>
<polygon points="252.1,680.0 255.8,686.7 248.4,686.7" fill="#ffa700"/>
<polygon points="262.3,699.4 266.0,706.1 258.6,706.1" fill="#ffa700"/>
<polygon points="272.1,711.7 275.8,718.4 268.4,718.4" fill="#ffa700"/>
<polygon points="282.3,721.9 286.0,728.6 278.6,728.6" fill="#ffa700"/>
<polygon points="292.6,715.8 296.3,722.5 288.9,722.5" fill="#ffa700"/>
<polygon points="307.5,726.0 311.2,732.7 303.8,732.7" fill="#ffa700"/>
<polygon points="317.3,727.8 321.0,734.5 313.6,734.5" fill="#ffa700"/>
<polygon points="327.3,729.3 331.0,736.0 323.6,736.0" fill="#ffa700"/>
<polygon points="337.5,729.3 341.2,736.0 333.8,736.0" fill="#ffa700"/>
<polygon points="347.7,729.3 351.4,736.1 344.0,736.1" fill="#ffa700"/>
<polygon points="357.3,729.4 361.0,736.1 353.6,736.1" fill="#ffa700"/>
<polygon points="367.4,729.4 371.1,736.1 363.7,736.1" fill="#ffa700"/>
<polygon points="377.6,729.4 381.3,736.2 373.9,736.2" fill="#ffa700"/>
<polygon points="387.4,729.5 391.1,736.2 383.7,736.2" fill="#ffa700"/>
<polygon points="397.6,729.5 401.3,736.2 393.9,736.2" fill="#ffa700"/>
<polygon points="407.6,729.5 411.3,736.3 403.9,736.3" fill="#ffa700"/>
<polygon points="417.4,729.6 421.1,736.3 413.7,736.3" fill="#ffa700"/>
<polygon points="427.7,728.0 431.4,734.7 424.0,734.7" fill="#ffa700"/>
<polygon points="442.6,724.9 446.3,731.6 438.9,731.6" fill="#ffa700"/>
<polygon points="452.6,721.9 456.3,728.6 448.9,728.6" fill="#ffa700"/>
<polygon points="462.4,719.4 466.1,726.1 458.7,726.1" fill="#ffa700"/>
<polygon points="472.6,713.3 476.3,720.0 468.9,720.0" fill="#ffa700"/>
<polygon points="482.4,701.4 486.1,708.1 478.7,708.1" fill="#ffa700"/>
<polygon points="494.0,687.1 497.7,693.8 490.3,693.8" fill="#ffa700"/>
<polygon points="502.2,667.7 505.9,674.4 498.5,674.4" fill="#ffa700"/>
<polygon points="512.7,671.8 516.4,678.5 509.0,678.5" fill="#ffa700"/>
<polygon points="521.6,698.3 525.3,705.0 517.9,705.0" fill="#ffa700"/>
<polygon points="532.6,717.8 536.3,724.5 528.9,724.5" fill="#ffa700"/>
<polygon points="542.6,723.3 546.3,730.0 538.9,730.0" fill="#ffa700"/>
<polygon points="552.9,725.8 556.6,732.5 549.2,732.5" fill="#ffa700"/>
<polygon points="561.8,727.3 565.5,734.0 558.1,734.0" fill="#ffa700"/>
<polygon points="572.3,727.5 576.0,734.2 568.6,734.2" fill="#ffa700"/>
<polygon points="582.8,727.8 586.5,734.5 579.1,734.5" fill="#ffa700"/>
<polygon points="592.8,728.0 596.5,734.7 589.1,734.7" fill="#ffa700"/>
<polygon points="602.6,728.3 606.3,735.0 598.9,735.0" fill="#ffa700"/>
<polygon points="612.7,728.5 616.4,735.2 609.0,735.2" fill="#ffa700"/>
<polygon points="622.5,728.8 626.2,735.5 618.8,735.5" fill="#ffa700"/>
<polyline points="107.0,732.7 127.4,733.8 137.0,734.2 147.9,733.3 157.5,733.8 167.3,732.7 182.0,730.1 192.2,727.2 202.4,727.2 212.3,713.3 222.2,700.0 232.3,670.4 242.5,671.4 252.1,672.4 262.3,694.9 272.1,712.3 282.3,725.6 292.6,724.6 307.5,729.7 317.3,731.5 327.3,733.0 337.5,733.0 347.7,733.1 357.3,733.1 367.4,733.1 377.6,733.2 387.4,733.2 397.6,733.2 407.6,733.3 417.4,733.3 427.7,732.7 442.6,731.3 452.6,730.7 462.4,725.6 472.6,725.6 482.4,712.9 494.0,689.8 502.2,658.5 512.7,666.3 521.6,700.0 532.6,717.4 542.6,726.0 552.9,729.0 561.8,731.0 572.3,731.3 582.8,731.7 592.8,732.0 602.6,732.3 612.7,732.7 622.5,733.0" fill="none" stroke="#9a55a8" stroke-width="2.4" stroke-linejoin="round"/>
<path d="M502.2,645.9V672.4M499.8,645.9H504.6M499.8,672.4H504.6" stroke="#9a55a8" stroke-width="1.2" fill="none"/>
<path d="M103.8,729.5L110.2,735.9M110.2,729.5L103.8,735.9" stroke="#9a55a8" stroke-width="2"/>
<path d="M124.2,730.6L130.6,737.0M130.6,730.6L124.2,737.0" stroke="#9a55a8" stroke-width="2"/>
<path d="M133.8,731.0L140.2,737.4M140.2,731.0L133.8,737.4" stroke="#9a55a8" stroke-width="2"/>
<path d="M144.7,730.1L151.1,736.5M151.1,730.1L144.7,736.5" stroke="#9a55a8" stroke-width="2"/>
<path d="M154.3,730.6L160.7,737.0M160.7,730.6L154.3,737.0" stroke="#9a55a8" stroke-width="2"/>
<path d="M164.1,729.5L170.5,735.9M170.5,729.5L164.1,735.9" stroke="#9a55a8" stroke-width="2"/>
<path d="M178.8,726.9L185.2,733.3M185.2,726.9L178.8,733.3" stroke="#9a55a8" stroke-width="2"/>
<path d="M189.0,724.0L195.4,730.4M195.4,724.0L189.0,730.4" stroke="#9a55a8" stroke-width="2"/>
<path d="M199.2,724.0L205.6,730.4M205.6,724.0L199.2,730.4" stroke="#9a55a8" stroke-width="2"/>
<path d="M209.1,710.1L215.5,716.5M215.5,710.1L209.1,716.5" stroke="#9a55a8" stroke-width="2"/>
<path d="M219.0,696.8L225.4,703.2M225.4,696.8L219.0,703.2" stroke="#9a55a8" stroke-width="2"/>
<path d="M229.1,667.2L235.5,673.6M235.5,667.2L229.1,673.6" stroke="#9a55a8" stroke-width="2"/>
<path d="M239.3,668.2L245.7,674.6M245.7,668.2L239.3,674.6" stroke="#9a55a8" stroke-width="2"/>
<path d="M248.9,669.2L255.3,675.6M255.3,669.2L248.9,675.6" stroke="#9a55a8" stroke-width="2"/>
<path d="M259.1,691.7L265.5,698.1M265.5,691.7L259.1,698.1" stroke="#9a55a8" stroke-width="2"/>
<path d="M268.9,709.1L275.3,715.5M275.3,709.1L268.9,715.5" stroke="#9a55a8" stroke-width="2"/>
<path d="M279.1,722.4L285.5,728.8M285.5,722.4L279.1,728.8" stroke="#9a55a8" stroke-width="2"/>
<path d="M289.4,721.4L295.8,727.8M295.8,721.4L289.4,727.8" stroke="#9a55a8" stroke-width="2"/>
<path d="M304.3,726.5L310.7,732.9M310.7,726.5L304.3,732.9" stroke="#9a55a8" stroke-width="2"/>
<path d="M314.1,728.3L320.5,734.7M320.5,728.3L314.1,734.7" stroke="#9a55a8" stroke-width="2"/>
<path d="M324.1,729.8L330.5,736.2M330.5,729.8L324.1,736.2" stroke="#9a55a8" stroke-width="2"/>
<path d="M334.3,729.8L340.7,736.3M340.7,729.8L334.3,736.3" stroke="#9a55a8" stroke-width="2"/>
<path d="M344.5,729.8L350.9,736.3M350.9,729.8L344.5,736.3" stroke="#9a55a8" stroke-width="2"/>
<path d="M354.1,729.9L360.5,736.3M360.5,729.9L354.1,736.3" stroke="#9a55a8" stroke-width="2"/>
<path d="M364.2,729.9L370.6,736.4M370.6,729.9L364.2,736.4" stroke="#9a55a8" stroke-width="2"/>
<path d="M374.4,729.9L380.8,736.4M380.8,729.9L374.4,736.4" stroke="#9a55a8" stroke-width="2"/>
<path d="M384.2,730.0L390.6,736.4M390.6,730.0L384.2,736.4" stroke="#9a55a8" stroke-width="2"/>
<path d="M394.4,730.0L400.8,736.5M400.8,730.0L394.4,736.5" stroke="#9a55a8" stroke-width="2"/>
<path d="M404.4,730.0L410.8,736.5M410.8,730.0L404.4,736.5" stroke="#9a55a8" stroke-width="2"/>
<path d="M414.2,730.1L420.6,736.5M420.6,730.1L414.2,736.5" stroke="#9a55a8" stroke-width="2"/>
<path d="M424.5,729.5L430.9,735.9M430.9,729.5L424.5,735.9" stroke="#9a55a8" stroke-width="2"/>
<path d="M439.4,728.1L445.8,734.5M445.8,728.1L439.4,734.5" stroke="#9a55a8" stroke-width="2"/>
<path d="M449.4,727.5L455.8,733.9M455.8,727.5L449.4,733.9" stroke="#9a55a8" stroke-width="2"/>
<path d="M459.2,722.4L465.6,728.8M465.6,722.4L459.2,728.8" stroke="#9a55a8" stroke-width="2"/>
<path d="M469.4,722.4L475.8,728.8M475.8,722.4L469.4,728.8" stroke="#9a55a8" stroke-width="2"/>
<path d="M479.2,709.7L485.6,716.1M485.6,709.7L479.2,716.1" stroke="#9a55a8" stroke-width="2"/>
<path d="M490.8,686.6L497.2,693.0M497.2,686.6L490.8,693.0" stroke="#9a55a8" stroke-width="2"/>
<path d="M499.0,655.3L505.4,661.7M505.4,655.3L499.0,661.7" stroke="#9a55a8" stroke-width="2"/>
<path d="M509.5,663.1L515.9,669.5M515.9,663.1L509.5,669.5" stroke="#9a55a8" stroke-width="2"/>
<path d="M518.4,696.8L524.8,703.2M524.8,696.8L518.4,703.2" stroke="#9a55a8" stroke-width="2"/>
<path d="M529.4,714.2L535.8,720.6M535.8,714.2L529.4,720.6" stroke="#9a55a8" stroke-width="2"/>
<path d="M539.4,722.8L545.8,729.2M545.8,722.8L539.4,729.2" stroke="#9a55a8" stroke-width="2"/>
<path d="M549.7,725.8L556.1,732.2M556.1,725.8L549.7,732.2" stroke="#9a55a8" stroke-width="2"/>
<path d="M558.6,727.8L565.0,734.2M565.0,727.8L558.6,734.2" stroke="#9a55a8" stroke-width="2"/>
<path d="M569.1,728.1L575.5,734.6M575.5,728.1L569.1,734.6" stroke="#9a55a8" stroke-width="2"/>
<path d="M579.6,728.4L586.0,734.9M586.0,728.4L579.6,734.9" stroke="#9a55a8" stroke-width="2"/>
<path d="M589.6,728.8L596.0,735.2M596.0,728.8L589.6,735.2" stroke="#9a55a8" stroke-width="2"/>
<path d="M599.4,729.1L605.8,735.6M605.8,729.1L599.4,735.6" stroke="#9a55a8" stroke-width="2"/>
<path d="M609.5,729.4L615.9,735.9M615.9,729.4L609.5,735.9" stroke="#9a55a8" stroke-width="2"/>
<path d="M619.3,729.8L625.7,736.2M625.7,729.8L619.3,736.2" stroke="#9a55a8" stroke-width="2"/>
<rect x="89.6" y="611.0" width="543.10" height="124.80" fill="none" stroke="#000" stroke-width="2"/>
<text x="0.00" y="771.80" font-size="29" text-anchor="start" font-weight="bold" font-style="normal" fill="#000" >f</text>
<rect x="89.6" y="767.5" width="543.10" height="124.70" fill="none" stroke="#000" stroke-width="2"/>
<text x="639.50" y="772.30" font-size="16" text-anchor="start" font-weight="normal" font-style="normal" fill="#000" >35</text>
<line x1="624.30" y1="798.67" x2="632.70" y2="798.67" stroke="#000" stroke-width="1.8" />
<text x="639.50" y="803.48" font-size="16" text-anchor="start" font-weight="normal" font-style="normal" fill="#000" >25</text>
<line x1="624.30" y1="829.85" x2="632.70" y2="829.85" stroke="#000" stroke-width="1.8" />
<text x="639.50" y="834.65" font-size="16" text-anchor="start" font-weight="normal" font-style="normal" fill="#000" >15</text>
<line x1="624.30" y1="861.03" x2="632.70" y2="861.03" stroke="#000" stroke-width="1.8" />
<text x="639.50" y="865.83" font-size="16" text-anchor="start" font-weight="normal" font-style="normal" fill="#000" >5</text>
<text x="639.50" y="897.00" font-size="16" text-anchor="start" font-weight="normal" font-style="normal" fill="#000" >−5</text>
<text x="84.00" y="897.80" font-size="16" text-anchor="end" font-weight="normal" font-style="normal" fill="#000" >0.0</text>
<line x1="89.60" y1="829.85" x2="97.80" y2="829.85" stroke="#000" stroke-width="1.8" />
<text x="84.00" y="835.45" font-size="16" text-anchor="end" font-weight="normal" font-style="normal" fill="#000" >0.5</text>
<text x="84.00" y="773.10" font-size="16" text-anchor="end" font-weight="normal" font-style="normal" fill="#000" >1.0</text>
<line x1="89.60" y1="892.20" x2="89.60" y2="900.70" stroke="#000" stroke-width="1.8" />
<line x1="111.32" y1="892.20" x2="111.32" y2="900.70" stroke="#000" stroke-width="1.8" />
<line x1="133.05" y1="892.20" x2="133.05" y2="900.70" stroke="#000" stroke-width="1.8" />
<line x1="154.77" y1="892.20" x2="154.77" y2="900.70" stroke="#000" stroke-width="1.8" />
<line x1="176.50" y1="892.20" x2="176.50" y2="900.70" stroke="#000" stroke-width="1.8" />
<line x1="198.22" y1="892.20" x2="198.22" y2="900.70" stroke="#000" stroke-width="1.8" />
<line x1="219.94" y1="892.20" x2="219.94" y2="900.70" stroke="#000" stroke-width="1.8" />
<line x1="241.67" y1="892.20" x2="241.67" y2="900.70" stroke="#000" stroke-width="1.8" />
<line x1="263.39" y1="892.20" x2="263.39" y2="900.70" stroke="#000" stroke-width="1.8" />
<line x1="285.12" y1="892.20" x2="285.12" y2="900.70" stroke="#000" stroke-width="1.8" />
<line x1="306.84" y1="892.20" x2="306.84" y2="900.70" stroke="#000" stroke-width="1.8" />
<line x1="328.56" y1="892.20" x2="328.56" y2="900.70" stroke="#000" stroke-width="1.8" />
<line x1="350.29" y1="892.20" x2="350.29" y2="900.70" stroke="#000" stroke-width="1.8" />
<line x1="372.01" y1="892.20" x2="372.01" y2="900.70" stroke="#000" stroke-width="1.8" />
<line x1="393.74" y1="892.20" x2="393.74" y2="900.70" stroke="#000" stroke-width="1.8" />
<line x1="415.46" y1="892.20" x2="415.46" y2="900.70" stroke="#000" stroke-width="1.8" />
<line x1="437.18" y1="892.20" x2="437.18" y2="900.70" stroke="#000" stroke-width="1.8" />
<line x1="458.91" y1="892.20" x2="458.91" y2="900.70" stroke="#000" stroke-width="1.8" />
<line x1="480.63" y1="892.20" x2="480.63" y2="900.70" stroke="#000" stroke-width="1.8" />
<line x1="502.36" y1="892.20" x2="502.36" y2="900.70" stroke="#000" stroke-width="1.8" />
<line x1="524.08" y1="892.20" x2="524.08" y2="900.70" stroke="#000" stroke-width="1.8" />
<line x1="545.80" y1="892.20" x2="545.80" y2="900.70" stroke="#000" stroke-width="1.8" />
<line x1="567.53" y1="892.20" x2="567.53" y2="900.70" stroke="#000" stroke-width="1.8" />
<line x1="589.25" y1="892.20" x2="589.25" y2="900.70" stroke="#000" stroke-width="1.8" />
<line x1="610.98" y1="892.20" x2="610.98" y2="900.70" stroke="#000" stroke-width="1.8" />
<line x1="632.70" y1="892.20" x2="632.70" y2="900.70" stroke="#000" stroke-width="1.8" />
<text x="100.46" y="912.20" font-size="16" text-anchor="middle" font-weight="normal" font-style="normal" fill="#000" >9</text>
<text x="122.19" y="912.20" font-size="16" text-anchor="middle" font-weight="normal" font-style="normal" fill="#000" >10</text>
<text x="143.91" y="912.20" font-size="16" text-anchor="middle" font-weight="normal" font-style="normal" fill="#000" >11</text>
<text x="165.63" y="912.20" font-size="16" text-anchor="middle" font-weight="normal" font-style="normal" fill="#000" >12</text>
<text x="187.36" y="912.20" font-size="16" text-anchor="middle" font-weight="normal" font-style="normal" fill="#000" >1</text>
<text x="209.08" y="912.20" font-size="16" text-anchor="middle" font-weight="normal" font-style="normal" fill="#000" >2</text>
<text x="230.81" y="912.20" font-size="16" text-anchor="middle" font-weight="normal" font-style="normal" fill="#000" >3</text>
<text x="252.53" y="912.20" font-size="16" text-anchor="middle" font-weight="normal" font-style="normal" fill="#000" >4</text>
<text x="274.25" y="912.20" font-size="16" text-anchor="middle" font-weight="normal" font-style="normal" fill="#000" >5</text>
<text x="295.98" y="912.20" font-size="16" text-anchor="middle" font-weight="normal" font-style="normal" fill="#000" >6</text>
<text x="317.70" y="912.20" font-size="16" text-anchor="middle" font-weight="normal" font-style="normal" fill="#000" >7</text>
<text x="339.43" y="912.20" font-size="16" text-anchor="middle" font-weight="normal" font-style="normal" fill="#000" >8</text>
<text x="361.15" y="912.20" font-size="16" text-anchor="middle" font-weight="normal" font-style="normal" fill="#000" >9</text>
<text x="382.87" y="912.20" font-size="16" text-anchor="middle" font-weight="normal" font-style="normal" fill="#000" >10</text>
<text x="404.60" y="912.20" font-size="16" text-anchor="middle" font-weight="normal" font-style="normal" fill="#000" >11</text>
<text x="426.32" y="912.20" font-size="16" text-anchor="middle" font-weight="normal" font-style="normal" fill="#000" >12</text>
<text x="448.05" y="912.20" font-size="16" text-anchor="middle" font-weight="normal" font-style="normal" fill="#000" >1</text>
<text x="469.77" y="912.20" font-size="16" text-anchor="middle" font-weight="normal" font-style="normal" fill="#000" >2</text>
<text x="491.49" y="912.20" font-size="16" text-anchor="middle" font-weight="normal" font-style="normal" fill="#000" >3</text>
<text x="513.22" y="912.20" font-size="16" text-anchor="middle" font-weight="normal" font-style="normal" fill="#000" >4</text>
<text x="534.94" y="912.20" font-size="16" text-anchor="middle" font-weight="normal" font-style="normal" fill="#000" >5</text>
<text x="556.67" y="912.20" font-size="16" text-anchor="middle" font-weight="normal" font-style="normal" fill="#000" >6</text>
<text x="578.39" y="912.20" font-size="16" text-anchor="middle" font-weight="normal" font-style="normal" fill="#000" >7</text>
<text x="600.11" y="912.20" font-size="16" text-anchor="middle" font-weight="normal" font-style="normal" fill="#000" >8</text>
<text x="621.84" y="912.20" font-size="16" text-anchor="middle" font-weight="normal" font-style="normal" fill="#000" >9</text>
<text transform="translate(676.30,829.85) rotate(-90)" x="0" y="5.60" font-size="16" text-anchor="middle" font-style="normal">Temperature (°C)</text>
<text transform="translate(20.40,829.85) rotate(-90)" x="0" y="5.60" font-size="16" text-anchor="middle" font-style="normal">H3K27me3</text>
<text transform="translate(37.60,829.85) rotate(-90)" x="0" y="5.60" font-size="16" text-anchor="middle" font-style="normal">(amplicons VI–VIII)</text>
<polyline points="107.0,890.9 127.4,890.2 137.0,891.7 147.9,888.8 157.5,891.7 167.3,891.7 182.0,890.2 192.2,889.6 202.4,890.2 212.3,888.2 222.2,882.6 232.3,873.4 242.5,879.1 252.1,882.6 262.3,886.3 272.1,888.3 282.3,890.4 292.6,889.9 307.5,891.4 317.3,891.4 327.3,891.3 337.5,891.3 347.7,891.2 357.3,891.2 367.4,891.2 377.6,891.1 387.4,891.1 397.6,891.1 407.6,891.0 417.4,891.0 427.7,891.0 442.6,890.9 452.6,890.9 462.4,890.8 472.6,890.8 482.4,889.3 494.0,882.2 502.2,876.1 512.7,874.0 521.6,886.7 532.6,889.9 542.6,890.8 552.9,890.9 561.8,891.0 572.3,891.0 582.8,891.1 592.8,891.2 602.6,891.2 612.7,891.3 622.5,891.4" fill="none" stroke="#8b0000" stroke-width="2.4" stroke-linejoin="round"/>
<path d="M147.9,881.5V890.5M145.5,881.5H150.3M145.5,890.5H150.3" stroke="#8b0000" stroke-width="1.2" fill="none"/>
<path d="M232.3,864.2V882.6M229.9,864.2H234.7M229.9,882.6H234.7" stroke="#8b0000" stroke-width="1.2" fill="none"/>
<path d="M512.7,866.3V882.6M510.3,866.3H515.1M510.3,882.6H515.1" stroke="#8b0000" stroke-width="1.2" fill="none"/>
<rect x="103.6" y="887.5" width="6.8" height="6.8" fill="#8b0000"/>
<rect x="124.0" y="886.8" width="6.8" height="6.8" fill="#8b0000"/>
<rect x="133.6" y="888.3" width="6.8" height="6.8" fill="#8b0000"/>
<rect x="144.5" y="885.4" width="6.8" height="6.8" fill="#8b0000"/>
<rect x="154.1" y="888.3" width="6.8" height="6.8" fill="#8b0000"/>
<rect x="163.9" y="888.3" width="6.8" height="6.8" fill="#8b0000"/>
<rect x="178.6" y="886.8" width="6.8" height="6.8" fill="#8b0000"/>
<rect x="188.8" y="886.2" width="6.8" height="6.8" fill="#8b0000"/>
<rect x="199.0" y="886.8" width="6.8" height="6.8" fill="#8b0000"/>
<rect x="208.9" y="884.8" width="6.8" height="6.8" fill="#8b0000"/>
<rect x="218.8" y="879.2" width="6.8" height="6.8" fill="#8b0000"/>
<rect x="228.9" y="870.0" width="6.8" height="6.8" fill="#8b0000"/>
<rect x="239.1" y="875.7" width="6.8" height="6.8" fill="#8b0000"/>
<rect x="248.7" y="879.2" width="6.8" height="6.8" fill="#8b0000"/>
<rect x="258.9" y="882.9" width="6.8" height="6.8" fill="#8b0000"/>
<rect x="268.7" y="884.9" width="6.8" height="6.8" fill="#8b0000"/>
<rect x="278.9" y="887.0" width="6.8" height="6.8" fill="#8b0000"/>
<rect x="289.2" y="886.5" width="6.8" height="6.8" fill="#8b0000"/>
<rect x="304.1" y="888.0" width="6.8" height="6.8" fill="#8b0000"/>
<rect x="313.9" y="887.9" width="6.8" height="6.8" fill="#8b0000"/>
<rect x="323.9" y="887.9" width="6.8" height="6.8" fill="#8b0000"/>
<rect x="334.1" y="887.9" width="6.8" height="6.8" fill="#8b0000"/>
<rect x="344.3" y="887.8" width="6.8" height="6.8" fill="#8b0000"/>
<rect x="353.9" y="887.8" width="6.8" height="6.8" fill="#8b0000"/>
<rect x="364.0" y="887.8" width="6.8" height="6.8" fill="#8b0000"/>
<rect x="374.2" y="887.7" width="6.8" height="6.8" fill="#8b0000"/>
<rect x="384.0" y="887.7" width="6.8" height="6.8" fill="#8b0000"/>
<rect x="394.2" y="887.6" width="6.8" height="6.8" fill="#8b0000"/>
<rect x="404.2" y="887.6" width="6.8" height="6.8" fill="#8b0000"/>
<rect x="414.0" y="887.6" width="6.8" height="6.8" fill="#8b0000"/>
<rect x="424.3" y="887.5" width="6.8" height="6.8" fill="#8b0000"/>
<rect x="439.2" y="887.5" width="6.8" height="6.8" fill="#8b0000"/>
<rect x="449.2" y="887.5" width="6.8" height="6.8" fill="#8b0000"/>
<rect x="459.0" y="887.4" width="6.8" height="6.8" fill="#8b0000"/>
<rect x="469.2" y="887.4" width="6.8" height="6.8" fill="#8b0000"/>
<rect x="479.0" y="885.9" width="6.8" height="6.8" fill="#8b0000"/>
<rect x="490.6" y="878.8" width="6.8" height="6.8" fill="#8b0000"/>
<rect x="498.8" y="872.7" width="6.8" height="6.8" fill="#8b0000"/>
<rect x="509.3" y="870.6" width="6.8" height="6.8" fill="#8b0000"/>
<rect x="518.2" y="883.3" width="6.8" height="6.8" fill="#8b0000"/>
<rect x="529.2" y="886.5" width="6.8" height="6.8" fill="#8b0000"/>
<rect x="539.2" y="887.4" width="6.8" height="6.8" fill="#8b0000"/>
<rect x="549.5" y="887.5" width="6.8" height="6.8" fill="#8b0000"/>
<rect x="558.4" y="887.5" width="6.8" height="6.8" fill="#8b0000"/>
<rect x="568.9" y="887.6" width="6.8" height="6.8" fill="#8b0000"/>
<rect x="579.4" y="887.7" width="6.8" height="6.8" fill="#8b0000"/>
<rect x="589.4" y="887.8" width="6.8" height="6.8" fill="#8b0000"/>
<rect x="599.2" y="887.8" width="6.8" height="6.8" fill="#8b0000"/>
<rect x="609.3" y="887.9" width="6.8" height="6.8" fill="#8b0000"/>
<rect x="619.1" y="888.0" width="6.8" height="6.8" fill="#8b0000"/>
<polyline points="107.0,890.9 127.4,890.9 137.0,891.3 147.9,890.9 157.5,890.2 167.3,890.9 182.0,890.2 192.2,887.6 202.4,883.5 212.3,876.4 222.2,855.3 232.3,802.9 242.5,813.1 252.1,830.5 262.3,861.2 272.1,869.3 282.3,882.2 292.6,879.6 307.5,886.3 317.3,889.3 327.3,890.1 337.5,891.4 347.7,891.4 357.3,891.4 367.4,891.4 377.6,891.4 387.4,891.4 397.6,891.4 407.6,891.4 417.4,891.4 427.7,891.4 442.6,890.8 452.6,889.3 462.4,886.7 472.6,885.9 482.4,865.9 494.0,846.5 502.2,817.6 512.7,829.9 521.6,860.1 532.6,878.1 542.6,888.7 552.9,886.7 561.8,889.9 572.3,891.1 582.8,891.2 592.8,891.2 602.6,891.3 612.7,891.3 622.5,891.4" fill="none" stroke="#009a00" stroke-width="2.4" stroke-linejoin="round"/>
<path d="M222.2,848.9V862.2M219.8,848.9H224.6M219.8,862.2H224.6" stroke="#009a00" stroke-width="1.2" fill="none"/>
<path d="M232.3,769.2V840.0M229.9,769.2H234.7M229.9,840.0H234.7" stroke="#009a00" stroke-width="1.2" fill="none"/>
<path d="M242.5,797.8V828.5M240.1,797.8H244.9M240.1,828.5H244.9" stroke="#009a00" stroke-width="1.2" fill="none"/>
<path d="M272.1,859.1V879.6M269.7,859.1H274.5M269.7,879.6H274.5" stroke="#009a00" stroke-width="1.2" fill="none"/>
<path d="M282.3,876.5V886.7M279.9,876.5H284.7M279.9,886.7H284.7" stroke="#009a00" stroke-width="1.2" fill="none"/>
<path d="M292.6,874.5V883.6M290.2,874.5H295.0M290.2,883.6H295.0" stroke="#009a00" stroke-width="1.2" fill="none"/>
<path d="M482.4,853.0V878.5M480.0,853.0H484.8M480.0,878.5H484.8" stroke="#009a00" stroke-width="1.2" fill="none"/>
<path d="M494.0,834.6V858.1M491.6,834.6H496.4M491.6,858.1H496.4" stroke="#009a00" stroke-width="1.2" fill="none"/>
<path d="M502.2,804.6V830.5M499.8,804.6H504.6M499.8,830.5H504.6" stroke="#009a00" stroke-width="1.2" fill="none"/>
<path d="M512.7,819.7V841.7M510.3,819.7H515.1M510.3,841.7H515.1" stroke="#009a00" stroke-width="1.2" fill="none"/>
<path d="M521.6,847.9V872.4M519.2,847.9H524.0M519.2,872.4H524.0" stroke="#009a00" stroke-width="1.2" fill="none"/>
<path d="M532.6,871.4V884.7M530.2,871.4H535.0M530.2,884.7H535.0" stroke="#009a00" stroke-width="1.2" fill="none"/>
<circle cx="107.0" cy="890.9" r="3.6" fill="#009a00"/>
<circle cx="127.4" cy="890.9" r="3.6" fill="#009a00"/>
<circle cx="137.0" cy="891.3" r="3.6" fill="#009a00"/>
<circle cx="147.9" cy="890.9" r="3.6" fill="#009a00"/>
<circle cx="157.5" cy="890.2" r="3.6" fill="#009a00"/>
<circle cx="167.3" cy="890.9" r="3.6" fill="#009a00"/>
<circle cx="182.0" cy="890.2" r="3.6" fill="#009a00"/>
<circle cx="192.2" cy="887.6" r="3.6" fill="#009a00"/>
<circle cx="202.4" cy="883.5" r="3.6" fill="#009a00"/>
<circle cx="212.3" cy="876.4" r="3.6" fill="#009a00"/>
<circle cx="222.2" cy="855.3" r="3.6" fill="#009a00"/>
<circle cx="232.3" cy="802.9" r="3.6" fill="#009a00"/>
<circle cx="242.5" cy="813.1" r="3.6" fill="#009a00"/>
<circle cx="252.1" cy="830.5" r="3.6" fill="#009a00"/>
<circle cx="262.3" cy="861.2" r="3.6" fill="#009a00"/>
<circle cx="272.1" cy="869.3" r="3.6" fill="#009a00"/>
<circle cx="282.3" cy="882.2" r="3.6" fill="#009a00"/>
<circle cx="292.6" cy="879.6" r="3.6" fill="#009a00"/>
<circle cx="307.5" cy="886.3" r="3.6" fill="#009a00"/>
<circle cx="317.3" cy="889.3" r="3.6" fill="#009a00"/>
<circle cx="327.3" cy="890.1" r="3.6" fill="#009a00"/>
<circle cx="337.5" cy="891.4" r="3.6" fill="#009a00"/>
<circle cx="347.7" cy="891.4" r="3.6" fill="#009a00"/>
<circle cx="357.3" cy="891.4" r="3.6" fill="#009a00"/>
<circle cx="367.4" cy="891.4" r="3.6" fill="#009a00"/>
<circle cx="377.6" cy="891.4" r="3.6" fill="#009a00"/>
<circle cx="387.4" cy="891.4" r="3.6" fill="#009a00"/>
<circle cx="397.6" cy="891.4" r="3.6" fill="#009a00"/>
<circle cx="407.6" cy="891.4" r="3.6" fill="#009a00"/>
<circle cx="417.4" cy="891.4" r="3.6" fill="#009a00"/>
<circle cx="427.7" cy="891.4" r="3.6" fill="#009a00"/>
<circle cx="442.6" cy="890.8" r="3.6" fill="#009a00"/>
<circle cx="452.6" cy="889.3" r="3.6" fill="#009a00"/>
<circle cx="462.4" cy="886.7" r="3.6" fill="#009a00"/>
<circle cx="472.6" cy="885.9" r="3.6" fill="#009a00"/>
<circle cx="482.4" cy="865.9" r="3.6" fill="#009a00"/>
<circle cx="494.0" cy="846.5" r="3.6" fill="#009a00"/>
<circle cx="502.2" cy="817.6" r="3.6" fill="#009a00"/>
<circle cx="512.7" cy="829.9" r="3.6" fill="#009a00"/>
<circle cx="521.6" cy="860.1" r="3.6" fill="#009a00"/>
<circle cx="532.6" cy="878.1" r="3.6" fill="#009a00"/>
<circle cx="542.6" cy="888.7" r="3.6" fill="#009a00"/>
<circle cx="552.9" cy="886.7" r="3.6" fill="#009a00"/>
<circle cx="561.8" cy="889.9" r="3.6" fill="#009a00"/>
<circle cx="572.3" cy="891.1" r="3.6" fill="#009a00"/>
<circle cx="582.8" cy="891.2" r="3.6" fill="#009a00"/>
<circle cx="592.8" cy="891.2" r="3.6" fill="#009a00"/>
<circle cx="602.6" cy="891.3" r="3.6" fill="#009a00"/>
<circle cx="612.7" cy="891.3" r="3.6" fill="#009a00"/>
<circle cx="622.5" cy="891.4" r="3.6" fill="#009a00"/>
<polyline points="107.0,892.3 127.4,891.7 137.0,892.3 147.9,891.7 157.5,891.6 167.3,891.4 182.0,891.3 192.2,890.2 202.4,888.2 212.3,880.5 222.2,871.0 232.3,841.3 242.5,841.3 252.1,856.1 262.3,873.4 272.1,882.6 282.3,889.3 292.6,889.9 307.5,891.4 317.3,891.4 327.3,891.4 337.5,891.4 347.7,891.4 357.3,891.4 367.4,891.4 377.6,891.4 387.4,891.4 397.6,891.4 407.6,891.4 417.4,891.4 427.7,891.4 442.6,891.4 452.6,890.8 462.4,890.4 472.6,890.8 482.4,883.6 494.0,870.0 502.2,863.2 512.7,842.8 521.6,881.0 532.6,889.3 542.6,890.8 552.9,890.9 561.8,891.0 572.3,891.0 582.8,891.1 592.8,891.2 602.6,891.2 612.7,891.3 622.5,891.4" fill="none" stroke="#ff00ff" stroke-width="2.4" stroke-linejoin="round"/>
<path d="M232.3,823.4V860.1M229.9,823.4H234.7M229.9,860.1H234.7" stroke="#ff00ff" stroke-width="1.2" fill="none"/>
<path d="M242.5,834.6V847.9M240.1,834.6H244.9M240.1,847.9H244.9" stroke="#ff00ff" stroke-width="1.2" fill="none"/>
<path d="M252.1,849.9V864.2M249.7,849.9H254.5M249.7,864.2H254.5" stroke="#ff00ff" stroke-width="1.2" fill="none"/>
<path d="M357.3,881.6V890.0M354.9,881.6H359.7M354.9,890.0H359.7" stroke="#ff00ff" stroke-width="1.2" fill="none"/>
<path d="M494.0,860.1V879.6M491.6,860.1H496.4M491.6,879.6H496.4" stroke="#ff00ff" stroke-width="1.2" fill="none"/>
<path d="M502.2,853.0V873.4M499.8,853.0H504.6M499.8,873.4H504.6" stroke="#ff00ff" stroke-width="1.2" fill="none"/>
<path d="M512.7,827.4V859.1M510.3,827.4H515.1M510.3,859.1H515.1" stroke="#ff00ff" stroke-width="1.2" fill="none"/>
<polygon points="107.0,888.2 111.1,892.3 107.0,896.4 102.9,892.3" fill="#ff00ff"/>
<polygon points="127.4,887.6 131.5,891.7 127.4,895.8 123.3,891.7" fill="#ff00ff"/>
<polygon points="137.0,888.2 141.1,892.3 137.0,896.4 132.9,892.3" fill="#ff00ff"/>
<polygon points="147.9,887.6 152.0,891.7 147.9,895.8 143.8,891.7" fill="#ff00ff"/>
<polygon points="157.5,887.4 161.6,891.6 157.5,895.7 153.4,891.6" fill="#ff00ff"/>
<polygon points="167.3,887.3 171.4,891.4 167.3,895.6 163.2,891.4" fill="#ff00ff"/>
<polygon points="182.0,887.2 186.1,891.3 182.0,895.4 177.9,891.3" fill="#ff00ff"/>
<polygon points="192.2,886.1 196.3,890.2 192.2,894.3 188.1,890.2" fill="#ff00ff"/>
<polygon points="202.4,884.1 206.5,888.2 202.4,892.3 198.3,888.2" fill="#ff00ff"/>
<polygon points="212.3,876.4 216.4,880.5 212.3,884.6 208.2,880.5" fill="#ff00ff"/>
<polygon points="222.2,866.9 226.3,871.0 222.2,875.1 218.1,871.0" fill="#ff00ff"/>
<polygon points="232.3,837.2 236.4,841.3 232.3,845.4 228.2,841.3" fill="#ff00ff"/>
<polygon points="242.5,837.2 246.6,841.3 242.5,845.4 238.4,841.3" fill="#ff00ff"/>
<polygon points="252.1,852.0 256.2,856.1 252.1,860.2 248.0,856.1" fill="#ff00ff"/>
<polygon points="262.3,869.3 266.4,873.4 262.3,877.5 258.2,873.4" fill="#ff00ff"/>
<polygon points="272.1,878.5 276.2,882.6 272.1,886.7 268.0,882.6" fill="#ff00ff"/>
<polygon points="282.3,885.2 286.4,889.3 282.3,893.4 278.2,889.3" fill="#ff00ff"/>
<polygon points="292.6,885.8 296.7,889.9 292.6,894.0 288.5,889.9" fill="#ff00ff"/>
<polygon points="307.5,887.3 311.6,891.4 307.5,895.5 303.4,891.4" fill="#ff00ff"/>
<polygon points="317.3,887.3 321.4,891.4 317.3,895.5 313.2,891.4" fill="#ff00ff"/>
<polygon points="327.3,887.3 331.4,891.4 327.3,895.5 323.2,891.4" fill="#ff00ff"/>
<polygon points="337.5,887.3 341.6,891.4 337.5,895.5 333.4,891.4" fill="#ff00ff"/>
<polygon points="347.7,887.3 351.8,891.4 347.7,895.5 343.6,891.4" fill="#ff00ff"/>
<polygon points="357.3,887.3 361.4,891.4 357.3,895.5 353.2,891.4" fill="#ff00ff"/>
<polygon points="367.4,887.3 371.5,891.4 367.4,895.5 363.3,891.4" fill="#ff00ff"/>
<polygon points="377.6,887.3 381.7,891.4 377.6,895.5 373.5,891.4" fill="#ff00ff"/>
<polygon points="387.4,887.3 391.5,891.4 387.4,895.5 383.3,891.4" fill="#ff00ff"/>
<polygon points="397.6,887.3 401.7,891.4 397.6,895.5 393.5,891.4" fill="#ff00ff"/>
<polygon points="407.6,887.3 411.7,891.4 407.6,895.5 403.5,891.4" fill="#ff00ff"/>
<polygon points="417.4,887.3 421.5,891.4 417.4,895.5 413.3,891.4" fill="#ff00ff"/>
<polygon points="427.7,887.3 431.8,891.4 427.7,895.5 423.6,891.4" fill="#ff00ff"/>
<polygon points="442.6,887.3 446.7,891.4 442.6,895.5 438.5,891.4" fill="#ff00ff"/>
<polygon points="452.6,886.7 456.7,890.8 452.6,894.9 448.5,890.8" fill="#ff00ff"/>
<polygon points="462.4,886.3 466.5,890.4 462.4,894.5 458.3,890.4" fill="#ff00ff"/>
<polygon points="472.6,886.7 476.7,890.8 472.6,894.9 468.5,890.8" fill="#ff00ff"/>
<polygon points="482.4,879.5 486.5,883.6 482.4,887.7 478.3,883.6" fill="#ff00ff"/>
<polygon points="494.0,865.9 498.1,870.0 494.0,874.1 489.9,870.0" fill="#ff00ff"/>
<polygon points="502.2,859.1 506.3,863.2 502.2,867.3 498.1,863.2" fill="#ff00ff"/>
<polygon points="512.7,838.7 516.8,842.8 512.7,846.9 508.6,842.8" fill="#ff00ff"/>
<polygon points="521.6,876.9 525.7,881.0 521.6,885.1 517.5,881.0" fill="#ff00ff"/>
<polygon points="532.6,885.2 536.7,889.3 532.6,893.4 528.5,889.3" fill="#ff00ff"/>
<polygon points="542.6,886.7 546.7,890.8 542.6,894.9 538.5,890.8" fill="#ff00ff"/>
<polygon points="552.9,886.7 557.0,890.9 552.9,895.0 548.8,890.9" fill="#ff00ff"/>
<polygon points="561.8,886.8 565.9,891.0 561.8,895.1 557.7,891.0" fill="#ff00ff"/>
<polygon points="572.3,886.9 576.4,891.0 572.3,895.2 568.2,891.0" fill="#ff00ff"/>
<polygon points="582.8,887.0 586.9,891.1 582.8,895.2 578.7,891.1" fill="#ff00ff"/>
<polygon points="592.8,887.0 596.9,891.2 592.8,895.3 588.7,891.2" fill="#ff00ff"/>
<polygon points="602.6,887.1 606.7,891.2 602.6,895.4 598.5,891.2" fill="#ff00ff"/>
<polygon points="612.7,887.2 616.8,891.3 612.7,895.5 608.6,891.3" fill="#ff00ff"/>
<polygon points="622.5,887.3 626.6,891.4 622.5,895.5 618.4,891.4" fill="#ff00ff"/>
<polyline points="107.0,890.9 127.4,890.2 137.0,891.7 147.9,888.8 157.5,891.7 167.3,891.7 182.0,890.2 192.2,889.6 202.4,890.2 212.3,888.2 222.2,882.6 232.3,873.4 242.5,879.1 252.1,882.6 262.3,886.3 272.1,888.3 282.3,890.4 292.6,889.9 307.5,891.4 317.3,891.4 327.3,891.3 337.5,891.3 347.7,891.2 357.3,891.2 367.4,891.2 377.6,891.1 387.4,891.1 397.6,891.1 407.6,891.0 417.4,891.0 427.7,891.0 442.6,890.9 452.6,890.9 462.4,890.8 472.6,890.8 482.4,889.3 494.0,882.2 502.2,876.1 512.7,874.0 521.6,886.7 532.6,889.9 542.6,890.8 552.9,890.9 561.8,891.0 572.3,891.0 582.8,891.1 592.8,891.2 602.6,891.2 612.7,891.3 622.5,891.4" fill="none" stroke="#8b0000" stroke-width="2.4" stroke-linejoin="round"/>
<path d="M147.9,881.5V890.5M145.5,881.5H150.3M145.5,890.5H150.3" stroke="#8b0000" stroke-width="1.2" fill="none"/>
<path d="M232.3,864.2V882.6M229.9,864.2H234.7M229.9,882.6H234.7" stroke="#8b0000" stroke-width="1.2" fill="none"/>
<path d="M512.7,866.3V882.6M510.3,866.3H515.1M510.3,882.6H515.1" stroke="#8b0000" stroke-width="1.2" fill="none"/>
<rect x="103.6" y="887.5" width="6.8" height="6.8" fill="#8b0000"/>
<rect x="124.0" y="886.8" width="6.8" height="6.8" fill="#8b0000"/>
<rect x="133.6" y="888.3" width="6.8" height="6.8" fill="#8b0000"/>
<rect x="144.5" y="885.4" width="6.8" height="6.8" fill="#8b0000"/>
<rect x="154.1" y="888.3" width="6.8" height="6.8" fill="#8b0000"/>
<rect x="163.9" y="888.3" width="6.8" height="6.8" fill="#8b0000"/>
<rect x="178.6" y="886.8" width="6.8" height="6.8" fill="#8b0000"/>
<rect x="188.8" y="886.2" width="6.8" height="6.8" fill="#8b0000"/>
<rect x="199.0" y="886.8" width="6.8" height="6.8" fill="#8b0000"/>
<rect x="208.9" y="884.8" width="6.8" height="6.8" fill="#8b0000"/>
<rect x="218.8" y="879.2" width="6.8" height="6.8" fill="#8b0000"/>
<rect x="228.9" y="870.0" width="6.8" height="6.8" fill="#8b0000"/>
<rect x="239.1" y="875.7" width="6.8" height="6.8" fill="#8b0000"/>
<rect x="248.7" y="879.2" width="6.8" height="6.8" fill="#8b0000"/>
<rect x="258.9" y="882.9" width="6.8" height="6.8" fill="#8b0000"/>
<rect x="268.7" y="884.9" width="6.8" height="6.8" fill="#8b0000"/>
<rect x="278.9" y="887.0" width="6.8" height="6.8" fill="#8b0000"/>
<rect x="289.2" y="886.5" width="6.8" height="6.8" fill="#8b0000"/>
<rect x="304.1" y="888.0" width="6.8" height="6.8" fill="#8b0000"/>
<rect x="313.9" y="887.9" width="6.8" height="6.8" fill="#8b0000"/>
<rect x="323.9" y="887.9" width="6.8" height="6.8" fill="#8b0000"/>
<rect x="334.1" y="887.9" width="6.8" height="6.8" fill="#8b0000"/>
<rect x="344.3" y="887.8" width="6.8" height="6.8" fill="#8b0000"/>
<rect x="353.9" y="887.8" width="6.8" height="6.8" fill="#8b0000"/>
<rect x="364.0" y="887.8" width="6.8" height="6.8" fill="#8b0000"/>
<rect x="374.2" y="887.7" width="6.8" height="6.8" fill="#8b0000"/>
<rect x="384.0" y="887.7" width="6.8" height="6.8" fill="#8b0000"/>
<rect x="394.2" y="887.6" width="6.8" height="6.8" fill="#8b0000"/>
<rect x="404.2" y="887.6" width="6.8" height="6.8" fill="#8b0000"/>
<rect x="414.0" y="887.6" width="6.8" height="6.8" fill="#8b0000"/>
<rect x="424.3" y="887.5" width="6.8" height="6.8" fill="#8b0000"/>
<rect x="439.2" y="887.5" width="6.8" height="6.8" fill="#8b0000"/>
<rect x="449.2" y="887.5" width="6.8" height="6.8" fill="#8b0000"/>
<rect x="459.0" y="887.4" width="6.8" height="6.8" fill="#8b0000"/>
<rect x="469.2" y="887.4" width="6.8" height="6.8" fill="#8b0000"/>
<rect x="479.0" y="885.9" width="6.8" height="6.8" fill="#8b0000"/>
<rect x="490.6" y="878.8" width="6.8" height="6.8" fill="#8b0000"/>
<rect x="498.8" y="872.7" width="6.8" height="6.8" fill="#8b0000"/>
<rect x="509.3" y="870.6" width="6.8" height="6.8" fill="#8b0000"/>
<rect x="518.2" y="883.3" width="6.8" height="6.8" fill="#8b0000"/>
<rect x="529.2" y="886.5" width="6.8" height="6.8" fill="#8b0000"/>
<rect x="539.2" y="887.4" width="6.8" height="6.8" fill="#8b0000"/>
<rect x="549.5" y="887.5" width="6.8" height="6.8" fill="#8b0000"/>
<rect x="558.4" y="887.5" width="6.8" height="6.8" fill="#8b0000"/>
<rect x="568.9" y="887.6" width="6.8" height="6.8" fill="#8b0000"/>
<rect x="579.4" y="887.7" width="6.8" height="6.8" fill="#8b0000"/>
<rect x="589.4" y="887.8" width="6.8" height="6.8" fill="#8b0000"/>
<rect x="599.2" y="887.8" width="6.8" height="6.8" fill="#8b0000"/>
<rect x="609.3" y="887.9" width="6.8" height="6.8" fill="#8b0000"/>
<rect x="619.1" y="888.0" width="6.8" height="6.8" fill="#8b0000"/>
<rect x="89.6" y="767.5" width="543.10" height="124.70" fill="none" stroke="#000" stroke-width="2"/>
<text x="0.50" y="931.60" font-size="29" text-anchor="start" font-weight="bold" font-style="normal" fill="#000" >g</text>
<polyline points="81.6,931.8 89.6,931.8 89.6,948.2" fill="none" stroke="#000" stroke-width="2"/>
<line x1="81.60" y1="948.20" x2="633.70" y2="948.20" stroke="#000" stroke-width="2" />
<line x1="89.60" y1="948.20" x2="89.60" y2="956.20" stroke="#000" stroke-width="1.8" />
<line x1="111.32" y1="948.20" x2="111.32" y2="956.20" stroke="#000" stroke-width="1.8" />
<line x1="133.05" y1="948.20" x2="133.05" y2="956.20" stroke="#000" stroke-width="1.8" />
<line x1="154.77" y1="948.20" x2="154.77" y2="956.20" stroke="#000" stroke-width="1.8" />
<line x1="176.50" y1="948.20" x2="176.50" y2="956.20" stroke="#000" stroke-width="1.8" />
<line x1="198.22" y1="948.20" x2="198.22" y2="956.20" stroke="#000" stroke-width="1.8" />
<line x1="219.94" y1="948.20" x2="219.94" y2="956.20" stroke="#000" stroke-width="1.8" />
<line x1="241.67" y1="948.20" x2="241.67" y2="956.20" stroke="#000" stroke-width="1.8" />
<line x1="263.39" y1="948.20" x2="263.39" y2="956.20" stroke="#000" stroke-width="1.8" />
<line x1="285.12" y1="948.20" x2="285.12" y2="956.20" stroke="#000" stroke-width="1.8" />
<line x1="306.84" y1="948.20" x2="306.84" y2="956.20" stroke="#000" stroke-width="1.8" />
<line x1="328.56" y1="948.20" x2="328.56" y2="956.20" stroke="#000" stroke-width="1.8" />
<line x1="350.29" y1="948.20" x2="350.29" y2="956.20" stroke="#000" stroke-width="1.8" />
<line x1="372.01" y1="948.20" x2="372.01" y2="956.20" stroke="#000" stroke-width="1.8" />
<line x1="393.74" y1="948.20" x2="393.74" y2="956.20" stroke="#000" stroke-width="1.8" />
<line x1="415.46" y1="948.20" x2="415.46" y2="956.20" stroke="#000" stroke-width="1.8" />
<line x1="437.18" y1="948.20" x2="437.18" y2="956.20" stroke="#000" stroke-width="1.8" />
<line x1="458.91" y1="948.20" x2="458.91" y2="956.20" stroke="#000" stroke-width="1.8" />
<line x1="480.63" y1="948.20" x2="480.63" y2="956.20" stroke="#000" stroke-width="1.8" />
<line x1="502.36" y1="948.20" x2="502.36" y2="956.20" stroke="#000" stroke-width="1.8" />
<line x1="524.08" y1="948.20" x2="524.08" y2="956.20" stroke="#000" stroke-width="1.8" />
<line x1="545.80" y1="948.20" x2="545.80" y2="956.20" stroke="#000" stroke-width="1.8" />
<line x1="567.53" y1="948.20" x2="567.53" y2="956.20" stroke="#000" stroke-width="1.8" />
<line x1="589.25" y1="948.20" x2="589.25" y2="956.20" stroke="#000" stroke-width="1.8" />
<line x1="610.98" y1="948.20" x2="610.98" y2="956.20" stroke="#000" stroke-width="1.8" />
<line x1="632.70" y1="948.20" x2="632.70" y2="956.20" stroke="#000" stroke-width="1.8" />
<text x="100.46" y="965.50" font-size="16" text-anchor="middle" font-weight="normal" font-style="normal" fill="#000" >9</text>
<text x="122.19" y="965.50" font-size="16" text-anchor="middle" font-weight="normal" font-style="normal" fill="#000" >10</text>
<text x="143.91" y="965.50" font-size="16" text-anchor="middle" font-weight="normal" font-style="normal" fill="#000" >11</text>
<text x="165.63" y="965.50" font-size="16" text-anchor="middle" font-weight="normal" font-style="normal" fill="#000" >12</text>
<text x="187.36" y="965.50" font-size="16" text-anchor="middle" font-weight="normal" font-style="normal" fill="#000" >1</text>
<text x="209.08" y="965.50" font-size="16" text-anchor="middle" font-weight="normal" font-style="normal" fill="#000" >2</text>
<text x="230.81" y="965.50" font-size="16" text-anchor="middle" font-weight="normal" font-style="normal" fill="#000" >3</text>
<text x="252.53" y="965.50" font-size="16" text-anchor="middle" font-weight="normal" font-style="normal" fill="#000" >4</text>
<text x="274.25" y="965.50" font-size="16" text-anchor="middle" font-weight="normal" font-style="normal" fill="#000" >5</text>
<text x="295.98" y="965.50" font-size="16" text-anchor="middle" font-weight="normal" font-style="normal" fill="#000" >6</text>
<text x="317.70" y="965.50" font-size="16" text-anchor="middle" font-weight="normal" font-style="normal" fill="#000" >7</text>
<text x="339.43" y="965.50" font-size="16" text-anchor="middle" font-weight="normal" font-style="normal" fill="#000" >8</text>
<text x="361.15" y="965.50" font-size="16" text-anchor="middle" font-weight="normal" font-style="normal" fill="#000" >9</text>
<text x="382.87" y="965.50" font-size="16" text-anchor="middle" font-weight="normal" font-style="normal" fill="#000" >10</text>
<text x="404.60" y="965.50" font-size="16" text-anchor="middle" font-weight="normal" font-style="normal" fill="#000" >11</text>
<text x="426.32" y="965.50" font-size="16" text-anchor="middle" font-weight="normal" font-style="normal" fill="#000" >12</text>
<text x="448.05" y="965.50" font-size="16" text-anchor="middle" font-weight="normal" font-style="normal" fill="#000" >1</text>
<text x="469.77" y="965.50" font-size="16" text-anchor="middle" font-weight="normal" font-style="normal" fill="#000" >2</text>
<text x="491.49" y="965.50" font-size="16" text-anchor="middle" font-weight="normal" font-style="normal" fill="#000" >3</text>
<text x="513.22" y="965.50" font-size="16" text-anchor="middle" font-weight="normal" font-style="normal" fill="#000" >4</text>
<text x="534.94" y="965.50" font-size="16" text-anchor="middle" font-weight="normal" font-style="normal" fill="#000" >5</text>
<text x="556.67" y="965.50" font-size="16" text-anchor="middle" font-weight="normal" font-style="normal" fill="#000" >6</text>
<text x="578.39" y="965.50" font-size="16" text-anchor="middle" font-weight="normal" font-style="normal" fill="#000" >7</text>
<text x="600.11" y="965.50" font-size="16" text-anchor="middle" font-weight="normal" font-style="normal" fill="#000" >8</text>
<text x="621.84" y="965.50" font-size="16" text-anchor="middle" font-weight="normal" font-style="normal" fill="#000" >9</text>
<text x="75.80" y="937.40" font-size="16" text-anchor="end" font-weight="normal" font-style="normal" fill="#000" >40</text>
<text x="75.80" y="953.80" font-size="16" text-anchor="end" font-weight="normal" font-style="normal" fill="#000" >0</text>
<text x="103.60" y="938.90" font-size="16" text-anchor="start" font-weight="normal" font-style="normal" fill="#000" >Bolting</text>
<polyline points="81.6,976.6 89.6,976.6 89.6,993.4" fill="none" stroke="#000" stroke-width="2"/>
<line x1="81.60" y1="993.40" x2="633.70" y2="993.40" stroke="#000" stroke-width="2" />
<line x1="89.60" y1="993.40" x2="89.60" y2="1001.40" stroke="#000" stroke-width="1.8" />
<line x1="111.32" y1="993.40" x2="111.32" y2="1001.40" stroke="#000" stroke-width="1.8" />
<line x1="133.05" y1="993.40" x2="133.05" y2="1001.40" stroke="#000" stroke-width="1.8" />
<line x1="154.77" y1="993.40" x2="154.77" y2="1001.40" stroke="#000" stroke-width="1.8" />
<line x1="176.50" y1="993.40" x2="176.50" y2="1001.40" stroke="#000" stroke-width="1.8" />
<line x1="198.22" y1="993.40" x2="198.22" y2="1001.40" stroke="#000" stroke-width="1.8" />
<line x1="219.94" y1="993.40" x2="219.94" y2="1001.40" stroke="#000" stroke-width="1.8" />
<line x1="241.67" y1="993.40" x2="241.67" y2="1001.40" stroke="#000" stroke-width="1.8" />
<line x1="263.39" y1="993.40" x2="263.39" y2="1001.40" stroke="#000" stroke-width="1.8" />
<line x1="285.12" y1="993.40" x2="285.12" y2="1001.40" stroke="#000" stroke-width="1.8" />
<line x1="306.84" y1="993.40" x2="306.84" y2="1001.40" stroke="#000" stroke-width="1.8" />
<line x1="328.56" y1="993.40" x2="328.56" y2="1001.40" stroke="#000" stroke-width="1.8" />
<line x1="350.29" y1="993.40" x2="350.29" y2="1001.40" stroke="#000" stroke-width="1.8" />
<line x1="372.01" y1="993.40" x2="372.01" y2="1001.40" stroke="#000" stroke-width="1.8" />
<line x1="393.74" y1="993.40" x2="393.74" y2="1001.40" stroke="#000" stroke-width="1.8" />
<line x1="415.46" y1="993.40" x2="415.46" y2="1001.40" stroke="#000" stroke-width="1.8" />
<line x1="437.18" y1="993.40" x2="437.18" y2="1001.40" stroke="#000" stroke-width="1.8" />
<line x1="458.91" y1="993.40" x2="458.91" y2="1001.40" stroke="#000" stroke-width="1.8" />
<line x1="480.63" y1="993.40" x2="480.63" y2="1001.40" stroke="#000" stroke-width="1.8" />
<line x1="502.36" y1="993.40" x2="502.36" y2="1001.40" stroke="#000" stroke-width="1.8" />
<line x1="524.08" y1="993.40" x2="524.08" y2="1001.40" stroke="#000" stroke-width="1.8" />
<line x1="545.80" y1="993.40" x2="545.80" y2="1001.40" stroke="#000" stroke-width="1.8" />
<line x1="567.53" y1="993.40" x2="567.53" y2="1001.40" stroke="#000" stroke-width="1.8" />
<line x1="589.25" y1="993.40" x2="589.25" y2="1001.40" stroke="#000" stroke-width="1.8" />
<line x1="610.98" y1="993.40" x2="610.98" y2="1001.40" stroke="#000" stroke-width="1.8" />
<line x1="632.70" y1="993.40" x2="632.70" y2="1001.40" stroke="#000" stroke-width="1.8" />
<text x="100.46" y="1012.80" font-size="16" text-anchor="middle" font-weight="normal" font-style="normal" fill="#000" >9</text>
<text x="122.19" y="1012.80" font-size="16" text-anchor="middle" font-weight="normal" font-style="normal" fill="#000" >10</text>
<text x="143.91" y="1012.80" font-size="16" text-anchor="middle" font-weight="normal" font-style="normal" fill="#000" >11</text>
<text x="165.63" y="1012.80" font-size="16" text-anchor="middle" font-weight="normal" font-style="normal" fill="#000" >12</text>
<text x="187.36" y="1012.80" font-size="16" text-anchor="middle" font-weight="normal" font-style="normal" fill="#000" >1</text>
<text x="209.08" y="1012.80" font-size="16" text-anchor="middle" font-weight="normal" font-style="normal" fill="#000" >2</text>
<text x="230.81" y="1012.80" font-size="16" text-anchor="middle" font-weight="normal" font-style="normal" fill="#000" >3</text>
<text x="252.53" y="1012.80" font-size="16" text-anchor="middle" font-weight="normal" font-style="normal" fill="#000" >4</text>
<text x="274.25" y="1012.80" font-size="16" text-anchor="middle" font-weight="normal" font-style="normal" fill="#000" >5</text>
<text x="295.98" y="1012.80" font-size="16" text-anchor="middle" font-weight="normal" font-style="normal" fill="#000" >6</text>
<text x="317.70" y="1012.80" font-size="16" text-anchor="middle" font-weight="normal" font-style="normal" fill="#000" >7</text>
<text x="339.43" y="1012.80" font-size="16" text-anchor="middle" font-weight="normal" font-style="normal" fill="#000" >8</text>
<text x="361.15" y="1012.80" font-size="16" text-anchor="middle" font-weight="normal" font-style="normal" fill="#000" >9</text>
<text x="382.87" y="1012.80" font-size="16" text-anchor="middle" font-weight="normal" font-style="normal" fill="#000" >10</text>
<text x="404.60" y="1012.80" font-size="16" text-anchor="middle" font-weight="normal" font-style="normal" fill="#000" >11</text>
<text x="426.32" y="1012.80" font-size="16" text-anchor="middle" font-weight="normal" font-style="normal" fill="#000" >12</text>
<text x="448.05" y="1012.80" font-size="16" text-anchor="middle" font-weight="normal" font-style="normal" fill="#000" >1</text>
<text x="469.77" y="1012.80" font-size="16" text-anchor="middle" font-weight="normal" font-style="normal" fill="#000" >2</text>
<text x="491.49" y="1012.80" font-size="16" text-anchor="middle" font-weight="normal" font-style="normal" fill="#000" >3</text>
<text x="513.22" y="1012.80" font-size="16" text-anchor="middle" font-weight="normal" font-style="normal" fill="#000" >4</text>
<text x="534.94" y="1012.80" font-size="16" text-anchor="middle" font-weight="normal" font-style="normal" fill="#000" >5</text>
<text x="556.67" y="1012.80" font-size="16" text-anchor="middle" font-weight="normal" font-style="normal" fill="#000" >6</text>
<text x="578.39" y="1012.80" font-size="16" text-anchor="middle" font-weight="normal" font-style="normal" fill="#000" >7</text>
<text x="600.11" y="1012.80" font-size="16" text-anchor="middle" font-weight="normal" font-style="normal" fill="#000" >8</text>
<text x="621.84" y="1012.80" font-size="16" text-anchor="middle" font-weight="normal" font-style="normal" fill="#000" >9</text>
<text x="75.80" y="982.20" font-size="16" text-anchor="end" font-weight="normal" font-style="normal" fill="#000" >40</text>
<text x="75.80" y="999.00" font-size="16" text-anchor="end" font-weight="normal" font-style="normal" fill="#000" >0</text>
<text x="103.60" y="985.90" font-size="16" text-anchor="start" font-weight="normal" font-style="normal" fill="#000" >Flowering</text>
<polyline points="81.6,1021.8 89.6,1021.8 89.6,1038.5" fill="none" stroke="#000" stroke-width="2"/>
<line x1="81.60" y1="1038.50" x2="633.70" y2="1038.50" stroke="#000" stroke-width="2" />
<line x1="89.60" y1="1038.50" x2="89.60" y2="1046.50" stroke="#000" stroke-width="1.8" />
<line x1="111.32" y1="1038.50" x2="111.32" y2="1046.50" stroke="#000" stroke-width="1.8" />
<line x1="133.05" y1="1038.50" x2="133.05" y2="1046.50" stroke="#000" stroke-width="1.8" />
<line x1="154.77" y1="1038.50" x2="154.77" y2="1046.50" stroke="#000" stroke-width="1.8" />
<line x1="176.50" y1="1038.50" x2="176.50" y2="1046.50" stroke="#000" stroke-width="1.8" />
<line x1="198.22" y1="1038.50" x2="198.22" y2="1046.50" stroke="#000" stroke-width="1.8" />
<line x1="219.94" y1="1038.50" x2="219.94" y2="1046.50" stroke="#000" stroke-width="1.8" />
<line x1="241.67" y1="1038.50" x2="241.67" y2="1046.50" stroke="#000" stroke-width="1.8" />
<line x1="263.39" y1="1038.50" x2="263.39" y2="1046.50" stroke="#000" stroke-width="1.8" />
<line x1="285.12" y1="1038.50" x2="285.12" y2="1046.50" stroke="#000" stroke-width="1.8" />
<line x1="306.84" y1="1038.50" x2="306.84" y2="1046.50" stroke="#000" stroke-width="1.8" />
<line x1="328.56" y1="1038.50" x2="328.56" y2="1046.50" stroke="#000" stroke-width="1.8" />
<line x1="350.29" y1="1038.50" x2="350.29" y2="1046.50" stroke="#000" stroke-width="1.8" />
<line x1="372.01" y1="1038.50" x2="372.01" y2="1046.50" stroke="#000" stroke-width="1.8" />
<line x1="393.74" y1="1038.50" x2="393.74" y2="1046.50" stroke="#000" stroke-width="1.8" />
<line x1="415.46" y1="1038.50" x2="415.46" y2="1046.50" stroke="#000" stroke-width="1.8" />
<line x1="437.18" y1="1038.50" x2="437.18" y2="1046.50" stroke="#000" stroke-width="1.8" />
<line x1="458.91" y1="1038.50" x2="458.91" y2="1046.50" stroke="#000" stroke-width="1.8" />
<line x1="480.63" y1="1038.50" x2="480.63" y2="1046.50" stroke="#000" stroke-width="1.8" />
<line x1="502.36" y1="1038.50" x2="502.36" y2="1046.50" stroke="#000" stroke-width="1.8" />
<line x1="524.08" y1="1038.50" x2="524.08" y2="1046.50" stroke="#000" stroke-width="1.8" />
<line x1="545.80" y1="1038.50" x2="545.80" y2="1046.50" stroke="#000" stroke-width="1.8" />
<line x1="567.53" y1="1038.50" x2="567.53" y2="1046.50" stroke="#000" stroke-width="1.8" />
<line x1="589.25" y1="1038.50" x2="589.25" y2="1046.50" stroke="#000" stroke-width="1.8" />
<line x1="610.98" y1="1038.50" x2="610.98" y2="1046.50" stroke="#000" stroke-width="1.8" />
<line x1="632.70" y1="1038.50" x2="632.70" y2="1046.50" stroke="#000" stroke-width="1.8" />
<text x="100.46" y="1055.90" font-size="16" text-anchor="middle" font-weight="normal" font-style="normal" fill="#000" >9</text>
<text x="122.19" y="1055.90" font-size="16" text-anchor="middle" font-weight="normal" font-style="normal" fill="#000" >10</text>
<text x="143.91" y="1055.90" font-size="16" text-anchor="middle" font-weight="normal" font-style="normal" fill="#000" >11</text>
<text x="165.63" y="1055.90" font-size="16" text-anchor="middle" font-weight="normal" font-style="normal" fill="#000" >12</text>
<text x="187.36" y="1055.90" font-size="16" text-anchor="middle" font-weight="normal" font-style="normal" fill="#000" >1</text>
<text x="209.08" y="1055.90" font-size="16" text-anchor="middle" font-weight="normal" font-style="normal" fill="#000" >2</text>
<text x="230.81" y="1055.90" font-size="16" text-anchor="middle" font-weight="normal" font-style="normal" fill="#000" >3</text>
<text x="252.53" y="1055.90" font-size="16" text-anchor="middle" font-weight="normal" font-style="normal" fill="#000" >4</text>
<text x="274.25" y="1055.90" font-size="16" text-anchor="middle" font-weight="normal" font-style="normal" fill="#000" >5</text>
<text x="295.98" y="1055.90" font-size="16" text-anchor="middle" font-weight="normal" font-style="normal" fill="#000" >6</text>
<text x="317.70" y="1055.90" font-size="16" text-anchor="middle" font-weight="normal" font-style="normal" fill="#000" >7</text>
<text x="339.43" y="1055.90" font-size="16" text-anchor="middle" font-weight="normal" font-style="normal" fill="#000" >8</text>
<text x="361.15" y="1055.90" font-size="16" text-anchor="middle" font-weight="normal" font-style="normal" fill="#000" >9</text>
<text x="382.87" y="1055.90" font-size="16" text-anchor="middle" font-weight="normal" font-style="normal" fill="#000" >10</text>
<text x="404.60" y="1055.90" font-size="16" text-anchor="middle" font-weight="normal" font-style="normal" fill="#000" >11</text>
<text x="426.32" y="1055.90" font-size="16" text-anchor="middle" font-weight="normal" font-style="normal" fill="#000" >12</text>
<text x="448.05" y="1055.90" font-size="16" text-anchor="middle" font-weight="normal" font-style="normal" fill="#000" >1</text>
<text x="469.77" y="1055.90" font-size="16" text-anchor="middle" font-weight="normal" font-style="normal" fill="#000" >2</text>
<text x="491.49" y="1055.90" font-size="16" text-anchor="middle" font-weight="normal" font-style="normal" fill="#000" >3</text>
<text x="513.22" y="1055.90" font-size="16" text-anchor="middle" font-weight="normal" font-style="normal" fill="#000" >4</text>
<text x="534.94" y="1055.90" font-size="16" text-anchor="middle" font-weight="normal" font-style="normal" fill="#000" >5</text>
<text x="556.67" y="1055.90" font-size="16" text-anchor="middle" font-weight="normal" font-style="normal" fill="#000" >6</text>
<text x="578.39" y="1055.90" font-size="16" text-anchor="middle" font-weight="normal" font-style="normal" fill="#000" >7</text>
<text x="600.11" y="1055.90" font-size="16" text-anchor="middle" font-weight="normal" font-style="normal" fill="#000" >8</text>
<text x="621.84" y="1055.90" font-size="16" text-anchor="middle" font-weight="normal" font-style="normal" fill="#000" >9</text>
<text x="75.80" y="1027.40" font-size="16" text-anchor="end" font-weight="normal" font-style="normal" fill="#000" >40</text>
<text x="75.80" y="1044.10" font-size="16" text-anchor="end" font-weight="normal" font-style="normal" fill="#000" >0</text>
<text x="103.60" y="1030.40" font-size="16" text-anchor="start" font-weight="normal" font-style="normal" fill="#000" >Reversion</text>
<text transform="translate(30.00,987.40) rotate(-90)" x="0" y="5.60" font-size="16" text-anchor="middle" font-style="normal">Number of plants</text>
<line x1="91.60" y1="1062.60" x2="630.70" y2="1062.60" stroke="#000" stroke-width="2" />
<polygon points="89.6,1062.6 95.6,1058.6999999999998 93.2,1062.6 95.6,1066.5" fill="#000" stroke="#000" stroke-width="0.8" stroke-linejoin="round"/>
<polygon points="176.5,1062.6 170.5,1058.6999999999998 172.9,1062.6 170.5,1066.5" fill="#000" stroke="#000" stroke-width="0.8" stroke-linejoin="round"/>
<polygon points="176.5,1062.6 182.5,1058.6999999999998 180.1,1062.6 182.5,1066.5" fill="#000" stroke="#000" stroke-width="0.8" stroke-linejoin="round"/>
<polygon points="437.2,1062.6 431.2,1058.6999999999998 433.6,1062.6 431.2,1066.5" fill="#000" stroke="#000" stroke-width="0.8" stroke-linejoin="round"/>
<polygon points="437.2,1062.6 443.2,1058.6999999999998 440.8,1062.6 443.2,1066.5" fill="#000" stroke="#000" stroke-width="0.8" stroke-linejoin="round"/>
<polygon points="632.7,1062.6 626.7,1058.6999999999998 629.1,1062.6 626.7,1066.5" fill="#000" stroke="#000" stroke-width="0.8" stroke-linejoin="round"/>
<text x="135.05" y="1079.10" font-size="16" text-anchor="middle" font-weight="normal" font-style="normal" fill="#000" >2012</text>
<text x="306.84" y="1079.10" font-size="16" text-anchor="middle" font-weight="normal" font-style="normal" fill="#000" >2013</text>
<text x="533.94" y="1079.10" font-size="16" text-anchor="middle" font-weight="normal" font-style="normal" fill="#000" >2014</text>
<text x="361.15" y="1096.60" font-size="16" text-anchor="middle" font-weight="normal" font-style="normal" fill="#000" >Year &amp; month</text>
<rect x="229.0" y="932.8" width="6.6" height="15.4" fill="#000"/>
<rect x="239.2" y="931.0" width="6.6" height="17.2" fill="#000"/>
<rect x="249.1" y="931.0" width="6.6" height="17.2" fill="#000"/>
<rect x="259.1" y="940.9" width="6.6" height="7.3" fill="#000"/>
<rect x="268.3" y="946.3" width="6.6" height="1.9" fill="#000"/>
<rect x="278.8" y="947.0" width="6.6" height="1.2" fill="#000"/>
<rect x="289.2" y="945.0" width="6.6" height="3.2" fill="#000"/>
<rect x="304.3" y="946.6" width="6.6" height="1.6" fill="#000"/>
<rect x="323.7" y="947.0" width="6.6" height="1.2" fill="#000"/>
<rect x="479.1" y="946.6" width="6.6" height="1.6" fill="#000"/>
<rect x="490.7" y="940.8" width="6.6" height="7.4" fill="#000"/>
<rect x="499.3" y="932.3" width="6.6" height="15.9" fill="#000"/>
<rect x="509.0" y="931.9" width="6.6" height="16.3" fill="#000"/>
<rect x="518.6" y="940.0" width="6.6" height="8.2" fill="#000"/>
<rect x="539.0" y="946.6" width="6.6" height="1.6" fill="#000"/>
<rect x="557.8" y="946.6" width="6.6" height="1.6" fill="#000"/>
<rect x="259.1" y="983.0" width="6.6" height="10.4" fill="#000"/>
<rect x="268.3" y="978.2" width="6.6" height="15.2" fill="#000"/>
<rect x="279.0" y="985.4" width="6.6" height="8.0" fill="#000"/>
<rect x="289.2" y="990.1" width="6.6" height="3.3" fill="#000"/>
<rect x="304.1" y="990.9" width="6.6" height="2.5" fill="#000"/>
<rect x="323.9" y="992.0" width="6.6" height="1.4" fill="#000"/>
<rect x="334.0" y="992.2" width="6.6" height="1.2" fill="#000"/>
<rect x="508.7" y="992.0" width="6.6" height="1.4" fill="#000"/>
<rect x="518.6" y="984.4" width="6.6" height="9.0" fill="#000"/>
<rect x="529.2" y="976.8" width="6.6" height="16.6" fill="#000"/>
<rect x="539.0" y="990.5" width="6.6" height="2.9" fill="#000"/>
<rect x="549.4" y="992.0" width="6.6" height="1.4" fill="#000"/>
<rect x="557.7" y="992.0" width="6.6" height="1.4" fill="#000"/>
<rect x="568.4" y="992.0" width="6.6" height="1.4" fill="#000"/>
<rect x="267.9" y="1036.9" width="6.6" height="1.6" fill="#000"/>
<rect x="279.0" y="1029.3" width="6.6" height="9.2" fill="#000"/>
<rect x="289.2" y="1027.3" width="6.6" height="11.2" fill="#000"/>
<rect x="304.1" y="1035.7" width="6.6" height="2.8" fill="#000"/>
<rect x="313.6" y="1037.3" width="6.6" height="1.2" fill="#000"/>
<rect x="344.2" y="1037.3" width="6.6" height="1.2" fill="#000"/>
<rect x="518.6" y="1037.2" width="6.6" height="1.3" fill="#000"/>
<rect x="539.2" y="1024.2" width="6.6" height="14.3" fill="#000"/>
<rect x="549.0" y="1022.2" width="6.6" height="16.3" fill="#000"/>
<rect x="558.6" y="1033.4" width="6.6" height="5.1" fill="#000"/>
<rect x="579.7" y="1037.2" width="6.6" height="1.3" fill="#000"/>
<text x="0.50" y="1127.60" font-size="29" text-anchor="start" font-weight="bold" font-style="normal" fill="#000" >h</text>
<line x1="49.00" y1="1127.60" x2="79.50" y2="1127.60" stroke="#000" stroke-width="2.1" />
<text x="90.00" y="1133.20" font-size="16" text-anchor="start" font-weight="normal" font-style="normal" fill="#000" >21 Nov. 2012</text>
<line x1="49.90" y1="1146.00" x2="79.50" y2="1146.00" stroke="#000" stroke-width="2.0" stroke-dasharray="0.01 8.2" stroke-linecap="round"/>
<text x="90.00" y="1151.60" font-size="16" text-anchor="start" font-weight="normal" font-style="normal" fill="#000" >18 Dec. 2012</text>
<line x1="49.00" y1="1164.40" x2="79.50" y2="1164.40" stroke="#000" stroke-width="2.1" stroke-dasharray="13.5 6.6"/>
<text x="90.00" y="1170.00" font-size="16" text-anchor="start" font-weight="normal" font-style="normal" fill="#000" >22 Jan. 2013</text>
<line x1="196.00" y1="1127.60" x2="224.00" y2="1127.60" stroke="#000" stroke-width="1.4" />
<text x="232.50" y="1133.20" font-size="16" text-anchor="start" font-weight="normal" font-style="normal" fill="#000" >19 Mar. 2013</text>
<polyline points="87.7,1185.0 83.2,1185.0 83.2,1294.5 325.0,1294.5" fill="none" stroke="#000" stroke-width="1.8"/>
<text x="78.20" y="1300.10" font-size="16" text-anchor="end" font-weight="normal" font-style="normal" fill="#000" >0.0</text>
<line x1="83.20" y1="1258.00" x2="87.70" y2="1258.00" stroke="#000" stroke-width="1.8" />
<text x="78.20" y="1263.60" font-size="16" text-anchor="end" font-weight="normal" font-style="normal" fill="#000" >0.3</text>
<line x1="83.20" y1="1221.50" x2="87.70" y2="1221.50" stroke="#000" stroke-width="1.8" />
<text x="78.20" y="1227.10" font-size="16" text-anchor="end" font-weight="normal" font-style="normal" fill="#000" >0.6</text>
<text x="78.20" y="1190.60" font-size="16" text-anchor="end" font-weight="normal" font-style="normal" fill="#000" >0.9</text>
<line x1="91.50" y1="1294.50" x2="91.50" y2="1299.00" stroke="#000" stroke-width="1.8" />
<text x="91.50" y="1316.10" font-size="16" text-anchor="middle" font-weight="normal" font-style="normal" fill="#000" >0</text>
<line x1="162.50" y1="1294.50" x2="162.50" y2="1299.00" stroke="#000" stroke-width="1.8" />
<text x="162.50" y="1316.10" font-size="16" text-anchor="middle" font-weight="normal" font-style="normal" fill="#000" >2000</text>
<line x1="233.50" y1="1294.50" x2="233.50" y2="1299.00" stroke="#000" stroke-width="1.8" />
<text x="233.50" y="1316.10" font-size="16" text-anchor="middle" font-weight="normal" font-style="normal" fill="#000" >4000</text>
<line x1="304.50" y1="1294.50" x2="304.50" y2="1299.00" stroke="#000" stroke-width="1.8" />
<text x="304.50" y="1316.10" font-size="16" text-anchor="middle" font-weight="normal" font-style="normal" fill="#000" >6000</text>
<text x="207.10" y="1335.10" font-size="16" text-anchor="middle" font-weight="normal" font-style="normal" fill="#000" >Distance from TSS (bp)</text>
<text transform="translate(31.70,1239.75) rotate(-90)" x="0" y="5.60" font-size="16" text-anchor="middle" font-style="normal">H3K4me3</text>
<line x1="373.00" y1="1127.30" x2="404.50" y2="1127.30" stroke="#000" stroke-width="2.1" />
<text x="412.00" y="1132.90" font-size="16" text-anchor="start" font-weight="normal" font-style="normal" fill="#000" >19 Mar. 2013</text>
<line x1="373.90" y1="1146.00" x2="404.50" y2="1146.00" stroke="#000" stroke-width="2.0" stroke-dasharray="0.01 8.2" stroke-linecap="round"/>
<text x="412.00" y="1151.60" font-size="16" text-anchor="start" font-weight="normal" font-style="normal" fill="#000" >16 Apr. 2013</text>
<line x1="373.00" y1="1164.30" x2="404.50" y2="1164.30" stroke="#000" stroke-width="2.1" stroke-dasharray="13.5 6.6"/>
<text x="412.00" y="1169.90" font-size="16" text-anchor="start" font-weight="normal" font-style="normal" fill="#000" >13 May 2013</text>
<line x1="519.50" y1="1127.30" x2="548.00" y2="1127.30" stroke="#000" stroke-width="1.4" />
<text x="558.00" y="1132.90" font-size="16" text-anchor="start" font-weight="normal" font-style="normal" fill="#000" >16 Jul. 2013</text>
<polyline points="411.5,1185.5 407.0,1185.5 407.0,1295 648.0,1295" fill="none" stroke="#000" stroke-width="1.8"/>
<text x="402.00" y="1300.60" font-size="16" text-anchor="end" font-weight="normal" font-style="normal" fill="#000" >0.0</text>
<line x1="407.00" y1="1258.50" x2="411.50" y2="1258.50" stroke="#000" stroke-width="1.8" />
<text x="402.00" y="1264.10" font-size="16" text-anchor="end" font-weight="normal" font-style="normal" fill="#000" >0.3</text>
<line x1="407.00" y1="1222.00" x2="411.50" y2="1222.00" stroke="#000" stroke-width="1.8" />
<text x="402.00" y="1227.60" font-size="16" text-anchor="end" font-weight="normal" font-style="normal" fill="#000" >0.6</text>
<text x="402.00" y="1191.10" font-size="16" text-anchor="end" font-weight="normal" font-style="normal" fill="#000" >0.9</text>
<line x1="416.00" y1="1295.00" x2="416.00" y2="1299.50" stroke="#000" stroke-width="1.8" />
<text x="416.00" y="1316.60" font-size="16" text-anchor="middle" font-weight="normal" font-style="normal" fill="#000" >0</text>
<line x1="488.50" y1="1295.00" x2="488.50" y2="1299.50" stroke="#000" stroke-width="1.8" />
<text x="488.50" y="1316.60" font-size="16" text-anchor="middle" font-weight="normal" font-style="normal" fill="#000" >2000</text>
<line x1="561.00" y1="1295.00" x2="561.00" y2="1299.50" stroke="#000" stroke-width="1.8" />
<text x="561.00" y="1316.60" font-size="16" text-anchor="middle" font-weight="normal" font-style="normal" fill="#000" >4000</text>
<line x1="633.50" y1="1295.00" x2="633.50" y2="1299.50" stroke="#000" stroke-width="1.8" />
<text x="633.50" y="1316.60" font-size="16" text-anchor="middle" font-weight="normal" font-style="normal" fill="#000" >6000</text>
<text x="532.00" y="1335.60" font-size="16" text-anchor="middle" font-weight="normal" font-style="normal" fill="#000" >Distance from TSS (bp)</text>
<text transform="translate(364.50,1240.25) rotate(-90)" x="0" y="5.60" font-size="16" text-anchor="middle" font-style="normal">H3K4me3</text>
<text x="0.50" y="1371.90" font-size="29" text-anchor="start" font-weight="bold" font-style="normal" fill="#000" >i</text>
<line x1="48.50" y1="1366.00" x2="80.00" y2="1366.00" stroke="#000" stroke-width="2.1" />
<text x="90.00" y="1371.60" font-size="16" text-anchor="start" font-weight="normal" font-style="normal" fill="#000" >21 Nov. 2012</text>
<line x1="49.40" y1="1384.00" x2="80.00" y2="1384.00" stroke="#000" stroke-width="2.0" stroke-dasharray="0.01 8.2" stroke-linecap="round"/>
<text x="90.00" y="1389.60" font-size="16" text-anchor="start" font-weight="normal" font-style="normal" fill="#000" >18 Dec. 2012</text>
<line x1="48.50" y1="1402.00" x2="80.00" y2="1402.00" stroke="#000" stroke-width="2.1" stroke-dasharray="13.5 6.6"/>
<text x="90.00" y="1407.60" font-size="16" text-anchor="start" font-weight="normal" font-style="normal" fill="#000" >22 Jan. 2013</text>
<line x1="199.00" y1="1366.00" x2="229.00" y2="1366.00" stroke="#000" stroke-width="2.1" stroke-dasharray="4 3.5 12 3.5"/>
<text x="236.00" y="1371.60" font-size="16" text-anchor="start" font-weight="normal" font-style="normal" fill="#000" >19 Feb. 2013</text>
<line x1="199.00" y1="1384.00" x2="229.00" y2="1384.00" stroke="#000" stroke-width="1.4" />
<text x="236.00" y="1389.60" font-size="16" text-anchor="start" font-weight="normal" font-style="normal" fill="#000" >19 Mar. 2013</text>
<polyline points="87.7,1421.0 83.2,1421.0 83.2,1531.0 325.0,1531.0" fill="none" stroke="#000" stroke-width="1.8"/>
<text x="78.20" y="1536.60" font-size="16" text-anchor="end" font-weight="normal" font-style="normal" fill="#000" >0.0</text>
<line x1="83.20" y1="1476.00" x2="87.70" y2="1476.00" stroke="#000" stroke-width="1.8" />
<text x="78.20" y="1481.60" font-size="16" text-anchor="end" font-weight="normal" font-style="normal" fill="#000" >0.6</text>
<text x="78.20" y="1426.60" font-size="16" text-anchor="end" font-weight="normal" font-style="normal" fill="#000" >1.2</text>
<line x1="91.50" y1="1531.00" x2="91.50" y2="1535.50" stroke="#000" stroke-width="1.8" />
<text x="91.50" y="1552.60" font-size="16" text-anchor="middle" font-weight="normal" font-style="normal" fill="#000" >0</text>
<line x1="162.50" y1="1531.00" x2="162.50" y2="1535.50" stroke="#000" stroke-width="1.8" />
<text x="162.50" y="1552.60" font-size="16" text-anchor="middle" font-weight="normal" font-style="normal" fill="#000" >2000</text>
<line x1="233.50" y1="1531.00" x2="233.50" y2="1535.50" stroke="#000" stroke-width="1.8" />
<text x="233.50" y="1552.60" font-size="16" text-anchor="middle" font-weight="normal" font-style="normal" fill="#000" >4000</text>
<line x1="304.50" y1="1531.00" x2="304.50" y2="1535.50" stroke="#000" stroke-width="1.8" />
<text x="304.50" y="1552.60" font-size="16" text-anchor="middle" font-weight="normal" font-style="normal" fill="#000" >6000</text>
<text x="207.10" y="1571.60" font-size="16" text-anchor="middle" font-weight="normal" font-style="normal" fill="#000" >Distance from TSS (bp)</text>
<text transform="translate(31.70,1476.00) rotate(-90)" x="0" y="5.60" font-size="16" text-anchor="middle" font-style="normal">H3K27me3</text>
<line x1="373.00" y1="1366.00" x2="404.50" y2="1366.00" stroke="#000" stroke-width="2.1" />
<text x="412.00" y="1371.60" font-size="16" text-anchor="start" font-weight="normal" font-style="normal" fill="#000" >19 Mar. 2013</text>
<line x1="373.90" y1="1384.00" x2="404.50" y2="1384.00" stroke="#000" stroke-width="2.0" stroke-dasharray="0.01 8.2" stroke-linecap="round"/>
<text x="412.00" y="1389.60" font-size="16" text-anchor="start" font-weight="normal" font-style="normal" fill="#000" >16 Apr. 2013</text>
<line x1="373.00" y1="1402.00" x2="404.50" y2="1402.00" stroke="#000" stroke-width="2.1" stroke-dasharray="13.5 6.6"/>
<text x="412.00" y="1407.60" font-size="16" text-anchor="start" font-weight="normal" font-style="normal" fill="#000" >13 May 2013</text>
<line x1="519.50" y1="1366.00" x2="548.00" y2="1366.00" stroke="#000" stroke-width="2.1" stroke-dasharray="4 3.5 12 3.5"/>
<text x="558.00" y="1371.60" font-size="16" text-anchor="start" font-weight="normal" font-style="normal" fill="#000" >11 Jun. 2013</text>
<line x1="519.50" y1="1384.00" x2="548.00" y2="1384.00" stroke="#000" stroke-width="1.4" />
<text x="558.00" y="1389.60" font-size="16" text-anchor="start" font-weight="normal" font-style="normal" fill="#000" >16 Jul. 2013</text>
<polyline points="411.5,1421.0 407.0,1421.0 407.0,1531.0 648.0,1531.0" fill="none" stroke="#000" stroke-width="1.8"/>
<text x="402.00" y="1536.60" font-size="16" text-anchor="end" font-weight="normal" font-style="normal" fill="#000" >0.0</text>
<line x1="407.00" y1="1476.00" x2="411.50" y2="1476.00" stroke="#000" stroke-width="1.8" />
<text x="402.00" y="1481.60" font-size="16" text-anchor="end" font-weight="normal" font-style="normal" fill="#000" >0.6</text>
<text x="402.00" y="1426.60" font-size="16" text-anchor="end" font-weight="normal" font-style="normal" fill="#000" >1.2</text>
<line x1="416.00" y1="1531.00" x2="416.00" y2="1535.50" stroke="#000" stroke-width="1.8" />
<text x="416.00" y="1552.60" font-size="16" text-anchor="middle" font-weight="normal" font-style="normal" fill="#000" >0</text>
<line x1="488.50" y1="1531.00" x2="488.50" y2="1535.50" stroke="#000" stroke-width="1.8" />
<text x="488.50" y="1552.60" font-size="16" text-anchor="middle" font-weight="normal" font-style="normal" fill="#000" >2000</text>
<line x1="561.00" y1="1531.00" x2="561.00" y2="1535.50" stroke="#000" stroke-width="1.8" />
<text x="561.00" y="1552.60" font-size="16" text-anchor="middle" font-weight="normal" font-style="normal" fill="#000" >4000</text>
<line x1="633.50" y1="1531.00" x2="633.50" y2="1535.50" stroke="#000" stroke-width="1.8" />
<text x="633.50" y="1552.60" font-size="16" text-anchor="middle" font-weight="normal" font-style="normal" fill="#000" >6000</text>
<text x="532.00" y="1571.60" font-size="16" text-anchor="middle" font-weight="normal" font-style="normal" fill="#000" >Distance from TSS (bp)</text>
<text transform="translate(364.50,1476.00) rotate(-90)" x="0" y="5.60" font-size="16" text-anchor="middle" font-style="normal">H3K27me3</text>
<polyline points="95.3,1199.1 103.6,1191.8 137.7,1293.0 191.5,1294.0 259.4,1294.0 294.7,1290.3 308.4,1285.2 322.0,1290.0" fill="none" stroke="#000" stroke-width="2.3" stroke-linejoin="round" />
<path d="M95.3,1176.8V1221.4M92.3,1176.8H98.3M92.3,1221.4H98.3" stroke="#000" stroke-width="1.2" fill="none"/>
<path d="M103.6,1178.6V1204.9M100.6,1178.6H106.6M100.6,1204.9H106.6" stroke="#000" stroke-width="1.2" fill="none"/>
<circle cx="95.3" cy="1199.1" r="3.4" fill="#000"/>
<circle cx="103.6" cy="1191.8" r="3.4" fill="#000"/>
<circle cx="137.7" cy="1293.0" r="3.4" fill="#000"/>
<circle cx="191.5" cy="1294.0" r="3.4" fill="#000"/>
<circle cx="259.4" cy="1294.0" r="3.4" fill="#000"/>
<circle cx="294.7" cy="1290.3" r="3.4" fill="#000"/>
<circle cx="308.4" cy="1285.2" r="3.4" fill="#000"/>
<circle cx="322.0" cy="1290.0" r="3.4" fill="#000"/>
<polyline points="95.3,1242.4 103.6,1232.7 137.7,1293.0 191.5,1294.0 259.4,1294.0 294.7,1277.4 308.4,1264.0 322.0,1275.0" fill="none" stroke="#000" stroke-width="2.1" stroke-linejoin="round" stroke-dasharray="0.01 8" stroke-linecap="round"/>
<path d="M95.3,1233.4V1251.6M92.3,1233.4H98.3M92.3,1251.6H98.3" stroke="#000" stroke-width="1.2" fill="none"/>
<path d="M103.6,1222.4V1242.9M100.6,1222.4H106.6M100.6,1242.9H106.6" stroke="#000" stroke-width="1.2" fill="none"/>
<path d="M308.4,1258.0V1270.0M305.4,1258.0H311.4M305.4,1270.0H311.4" stroke="#000" stroke-width="1.2" fill="none"/>
<circle cx="95.3" cy="1242.4" r="3.4" fill="#000"/>
<circle cx="103.6" cy="1232.7" r="3.4" fill="#000"/>
<circle cx="137.7" cy="1293.0" r="3.4" fill="#000"/>
<circle cx="191.5" cy="1294.0" r="3.4" fill="#000"/>
<circle cx="259.4" cy="1294.0" r="3.4" fill="#000"/>
<circle cx="294.7" cy="1277.4" r="3.4" fill="#000"/>
<circle cx="308.4" cy="1264.0" r="3.4" fill="#000"/>
<circle cx="322.0" cy="1275.0" r="3.4" fill="#000"/>
<polyline points="95.3,1268.9 103.6,1267.7 137.7,1293.0 191.5,1294.0 259.4,1294.0 294.7,1269.9 308.4,1245.8 322.0,1270.6" fill="none" stroke="#000" stroke-width="2.3" stroke-linejoin="round" stroke-dasharray="13.5 6"/>
<path d="M95.3,1264.0V1273.5M92.3,1264.0H98.3M92.3,1273.5H98.3" stroke="#000" stroke-width="1.2" fill="none"/>
<path d="M308.4,1239.2V1252.3M305.4,1239.2H311.4M305.4,1252.3H311.4" stroke="#000" stroke-width="1.2" fill="none"/>
<path d="M322.0,1264.8V1282.0M319.0,1264.8H325.0M319.0,1282.0H325.0" stroke="#000" stroke-width="1.2" fill="none"/>
<circle cx="95.3" cy="1268.9" r="3.4" fill="#000"/>
<circle cx="103.6" cy="1267.7" r="3.4" fill="#000"/>
<circle cx="137.7" cy="1293.0" r="3.4" fill="#000"/>
<circle cx="191.5" cy="1294.0" r="3.4" fill="#000"/>
<circle cx="259.4" cy="1294.0" r="3.4" fill="#000"/>
<circle cx="294.7" cy="1269.9" r="3.4" fill="#000"/>
<circle cx="308.4" cy="1245.8" r="3.4" fill="#000"/>
<circle cx="322.0" cy="1270.6" r="3.4" fill="#000"/>
<polyline points="95.3,1260.4 103.6,1256.8 137.7,1293.0 191.5,1294.0 259.4,1294.0 294.7,1283.7 308.4,1275.0 322.0,1280.8" fill="none" stroke="#000" stroke-width="1.2" stroke-linejoin="round" />
<path d="M103.6,1245.8V1263.0M100.6,1245.8H106.6M100.6,1263.0H106.6" stroke="#000" stroke-width="1.2" fill="none"/>
<circle cx="95.3" cy="1260.4" r="3.4" fill="#000"/>
<circle cx="103.6" cy="1256.8" r="3.4" fill="#000"/>
<circle cx="137.7" cy="1293.0" r="3.4" fill="#000"/>
<circle cx="191.5" cy="1294.0" r="3.4" fill="#000"/>
<circle cx="259.4" cy="1294.0" r="3.4" fill="#000"/>
<circle cx="294.7" cy="1283.7" r="3.4" fill="#000"/>
<circle cx="308.4" cy="1275.0" r="3.4" fill="#000"/>
<circle cx="322.0" cy="1280.8" r="3.4" fill="#000"/>
<polyline points="419.3,1261.1 427.7,1257.9 462.0,1293.0 515.4,1294.6 583.0,1294.6 618.8,1292.0 631.5,1289.0 645.5,1292.5" fill="none" stroke="#000" stroke-width="2.3" stroke-linejoin="round" />
<path d="M419.3,1253.9V1268.0M416.3,1253.9H422.3M416.3,1268.0H422.3" stroke="#000" stroke-width="1.2" fill="none"/>
<path d="M427.7,1246.5V1269.3M424.7,1246.5H430.7M424.7,1269.3H430.7" stroke="#000" stroke-width="1.2" fill="none"/>
<circle cx="419.3" cy="1261.1" r="3.4" fill="#000"/>
<circle cx="427.7" cy="1257.9" r="3.4" fill="#000"/>
<circle cx="462.0" cy="1293.0" r="3.4" fill="#000"/>
<circle cx="515.4" cy="1294.6" r="3.4" fill="#000"/>
<circle cx="583.0" cy="1294.6" r="3.4" fill="#000"/>
<circle cx="618.8" cy="1292.0" r="3.4" fill="#000"/>
<circle cx="631.5" cy="1289.0" r="3.4" fill="#000"/>
<circle cx="645.5" cy="1292.5" r="3.4" fill="#000"/>
<polyline points="419.3,1221.0 427.7,1209.3 462.0,1291.0 515.4,1294.6 583.0,1294.6 618.8,1291.5 631.5,1286.5 645.5,1291.0" fill="none" stroke="#000" stroke-width="2.1" stroke-linejoin="round" stroke-dasharray="0.01 8" stroke-linecap="round"/>
<path d="M419.3,1213.0V1229.0M416.3,1213.0H422.3M416.3,1229.0H422.3" stroke="#000" stroke-width="1.2" fill="none"/>
<path d="M427.7,1203.0V1219.0M424.7,1203.0H430.7M424.7,1219.0H430.7" stroke="#000" stroke-width="1.2" fill="none"/>
<circle cx="419.3" cy="1221.0" r="3.4" fill="#000"/>
<circle cx="427.7" cy="1209.3" r="3.4" fill="#000"/>
<circle cx="462.0" cy="1291.0" r="3.4" fill="#000"/>
<circle cx="515.4" cy="1294.6" r="3.4" fill="#000"/>
<circle cx="583.0" cy="1294.6" r="3.4" fill="#000"/>
<circle cx="618.8" cy="1291.5" r="3.4" fill="#000"/>
<circle cx="631.5" cy="1286.5" r="3.4" fill="#000"/>
<circle cx="645.5" cy="1291.0" r="3.4" fill="#000"/>
<polyline points="419.3,1200.1 427.7,1200.5 462.0,1290.0 515.4,1294.6 583.0,1294.6 618.8,1291.0 631.5,1284.0 645.5,1291.0" fill="none" stroke="#000" stroke-width="2.3" stroke-linejoin="round" stroke-dasharray="13.5 6"/>
<path d="M419.3,1186.0V1214.0M416.3,1186.0H422.3M416.3,1214.0H422.3" stroke="#000" stroke-width="1.2" fill="none"/>
<path d="M631.5,1280.0V1290.0M628.5,1280.0H634.5M628.5,1290.0H634.5" stroke="#000" stroke-width="1.2" fill="none"/>
<circle cx="419.3" cy="1200.1" r="3.4" fill="#000"/>
<circle cx="427.7" cy="1200.5" r="3.4" fill="#000"/>
<circle cx="462.0" cy="1290.0" r="3.4" fill="#000"/>
<circle cx="515.4" cy="1294.6" r="3.4" fill="#000"/>
<circle cx="583.0" cy="1294.6" r="3.4" fill="#000"/>
<circle cx="618.8" cy="1291.0" r="3.4" fill="#000"/>
<circle cx="631.5" cy="1284.0" r="3.4" fill="#000"/>
<circle cx="645.5" cy="1291.0" r="3.4" fill="#000"/>
<polyline points="419.3,1191.4 427.7,1188.9 462.0,1288.1 515.4,1294.0 583.0,1293.8 618.8,1290.9 631.5,1286.5 645.5,1290.9" fill="none" stroke="#000" stroke-width="1.2" stroke-linejoin="round" />
<path d="M419.3,1185.0V1198.0M416.3,1185.0H422.3M416.3,1198.0H422.3" stroke="#000" stroke-width="1.2" fill="none"/>
<path d="M427.7,1176.3V1201.0M424.7,1176.3H430.7M424.7,1201.0H430.7" stroke="#000" stroke-width="1.2" fill="none"/>
<circle cx="419.3" cy="1191.4" r="3.4" fill="#000"/>
<circle cx="427.7" cy="1188.9" r="3.4" fill="#000"/>
<circle cx="462.0" cy="1288.1" r="3.4" fill="#000"/>
<circle cx="515.4" cy="1294.0" r="3.4" fill="#000"/>
<circle cx="583.0" cy="1293.8" r="3.4" fill="#000"/>
<circle cx="618.8" cy="1290.9" r="3.4" fill="#000"/>
<circle cx="631.5" cy="1286.5" r="3.4" fill="#000"/>
<circle cx="645.5" cy="1290.9" r="3.4" fill="#000"/>
<polyline points="95.3,1523.6 103.6,1522.4 137.9,1527.5 191.5,1529.6 258.8,1529.8 295.0,1530.0 308.3,1530.0 321.8,1530.0" fill="none" stroke="#000" stroke-width="2.3" stroke-linejoin="round" />
<path d="M95.3,1518.8V1528.2M92.3,1518.8H98.3M92.3,1528.2H98.3" stroke="#000" stroke-width="1.2" fill="none"/>
<circle cx="95.3" cy="1523.6" r="3.4" fill="#000"/>
<circle cx="103.6" cy="1522.4" r="3.4" fill="#000"/>
<circle cx="137.9" cy="1527.5" r="3.4" fill="#000"/>
<circle cx="191.5" cy="1529.6" r="3.4" fill="#000"/>
<circle cx="258.8" cy="1529.8" r="3.4" fill="#000"/>
<circle cx="295.0" cy="1530.0" r="3.4" fill="#000"/>
<circle cx="308.3" cy="1530.0" r="3.4" fill="#000"/>
<circle cx="321.8" cy="1530.0" r="3.4" fill="#000"/>
<polyline points="95.3,1492.5 103.6,1493.2 137.9,1520.2 191.5,1525.6 258.8,1529.6 295.0,1530.3 308.3,1530.0 321.8,1529.5" fill="none" stroke="#000" stroke-width="2.1" stroke-linejoin="round" stroke-dasharray="0.01 8" stroke-linecap="round"/>
<path d="M95.3,1482.3V1502.3M92.3,1482.3H98.3M92.3,1502.3H98.3" stroke="#000" stroke-width="1.2" fill="none"/>
<circle cx="95.3" cy="1492.5" r="3.4" fill="#000"/>
<circle cx="103.6" cy="1493.2" r="3.4" fill="#000"/>
<circle cx="137.9" cy="1520.2" r="3.4" fill="#000"/>
<circle cx="191.5" cy="1525.6" r="3.4" fill="#000"/>
<circle cx="258.8" cy="1529.6" r="3.4" fill="#000"/>
<circle cx="295.0" cy="1530.3" r="3.4" fill="#000"/>
<circle cx="308.3" cy="1530.0" r="3.4" fill="#000"/>
<circle cx="321.8" cy="1529.5" r="3.4" fill="#000"/>
<polyline points="95.3,1471.6 103.6,1455.3 137.9,1506.6 191.5,1517.9 258.8,1521.7 295.0,1524.5 308.3,1529.1 321.8,1528.0" fill="none" stroke="#000" stroke-width="2.3" stroke-linejoin="round" stroke-dasharray="13.5 6"/>
<path d="M137.9,1501.7V1510.7M134.9,1501.7H140.9M134.9,1510.7H140.9" stroke="#000" stroke-width="1.2" fill="none"/>
<circle cx="95.3" cy="1471.6" r="3.4" fill="#000"/>
<circle cx="103.6" cy="1455.3" r="3.4" fill="#000"/>
<circle cx="137.9" cy="1506.6" r="3.4" fill="#000"/>
<circle cx="191.5" cy="1517.9" r="3.4" fill="#000"/>
<circle cx="258.8" cy="1521.7" r="3.4" fill="#000"/>
<circle cx="295.0" cy="1524.5" r="3.4" fill="#000"/>
<circle cx="308.3" cy="1529.1" r="3.4" fill="#000"/>
<circle cx="321.8" cy="1528.0" r="3.4" fill="#000"/>
<polyline points="95.3,1453.8 103.6,1450.1 137.9,1485.2 191.5,1503.9 258.8,1506.9 295.0,1519.8 308.3,1522.1 321.8,1526.8" fill="none" stroke="#000" stroke-width="2.3" stroke-linejoin="round" stroke-dasharray="12 3.5 4 3.5"/>
<path d="M137.9,1477.4V1492.5M134.9,1477.4H140.9M134.9,1492.5H140.9" stroke="#000" stroke-width="1.2" fill="none"/>
<path d="M191.5,1497.6V1510.4M188.5,1497.6H194.5M188.5,1510.4H194.5" stroke="#000" stroke-width="1.2" fill="none"/>
<circle cx="95.3" cy="1453.8" r="3.4" fill="#000"/>
<circle cx="103.6" cy="1450.1" r="3.4" fill="#000"/>
<circle cx="137.9" cy="1485.2" r="3.4" fill="#000"/>
<circle cx="191.5" cy="1503.9" r="3.4" fill="#000"/>
<circle cx="258.8" cy="1506.9" r="3.4" fill="#000"/>
<circle cx="295.0" cy="1519.8" r="3.4" fill="#000"/>
<circle cx="308.3" cy="1522.1" r="3.4" fill="#000"/>
<circle cx="321.8" cy="1526.8" r="3.4" fill="#000"/>
<polyline points="95.3,1445.8 103.6,1434.8 137.9,1458.9 191.5,1463.7 258.8,1460.2 295.0,1465.4 308.3,1494.1 321.8,1517.5" fill="none" stroke="#000" stroke-width="1.2" stroke-linejoin="round" />
<path d="M95.3,1429.7V1462.0M92.3,1429.7H98.3M92.3,1462.0H98.3" stroke="#000" stroke-width="1.2" fill="none"/>
<path d="M103.6,1414.4V1455.0M100.6,1414.4H106.6M100.6,1455.0H106.6" stroke="#000" stroke-width="1.2" fill="none"/>
<path d="M137.9,1453.8V1463.3M134.9,1453.8H140.9M134.9,1463.3H140.9" stroke="#000" stroke-width="1.2" fill="none"/>
<path d="M191.5,1452.0V1475.4M188.5,1452.0H194.5M188.5,1475.4H194.5" stroke="#000" stroke-width="1.2" fill="none"/>
<path d="M258.8,1452.5V1468.4M255.8,1452.5H261.8M255.8,1468.4H261.8" stroke="#000" stroke-width="1.2" fill="none"/>
<path d="M295.0,1440.8V1489.9M292.0,1440.8H298.0M292.0,1489.9H298.0" stroke="#000" stroke-width="1.2" fill="none"/>
<path d="M308.3,1480.0V1507.6M305.3,1480.0H311.3M305.3,1507.6H311.3" stroke="#000" stroke-width="1.2" fill="none"/>
<path d="M321.8,1510.4V1524.5M318.8,1510.4H324.8M318.8,1524.5H324.8" stroke="#000" stroke-width="1.2" fill="none"/>
<circle cx="95.3" cy="1445.8" r="3.4" fill="#000"/>
<circle cx="103.6" cy="1434.8" r="3.4" fill="#000"/>
<circle cx="137.9" cy="1458.9" r="3.4" fill="#000"/>
<circle cx="191.5" cy="1463.7" r="3.4" fill="#000"/>
<circle cx="258.8" cy="1460.2" r="3.4" fill="#000"/>
<circle cx="295.0" cy="1465.4" r="3.4" fill="#000"/>
<circle cx="308.3" cy="1494.1" r="3.4" fill="#000"/>
<circle cx="321.8" cy="1517.5" r="3.4" fill="#000"/>
<polyline points="419.3,1529.7 427.7,1529.0 462.0,1528.5 515.2,1529.6 583.0,1529.6 618.5,1529.6 632.5,1529.8 646.0,1529.8" fill="none" stroke="#777" stroke-width="1.2" stroke-linejoin="round" />
<circle cx="419.3" cy="1529.7" r="3.4" fill="#000"/>
<circle cx="427.7" cy="1529.0" r="3.4" fill="#000"/>
<circle cx="462.0" cy="1528.5" r="3.4" fill="#000"/>
<circle cx="515.2" cy="1529.6" r="3.4" fill="#000"/>
<circle cx="583.0" cy="1529.6" r="3.4" fill="#000"/>
<circle cx="618.5" cy="1529.6" r="3.4" fill="#000"/>
<circle cx="632.5" cy="1529.8" r="3.4" fill="#000"/>
<circle cx="646.0" cy="1529.8" r="3.4" fill="#000"/>
<polyline points="419.3,1524.6 427.7,1520.2 462.0,1518.8 515.2,1516.3 583.0,1521.0 618.5,1522.6 632.5,1528.7 646.0,1529.2" fill="none" stroke="#000" stroke-width="2.3" stroke-linejoin="round" stroke-dasharray="12 3.5 4 3.5"/>
<circle cx="419.3" cy="1524.6" r="3.4" fill="#000"/>
<circle cx="427.7" cy="1520.2" r="3.4" fill="#000"/>
<circle cx="462.0" cy="1518.8" r="3.4" fill="#000"/>
<circle cx="515.2" cy="1516.3" r="3.4" fill="#000"/>
<circle cx="583.0" cy="1521.0" r="3.4" fill="#000"/>
<circle cx="618.5" cy="1522.6" r="3.4" fill="#000"/>
<circle cx="632.5" cy="1528.7" r="3.4" fill="#000"/>
<circle cx="646.0" cy="1529.2" r="3.4" fill="#000"/>
<polyline points="419.3,1512.5 427.7,1506.4 462.0,1500.5 515.2,1504.6 583.0,1506.9 618.5,1514.0 632.5,1524.5 646.0,1528.0" fill="none" stroke="#000" stroke-width="2.3" stroke-linejoin="round" stroke-dasharray="13.5 6"/>
<path d="M462.0,1496.1V1504.9M459.0,1496.1H465.0M459.0,1504.9H465.0" stroke="#000" stroke-width="1.2" fill="none"/>
<path d="M515.2,1498.3V1510.4M512.2,1498.3H518.2M512.2,1510.4H518.2" stroke="#000" stroke-width="1.2" fill="none"/>
<path d="M583.0,1501.0V1512.8M580.0,1501.0H586.0M580.0,1512.8H586.0" stroke="#000" stroke-width="1.2" fill="none"/>
<path d="M618.5,1505.8V1518.0M615.5,1505.8H621.5M615.5,1518.0H621.5" stroke="#000" stroke-width="1.2" fill="none"/>
<circle cx="419.3" cy="1512.5" r="3.4" fill="#000"/>
<circle cx="427.7" cy="1506.4" r="3.4" fill="#000"/>
<circle cx="462.0" cy="1500.5" r="3.4" fill="#000"/>
<circle cx="515.2" cy="1504.6" r="3.4" fill="#000"/>
<circle cx="583.0" cy="1506.9" r="3.4" fill="#000"/>
<circle cx="618.5" cy="1514.0" r="3.4" fill="#000"/>
<circle cx="632.5" cy="1524.5" r="3.4" fill="#000"/>
<circle cx="646.0" cy="1528.0" r="3.4" fill="#000"/>
<polyline points="419.3,1477.2 427.7,1459.6 462.0,1458.9 515.2,1473.5 583.0,1462.6 618.5,1485.9 632.5,1505.3 646.0,1515.0" fill="none" stroke="#000" stroke-width="2.1" stroke-linejoin="round" stroke-dasharray="0.01 8" stroke-linecap="round"/>
<path d="M419.3,1467.7V1486.6M416.3,1467.7H422.3M416.3,1486.6H422.3" stroke="#000" stroke-width="1.2" fill="none"/>
<path d="M427.7,1447.7V1470.6M424.7,1447.7H430.7M424.7,1470.6H430.7" stroke="#000" stroke-width="1.2" fill="none"/>
<path d="M515.2,1463.0V1487.0M512.2,1463.0H518.2M512.2,1487.0H518.2" stroke="#000" stroke-width="1.2" fill="none"/>
<circle cx="419.3" cy="1477.2" r="3.4" fill="#000"/>
<circle cx="427.7" cy="1459.6" r="3.4" fill="#000"/>
<circle cx="462.0" cy="1458.9" r="3.4" fill="#000"/>
<circle cx="515.2" cy="1473.5" r="3.4" fill="#000"/>
<circle cx="583.0" cy="1462.6" r="3.4" fill="#000"/>
<circle cx="618.5" cy="1485.9" r="3.4" fill="#000"/>
<circle cx="632.5" cy="1505.3" r="3.4" fill="#000"/>
<circle cx="646.0" cy="1515.0" r="3.4" fill="#000"/>
<polyline points="419.3,1445.8 427.7,1434.8 462.0,1457.4 515.2,1463.7 583.0,1460.2 618.5,1465.4 632.5,1494.1 646.0,1517.9" fill="none" stroke="#000" stroke-width="2.3" stroke-linejoin="round" />
<path d="M419.3,1429.7V1461.8M416.3,1429.7H422.3M416.3,1461.8H422.3" stroke="#000" stroke-width="1.2" fill="none"/>
<path d="M427.7,1414.4V1445.0M424.7,1414.4H430.7M424.7,1445.0H430.7" stroke="#000" stroke-width="1.2" fill="none"/>
<path d="M462.0,1443.6V1469.1M459.0,1443.6H465.0M459.0,1469.1H465.0" stroke="#000" stroke-width="1.2" fill="none"/>
<path d="M515.2,1452.0V1475.0M512.2,1452.0H518.2M512.2,1475.0H518.2" stroke="#000" stroke-width="1.2" fill="none"/>
<path d="M583.0,1450.9V1471.9M580.0,1450.9H586.0M580.0,1471.9H586.0" stroke="#000" stroke-width="1.2" fill="none"/>
<path d="M618.5,1440.8V1490.0M615.5,1440.8H621.5M615.5,1490.0H621.5" stroke="#000" stroke-width="1.2" fill="none"/>
<path d="M632.5,1480.0V1507.0M629.5,1480.0H635.5M629.5,1507.0H635.5" stroke="#000" stroke-width="1.2" fill="none"/>
<path d="M646.0,1510.0V1524.0M643.0,1510.0H649.0M643.0,1524.0H649.0" stroke="#000" stroke-width="1.2" fill="none"/>
<circle cx="419.3" cy="1445.8" r="3.4" fill="#000"/>
<circle cx="427.7" cy="1434.8" r="3.4" fill="#000"/>
<circle cx="462.0" cy="1457.4" r="3.4" fill="#000"/>
<circle cx="515.2" cy="1463.7" r="3.4" fill="#000"/>
<circle cx="583.0" cy="1460.2" r="3.4" fill="#000"/>
<circle cx="618.5" cy="1465.4" r="3.4" fill="#000"/>
<circle cx="632.5" cy="1494.1" r="3.4" fill="#000"/>
<circle cx="646.0" cy="1517.9" r="3.4" fill="#000"/>
</svg>
</body></html>
